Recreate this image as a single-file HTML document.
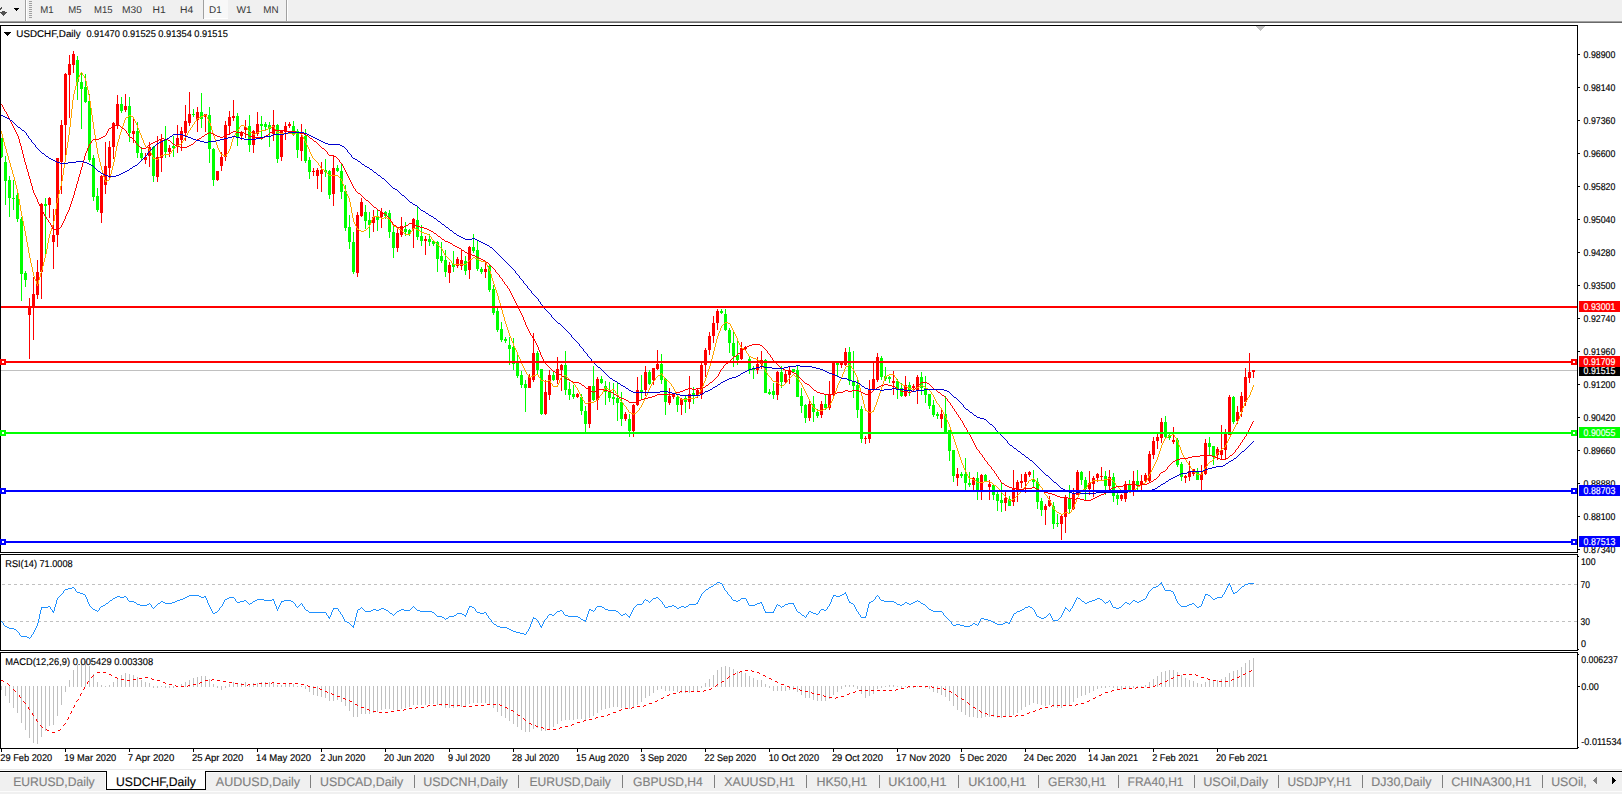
<!DOCTYPE html>
<html><head><meta charset="utf-8"><title>USDCHF,Daily</title>
<style>
html,body{margin:0;padding:0;background:#fff}
body{width:1622px;height:794px;position:relative;overflow:hidden;font-family:"Liberation Sans",sans-serif}
text{white-space:pre;text-rendering:geometricPrecision}
</style></head><body>
<svg width="1622" height="794" viewBox="0 0 1622 794" style="position:absolute;left:0;top:0" font-family="Liberation Sans, sans-serif" shape-rendering="crispEdges">
<rect x="0" y="0" width="1622" height="21" fill="#f0f0f0"/>
<rect x="0" y="21" width="1622" height="1" fill="#a0a0a0"/>
<rect x="0" y="22" width="1622" height="1" fill="#696969"/>
<rect x="25" y="0" width="1" height="21" fill="#a0a0a0"/>
<rect x="26" y="0" width="1" height="21" fill="#fff"/>
<rect x="286" y="0" width="1" height="21" fill="#a0a0a0"/>
<rect x="287" y="0" width="1" height="21" fill="#fff"/>
<rect x="203" y="0" width="1" height="19" fill="#a0a0a0"/>
<rect x="204" y="0" width="24" height="18" fill="#f8f8f8"/>
<rect x="204" y="18" width="24" height="1" fill="#fff"/>
<rect x="29" y="1" width="3" height="1" fill="#a0a0a0"/>
<rect x="29" y="3" width="3" height="1" fill="#a0a0a0"/>
<rect x="29" y="5" width="3" height="1" fill="#a0a0a0"/>
<rect x="29" y="7" width="3" height="1" fill="#a0a0a0"/>
<rect x="29" y="9" width="3" height="1" fill="#a0a0a0"/>
<rect x="29" y="11" width="3" height="1" fill="#a0a0a0"/>
<rect x="29" y="13" width="3" height="1" fill="#a0a0a0"/>
<rect x="29" y="15" width="3" height="1" fill="#a0a0a0"/>
<rect x="29" y="17" width="3" height="1" fill="#a0a0a0"/>
<path d="M14 8h5v1h-1v1h-1v1h-1v-1h-1v-1h-1z" fill="#000"/>
<path fill="#505050" d="M1 7h1v2h-1zM0 8h1v2h-1zM2 11h3v1h-3zM0 12h7v1h-7zM1 13h5v1h-5zM2 14h3v1h-3zM3 15h1v1h-1z"/>
<text x="40.2" y="13" font-size="9.8" fill="#383838" stroke="#383838" stroke-width="0" textLength="13.4" lengthAdjust="spacingAndGlyphs">M1</text>
<text x="68.2" y="13" font-size="9.8" fill="#383838" stroke="#383838" stroke-width="0" textLength="13.3" lengthAdjust="spacingAndGlyphs">M5</text>
<text x="94" y="13" font-size="9.8" fill="#383838" stroke="#383838" stroke-width="0" textLength="18.5" lengthAdjust="spacingAndGlyphs">M15</text>
<text x="122.1" y="13" font-size="9.8" fill="#383838" stroke="#383838" stroke-width="0" textLength="19.9" lengthAdjust="spacingAndGlyphs">M30</text>
<text x="152.6" y="13" font-size="9.8" fill="#383838" stroke="#383838" stroke-width="0" textLength="13.2" lengthAdjust="spacingAndGlyphs">H1</text>
<text x="180.1" y="13" font-size="9.8" fill="#383838" stroke="#383838" stroke-width="0" textLength="13.2" lengthAdjust="spacingAndGlyphs">H4</text>
<text x="209.1" y="13" font-size="9.8" fill="#383838" stroke="#383838" stroke-width="0" textLength="12.7" lengthAdjust="spacingAndGlyphs">D1</text>
<text x="236.4" y="13" font-size="9.8" fill="#383838" stroke="#383838" stroke-width="0" textLength="15.2" lengthAdjust="spacingAndGlyphs">W1</text>
<text x="263.3" y="13" font-size="9.8" fill="#383838" stroke="#383838" stroke-width="0" textLength="15.3" lengthAdjust="spacingAndGlyphs">MN</text>
<rect x="0" y="25" width="1" height="724" fill="#000"/>
<rect x="0" y="25" width="1578" height="1" fill="#000"/>
<rect x="0" y="552" width="1578" height="1" fill="#000"/>
<rect x="1577" y="25" width="1" height="528" fill="#000"/>
<rect x="0" y="554" width="1578" height="1" fill="#000"/>
<rect x="0" y="650" width="1578" height="1" fill="#000"/>
<rect x="1577" y="554" width="1" height="97" fill="#000"/>
<rect x="0" y="652" width="1578" height="1" fill="#000"/>
<rect x="0" y="748" width="1578" height="1" fill="#000"/>
<rect x="1577" y="652" width="1" height="97" fill="#000"/>
<rect x="0" y="553" width="1578" height="1" fill="#fff"/>
<rect x="0" y="651" width="1578" height="1" fill="#fff"/>
<clipPath id="cm"><rect x="1" y="26" width="1576" height="526"/></clipPath>
<clipPath id="cr"><rect x="1" y="555" width="1576" height="95"/></clipPath>
<clipPath id="cd"><rect x="1" y="653" width="1576" height="95"/></clipPath>
<g clip-path="url(#cm)">
<rect x="1" y="370" width="1576" height="1" fill="#c0c0c0"/>
<rect x="1" y="138" width="1" height="20" fill="#00ff00"/>
<rect x="0" y="138" width="3" height="19" fill="#00ff00"/>
<rect x="5" y="156" width="1" height="49" fill="#00ff00"/>
<rect x="4" y="162" width="3" height="19" fill="#00ff00"/>
<rect x="9" y="176" width="1" height="41" fill="#00ff00"/>
<rect x="8" y="180" width="3" height="18" fill="#00ff00"/>
<rect x="13" y="180" width="1" height="30" fill="#00ff00"/>
<rect x="12" y="198" width="3" height="1" fill="#00ff00"/>
<rect x="17" y="192" width="1" height="30" fill="#00ff00"/>
<rect x="16" y="195" width="3" height="24" fill="#00ff00"/>
<rect x="21" y="217" width="1" height="84" fill="#00ff00"/>
<rect x="20" y="219" width="3" height="55" fill="#00ff00"/>
<rect x="25" y="271" width="1" height="16" fill="#00ff00"/>
<rect x="24" y="273" width="3" height="7" fill="#00ff00"/>
<rect x="29" y="298" width="1" height="61" fill="#ff0000"/>
<rect x="28" y="307" width="3" height="8" fill="#ff0000"/>
<rect x="33" y="277" width="1" height="63" fill="#ff0000"/>
<rect x="32" y="294" width="3" height="14" fill="#ff0000"/>
<rect x="37" y="260" width="1" height="39" fill="#ff0000"/>
<rect x="36" y="272" width="3" height="23" fill="#ff0000"/>
<rect x="41" y="203" width="1" height="96" fill="#ff0000"/>
<rect x="40" y="204" width="3" height="68" fill="#ff0000"/>
<rect x="45" y="198" width="1" height="57" fill="#00ff00"/>
<rect x="44" y="204" width="3" height="2" fill="#00ff00"/>
<rect x="49" y="197" width="1" height="21" fill="#ff0000"/>
<rect x="48" y="198" width="3" height="7" fill="#ff0000"/>
<rect x="53" y="209" width="1" height="60" fill="#ff0000"/>
<rect x="52" y="235" width="3" height="7" fill="#ff0000"/>
<rect x="57" y="158" width="1" height="89" fill="#ff0000"/>
<rect x="56" y="158" width="3" height="77" fill="#ff0000"/>
<rect x="61" y="120" width="1" height="74" fill="#ff0000"/>
<rect x="60" y="125" width="3" height="37" fill="#ff0000"/>
<rect x="65" y="73" width="1" height="83" fill="#ff0000"/>
<rect x="64" y="74" width="3" height="51" fill="#ff0000"/>
<rect x="69" y="55" width="1" height="63" fill="#ff0000"/>
<rect x="68" y="64" width="3" height="11" fill="#ff0000"/>
<rect x="73" y="51" width="1" height="22" fill="#ff0000"/>
<rect x="72" y="54" width="3" height="11" fill="#ff0000"/>
<rect x="77" y="56" width="1" height="44" fill="#00ff00"/>
<rect x="76" y="60" width="3" height="22" fill="#00ff00"/>
<rect x="81" y="72" width="1" height="57" fill="#00ff00"/>
<rect x="80" y="82" width="3" height="7" fill="#00ff00"/>
<rect x="85" y="74" width="1" height="29" fill="#00ff00"/>
<rect x="84" y="87" width="3" height="15" fill="#00ff00"/>
<rect x="89" y="94" width="1" height="68" fill="#00ff00"/>
<rect x="88" y="101" width="3" height="59" fill="#00ff00"/>
<rect x="93" y="155" width="1" height="46" fill="#00ff00"/>
<rect x="92" y="158" width="3" height="39" fill="#00ff00"/>
<rect x="97" y="188" width="1" height="24" fill="#00ff00"/>
<rect x="96" y="196" width="3" height="14" fill="#00ff00"/>
<rect x="101" y="175" width="1" height="48" fill="#ff0000"/>
<rect x="100" y="176" width="3" height="37" fill="#ff0000"/>
<rect x="105" y="142" width="1" height="52" fill="#ff0000"/>
<rect x="104" y="166" width="3" height="19" fill="#ff0000"/>
<rect x="109" y="141" width="1" height="37" fill="#ff0000"/>
<rect x="108" y="147" width="3" height="21" fill="#ff0000"/>
<rect x="113" y="122" width="1" height="37" fill="#ff0000"/>
<rect x="112" y="123" width="3" height="24" fill="#ff0000"/>
<rect x="117" y="95" width="1" height="34" fill="#ff0000"/>
<rect x="116" y="104" width="3" height="21" fill="#ff0000"/>
<rect x="121" y="97" width="1" height="16" fill="#00ff00"/>
<rect x="120" y="104" width="3" height="7" fill="#00ff00"/>
<rect x="125" y="94" width="1" height="18" fill="#ff0000"/>
<rect x="124" y="106" width="3" height="4" fill="#ff0000"/>
<rect x="129" y="97" width="1" height="45" fill="#00ff00"/>
<rect x="128" y="106" width="3" height="27" fill="#00ff00"/>
<rect x="133" y="117" width="1" height="26" fill="#ff0000"/>
<rect x="132" y="131" width="3" height="3" fill="#ff0000"/>
<rect x="137" y="122" width="1" height="36" fill="#00ff00"/>
<rect x="136" y="131" width="3" height="22" fill="#00ff00"/>
<rect x="141" y="147" width="1" height="14" fill="#00ff00"/>
<rect x="140" y="153" width="3" height="5" fill="#00ff00"/>
<rect x="145" y="153" width="1" height="11" fill="#ff0000"/>
<rect x="144" y="157" width="3" height="3" fill="#ff0000"/>
<rect x="149" y="142" width="1" height="25" fill="#ff0000"/>
<rect x="148" y="147" width="3" height="9" fill="#ff0000"/>
<rect x="153" y="146" width="1" height="36" fill="#00ff00"/>
<rect x="152" y="147" width="3" height="29" fill="#00ff00"/>
<rect x="157" y="136" width="1" height="46" fill="#ff0000"/>
<rect x="156" y="157" width="3" height="20" fill="#ff0000"/>
<rect x="161" y="134" width="1" height="38" fill="#ff0000"/>
<rect x="160" y="140" width="3" height="18" fill="#ff0000"/>
<rect x="165" y="126" width="1" height="32" fill="#00ff00"/>
<rect x="164" y="140" width="3" height="12" fill="#00ff00"/>
<rect x="169" y="145" width="1" height="12" fill="#ff0000"/>
<rect x="168" y="148" width="3" height="4" fill="#ff0000"/>
<rect x="173" y="136" width="1" height="21" fill="#00ff00"/>
<rect x="172" y="146" width="3" height="2" fill="#00ff00"/>
<rect x="177" y="125" width="1" height="28" fill="#ff0000"/>
<rect x="176" y="138" width="3" height="9" fill="#ff0000"/>
<rect x="181" y="127" width="1" height="24" fill="#ff0000"/>
<rect x="180" y="131" width="3" height="9" fill="#ff0000"/>
<rect x="185" y="105" width="1" height="36" fill="#ff0000"/>
<rect x="184" y="121" width="3" height="12" fill="#ff0000"/>
<rect x="189" y="92" width="1" height="34" fill="#ff0000"/>
<rect x="188" y="114" width="3" height="9" fill="#ff0000"/>
<rect x="193" y="109" width="1" height="8" fill="#00ff00"/>
<rect x="192" y="114" width="3" height="1" fill="#00ff00"/>
<rect x="197" y="107" width="1" height="25" fill="#ff0000"/>
<rect x="196" y="112" width="3" height="8" fill="#ff0000"/>
<rect x="201" y="93" width="1" height="35" fill="#00ff00"/>
<rect x="200" y="112" width="3" height="7" fill="#00ff00"/>
<rect x="205" y="114" width="1" height="18" fill="#ff0000"/>
<rect x="204" y="114" width="3" height="3" fill="#ff0000"/>
<rect x="209" y="107" width="1" height="56" fill="#00ff00"/>
<rect x="208" y="115" width="3" height="34" fill="#00ff00"/>
<rect x="213" y="148" width="1" height="38" fill="#00ff00"/>
<rect x="212" y="149" width="3" height="31" fill="#00ff00"/>
<rect x="217" y="171" width="1" height="10" fill="#ff0000"/>
<rect x="216" y="171" width="3" height="9" fill="#ff0000"/>
<rect x="221" y="152" width="1" height="19" fill="#ff0000"/>
<rect x="220" y="157" width="3" height="9" fill="#ff0000"/>
<rect x="225" y="121" width="1" height="40" fill="#ff0000"/>
<rect x="224" y="125" width="3" height="32" fill="#ff0000"/>
<rect x="229" y="111" width="1" height="24" fill="#ff0000"/>
<rect x="228" y="117" width="3" height="9" fill="#ff0000"/>
<rect x="233" y="100" width="1" height="21" fill="#ff0000"/>
<rect x="232" y="116" width="3" height="2" fill="#ff0000"/>
<rect x="237" y="113" width="1" height="33" fill="#00ff00"/>
<rect x="236" y="116" width="3" height="21" fill="#00ff00"/>
<rect x="241" y="131" width="1" height="9" fill="#ff0000"/>
<rect x="240" y="133" width="3" height="3" fill="#ff0000"/>
<rect x="245" y="120" width="1" height="18" fill="#ff0000"/>
<rect x="244" y="127" width="3" height="3" fill="#ff0000"/>
<rect x="249" y="115" width="1" height="37" fill="#00ff00"/>
<rect x="248" y="126" width="3" height="19" fill="#00ff00"/>
<rect x="253" y="130" width="1" height="23" fill="#ff0000"/>
<rect x="252" y="131" width="3" height="14" fill="#ff0000"/>
<rect x="257" y="112" width="1" height="24" fill="#ff0000"/>
<rect x="256" y="124" width="3" height="10" fill="#ff0000"/>
<rect x="261" y="116" width="1" height="24" fill="#00ff00"/>
<rect x="260" y="124" width="3" height="2" fill="#00ff00"/>
<rect x="265" y="122" width="1" height="8" fill="#00ff00"/>
<rect x="264" y="124" width="3" height="3" fill="#00ff00"/>
<rect x="269" y="122" width="1" height="25" fill="#00ff00"/>
<rect x="268" y="125" width="3" height="4" fill="#00ff00"/>
<rect x="273" y="110" width="1" height="31" fill="#ff0000"/>
<rect x="272" y="125" width="3" height="9" fill="#ff0000"/>
<rect x="277" y="124" width="1" height="39" fill="#00ff00"/>
<rect x="276" y="125" width="3" height="34" fill="#00ff00"/>
<rect x="281" y="130" width="1" height="31" fill="#ff0000"/>
<rect x="280" y="130" width="3" height="27" fill="#ff0000"/>
<rect x="285" y="122" width="1" height="18" fill="#ff0000"/>
<rect x="284" y="126" width="3" height="6" fill="#ff0000"/>
<rect x="289" y="122" width="1" height="6" fill="#ff0000"/>
<rect x="288" y="124" width="3" height="2" fill="#ff0000"/>
<rect x="293" y="121" width="1" height="15" fill="#00ff00"/>
<rect x="292" y="126" width="3" height="8" fill="#00ff00"/>
<rect x="297" y="129" width="1" height="29" fill="#00ff00"/>
<rect x="296" y="131" width="3" height="19" fill="#00ff00"/>
<rect x="301" y="124" width="1" height="37" fill="#ff0000"/>
<rect x="300" y="137" width="3" height="14" fill="#ff0000"/>
<rect x="305" y="129" width="1" height="34" fill="#00ff00"/>
<rect x="304" y="136" width="3" height="25" fill="#00ff00"/>
<rect x="309" y="157" width="1" height="22" fill="#00ff00"/>
<rect x="308" y="160" width="3" height="12" fill="#00ff00"/>
<rect x="313" y="168" width="1" height="8" fill="#ff0000"/>
<rect x="312" y="171" width="3" height="1" fill="#ff0000"/>
<rect x="317" y="168" width="1" height="21" fill="#ff0000"/>
<rect x="316" y="170" width="3" height="6" fill="#ff0000"/>
<rect x="321" y="162" width="1" height="30" fill="#ff0000"/>
<rect x="320" y="170" width="3" height="4" fill="#ff0000"/>
<rect x="325" y="159" width="1" height="18" fill="#00ff00"/>
<rect x="324" y="170" width="3" height="2" fill="#00ff00"/>
<rect x="329" y="170" width="1" height="29" fill="#00ff00"/>
<rect x="328" y="171" width="3" height="24" fill="#00ff00"/>
<rect x="333" y="156" width="1" height="50" fill="#ff0000"/>
<rect x="332" y="168" width="3" height="26" fill="#ff0000"/>
<rect x="337" y="165" width="1" height="7" fill="#00ff00"/>
<rect x="336" y="168" width="3" height="3" fill="#00ff00"/>
<rect x="341" y="164" width="1" height="35" fill="#00ff00"/>
<rect x="340" y="171" width="3" height="21" fill="#00ff00"/>
<rect x="345" y="185" width="1" height="46" fill="#00ff00"/>
<rect x="344" y="191" width="3" height="37" fill="#00ff00"/>
<rect x="349" y="215" width="1" height="34" fill="#00ff00"/>
<rect x="348" y="227" width="3" height="15" fill="#00ff00"/>
<rect x="353" y="232" width="1" height="42" fill="#00ff00"/>
<rect x="352" y="242" width="3" height="30" fill="#00ff00"/>
<rect x="357" y="212" width="1" height="65" fill="#ff0000"/>
<rect x="356" y="215" width="3" height="58" fill="#ff0000"/>
<rect x="361" y="198" width="1" height="19" fill="#ff0000"/>
<rect x="360" y="202" width="3" height="14" fill="#ff0000"/>
<rect x="365" y="205" width="1" height="24" fill="#00ff00"/>
<rect x="364" y="212" width="3" height="9" fill="#00ff00"/>
<rect x="369" y="212" width="1" height="26" fill="#00ff00"/>
<rect x="368" y="220" width="3" height="5" fill="#00ff00"/>
<rect x="373" y="210" width="1" height="22" fill="#ff0000"/>
<rect x="372" y="217" width="3" height="6" fill="#ff0000"/>
<rect x="377" y="210" width="1" height="21" fill="#00ff00"/>
<rect x="376" y="217" width="3" height="3" fill="#00ff00"/>
<rect x="381" y="208" width="1" height="20" fill="#ff0000"/>
<rect x="380" y="212" width="3" height="5" fill="#ff0000"/>
<rect x="385" y="211" width="1" height="8" fill="#00ff00"/>
<rect x="384" y="212" width="3" height="4" fill="#00ff00"/>
<rect x="389" y="210" width="1" height="28" fill="#00ff00"/>
<rect x="388" y="213" width="3" height="19" fill="#00ff00"/>
<rect x="393" y="226" width="1" height="32" fill="#00ff00"/>
<rect x="392" y="232" width="3" height="16" fill="#00ff00"/>
<rect x="397" y="227" width="1" height="25" fill="#ff0000"/>
<rect x="396" y="233" width="3" height="15" fill="#ff0000"/>
<rect x="401" y="217" width="1" height="20" fill="#ff0000"/>
<rect x="400" y="226" width="3" height="9" fill="#ff0000"/>
<rect x="405" y="222" width="1" height="14" fill="#00ff00"/>
<rect x="404" y="229" width="3" height="3" fill="#00ff00"/>
<rect x="409" y="229" width="1" height="7" fill="#00ff00"/>
<rect x="408" y="230" width="3" height="4" fill="#00ff00"/>
<rect x="413" y="218" width="1" height="30" fill="#ff0000"/>
<rect x="412" y="219" width="3" height="10" fill="#ff0000"/>
<rect x="417" y="207" width="1" height="33" fill="#00ff00"/>
<rect x="416" y="220" width="3" height="17" fill="#00ff00"/>
<rect x="421" y="225" width="1" height="21" fill="#00ff00"/>
<rect x="420" y="236" width="3" height="5" fill="#00ff00"/>
<rect x="425" y="236" width="1" height="19" fill="#ff0000"/>
<rect x="424" y="239" width="3" height="2" fill="#ff0000"/>
<rect x="429" y="234" width="1" height="12" fill="#00ff00"/>
<rect x="428" y="239" width="3" height="3" fill="#00ff00"/>
<rect x="433" y="240" width="1" height="6" fill="#00ff00"/>
<rect x="432" y="241" width="3" height="3" fill="#00ff00"/>
<rect x="437" y="241" width="1" height="31" fill="#00ff00"/>
<rect x="436" y="242" width="3" height="17" fill="#00ff00"/>
<rect x="441" y="242" width="1" height="21" fill="#00ff00"/>
<rect x="440" y="256" width="3" height="5" fill="#00ff00"/>
<rect x="445" y="250" width="1" height="27" fill="#00ff00"/>
<rect x="444" y="260" width="3" height="12" fill="#00ff00"/>
<rect x="449" y="262" width="1" height="21" fill="#ff0000"/>
<rect x="448" y="265" width="3" height="8" fill="#ff0000"/>
<rect x="453" y="251" width="1" height="21" fill="#00ff00"/>
<rect x="452" y="264" width="3" height="3" fill="#00ff00"/>
<rect x="457" y="257" width="1" height="11" fill="#ff0000"/>
<rect x="456" y="259" width="3" height="7" fill="#ff0000"/>
<rect x="461" y="249" width="1" height="21" fill="#ff0000"/>
<rect x="460" y="260" width="3" height="6" fill="#ff0000"/>
<rect x="465" y="256" width="1" height="19" fill="#00ff00"/>
<rect x="464" y="261" width="3" height="10" fill="#00ff00"/>
<rect x="469" y="246" width="1" height="33" fill="#ff0000"/>
<rect x="468" y="247" width="3" height="23" fill="#ff0000"/>
<rect x="473" y="234" width="1" height="19" fill="#00ff00"/>
<rect x="472" y="247" width="3" height="4" fill="#00ff00"/>
<rect x="477" y="240" width="1" height="31" fill="#00ff00"/>
<rect x="476" y="250" width="3" height="19" fill="#00ff00"/>
<rect x="481" y="267" width="1" height="7" fill="#00ff00"/>
<rect x="480" y="269" width="3" height="3" fill="#00ff00"/>
<rect x="485" y="261" width="1" height="17" fill="#ff0000"/>
<rect x="484" y="269" width="3" height="3" fill="#ff0000"/>
<rect x="489" y="265" width="1" height="27" fill="#00ff00"/>
<rect x="488" y="266" width="3" height="24" fill="#00ff00"/>
<rect x="493" y="285" width="1" height="30" fill="#00ff00"/>
<rect x="492" y="289" width="3" height="24" fill="#00ff00"/>
<rect x="497" y="308" width="1" height="24" fill="#00ff00"/>
<rect x="496" y="311" width="3" height="19" fill="#00ff00"/>
<rect x="501" y="322" width="1" height="20" fill="#00ff00"/>
<rect x="500" y="329" width="3" height="11" fill="#00ff00"/>
<rect x="505" y="337" width="1" height="6" fill="#00ff00"/>
<rect x="504" y="339" width="3" height="2" fill="#00ff00"/>
<rect x="509" y="337" width="1" height="28" fill="#00ff00"/>
<rect x="508" y="345" width="3" height="4" fill="#00ff00"/>
<rect x="513" y="338" width="1" height="32" fill="#00ff00"/>
<rect x="512" y="347" width="3" height="17" fill="#00ff00"/>
<rect x="517" y="355" width="1" height="23" fill="#00ff00"/>
<rect x="516" y="363" width="3" height="13" fill="#00ff00"/>
<rect x="521" y="371" width="1" height="17" fill="#00ff00"/>
<rect x="520" y="375" width="3" height="10" fill="#00ff00"/>
<rect x="525" y="380" width="1" height="32" fill="#00ff00"/>
<rect x="524" y="384" width="3" height="4" fill="#00ff00"/>
<rect x="529" y="374" width="1" height="14" fill="#ff0000"/>
<rect x="528" y="377" width="3" height="11" fill="#ff0000"/>
<rect x="533" y="333" width="1" height="49" fill="#ff0000"/>
<rect x="532" y="353" width="3" height="27" fill="#ff0000"/>
<rect x="537" y="351" width="1" height="23" fill="#00ff00"/>
<rect x="536" y="353" width="3" height="17" fill="#00ff00"/>
<rect x="541" y="369" width="1" height="46" fill="#00ff00"/>
<rect x="540" y="369" width="3" height="45" fill="#00ff00"/>
<rect x="545" y="380" width="1" height="35" fill="#ff0000"/>
<rect x="544" y="392" width="3" height="22" fill="#ff0000"/>
<rect x="549" y="370" width="1" height="30" fill="#ff0000"/>
<rect x="548" y="375" width="3" height="20" fill="#ff0000"/>
<rect x="553" y="371" width="1" height="10" fill="#00ff00"/>
<rect x="552" y="375" width="3" height="5" fill="#00ff00"/>
<rect x="557" y="357" width="1" height="27" fill="#ff0000"/>
<rect x="556" y="369" width="3" height="11" fill="#ff0000"/>
<rect x="561" y="364" width="1" height="27" fill="#ff0000"/>
<rect x="560" y="365" width="3" height="5" fill="#ff0000"/>
<rect x="565" y="351" width="1" height="44" fill="#00ff00"/>
<rect x="564" y="365" width="3" height="25" fill="#00ff00"/>
<rect x="569" y="382" width="1" height="18" fill="#00ff00"/>
<rect x="568" y="389" width="3" height="6" fill="#00ff00"/>
<rect x="573" y="385" width="1" height="14" fill="#00ff00"/>
<rect x="572" y="394" width="3" height="3" fill="#00ff00"/>
<rect x="577" y="393" width="1" height="5" fill="#ff0000"/>
<rect x="576" y="394" width="3" height="3" fill="#ff0000"/>
<rect x="581" y="394" width="1" height="21" fill="#00ff00"/>
<rect x="580" y="397" width="3" height="14" fill="#00ff00"/>
<rect x="585" y="406" width="1" height="27" fill="#00ff00"/>
<rect x="584" y="411" width="3" height="13" fill="#00ff00"/>
<rect x="589" y="386" width="1" height="42" fill="#ff0000"/>
<rect x="588" y="386" width="3" height="38" fill="#ff0000"/>
<rect x="593" y="366" width="1" height="35" fill="#00ff00"/>
<rect x="592" y="386" width="3" height="14" fill="#00ff00"/>
<rect x="597" y="377" width="1" height="33" fill="#ff0000"/>
<rect x="596" y="379" width="3" height="21" fill="#ff0000"/>
<rect x="601" y="376" width="1" height="8" fill="#00ff00"/>
<rect x="600" y="379" width="3" height="4" fill="#00ff00"/>
<rect x="605" y="381" width="1" height="24" fill="#00ff00"/>
<rect x="604" y="386" width="3" height="6" fill="#00ff00"/>
<rect x="609" y="382" width="1" height="20" fill="#00ff00"/>
<rect x="608" y="391" width="3" height="7" fill="#00ff00"/>
<rect x="613" y="383" width="1" height="22" fill="#00ff00"/>
<rect x="612" y="397" width="3" height="2" fill="#00ff00"/>
<rect x="617" y="383" width="1" height="38" fill="#00ff00"/>
<rect x="616" y="398" width="3" height="5" fill="#00ff00"/>
<rect x="621" y="392" width="1" height="34" fill="#00ff00"/>
<rect x="620" y="402" width="3" height="17" fill="#00ff00"/>
<rect x="625" y="412" width="1" height="9" fill="#ff0000"/>
<rect x="624" y="414" width="3" height="5" fill="#ff0000"/>
<rect x="629" y="414" width="1" height="23" fill="#00ff00"/>
<rect x="628" y="419" width="3" height="12" fill="#00ff00"/>
<rect x="633" y="404" width="1" height="33" fill="#ff0000"/>
<rect x="632" y="405" width="3" height="26" fill="#ff0000"/>
<rect x="637" y="377" width="1" height="29" fill="#ff0000"/>
<rect x="636" y="390" width="3" height="15" fill="#ff0000"/>
<rect x="641" y="375" width="1" height="24" fill="#00ff00"/>
<rect x="640" y="390" width="3" height="2" fill="#00ff00"/>
<rect x="645" y="366" width="1" height="30" fill="#ff0000"/>
<rect x="644" y="372" width="3" height="18" fill="#ff0000"/>
<rect x="649" y="370" width="1" height="15" fill="#00ff00"/>
<rect x="648" y="372" width="3" height="12" fill="#00ff00"/>
<rect x="653" y="368" width="1" height="17" fill="#ff0000"/>
<rect x="652" y="368" width="3" height="12" fill="#ff0000"/>
<rect x="657" y="350" width="1" height="20" fill="#ff0000"/>
<rect x="656" y="364" width="3" height="5" fill="#ff0000"/>
<rect x="661" y="354" width="1" height="30" fill="#00ff00"/>
<rect x="660" y="364" width="3" height="16" fill="#00ff00"/>
<rect x="665" y="378" width="1" height="37" fill="#00ff00"/>
<rect x="664" y="379" width="3" height="23" fill="#00ff00"/>
<rect x="669" y="388" width="1" height="17" fill="#ff0000"/>
<rect x="668" y="396" width="3" height="7" fill="#ff0000"/>
<rect x="673" y="393" width="1" height="6" fill="#ff0000"/>
<rect x="672" y="394" width="3" height="3" fill="#ff0000"/>
<rect x="677" y="395" width="1" height="17" fill="#00ff00"/>
<rect x="676" y="397" width="3" height="8" fill="#00ff00"/>
<rect x="681" y="398" width="1" height="17" fill="#ff0000"/>
<rect x="680" y="399" width="3" height="6" fill="#ff0000"/>
<rect x="685" y="395" width="1" height="18" fill="#00ff00"/>
<rect x="684" y="398" width="3" height="4" fill="#00ff00"/>
<rect x="689" y="376" width="1" height="33" fill="#ff0000"/>
<rect x="688" y="394" width="3" height="8" fill="#ff0000"/>
<rect x="693" y="387" width="1" height="17" fill="#00ff00"/>
<rect x="692" y="393" width="3" height="2" fill="#00ff00"/>
<rect x="697" y="388" width="1" height="10" fill="#ff0000"/>
<rect x="696" y="390" width="3" height="5" fill="#ff0000"/>
<rect x="701" y="361" width="1" height="38" fill="#ff0000"/>
<rect x="700" y="365" width="3" height="30" fill="#ff0000"/>
<rect x="705" y="348" width="1" height="29" fill="#ff0000"/>
<rect x="704" y="350" width="3" height="15" fill="#ff0000"/>
<rect x="709" y="332" width="1" height="23" fill="#ff0000"/>
<rect x="708" y="336" width="3" height="14" fill="#ff0000"/>
<rect x="713" y="316" width="1" height="27" fill="#ff0000"/>
<rect x="712" y="323" width="3" height="13" fill="#ff0000"/>
<rect x="717" y="309" width="1" height="21" fill="#ff0000"/>
<rect x="716" y="311" width="3" height="12" fill="#ff0000"/>
<rect x="721" y="309" width="1" height="5" fill="#00ff00"/>
<rect x="720" y="311" width="3" height="2" fill="#00ff00"/>
<rect x="725" y="309" width="1" height="22" fill="#00ff00"/>
<rect x="724" y="314" width="3" height="16" fill="#00ff00"/>
<rect x="729" y="328" width="1" height="25" fill="#00ff00"/>
<rect x="728" y="330" width="3" height="13" fill="#00ff00"/>
<rect x="733" y="331" width="1" height="36" fill="#00ff00"/>
<rect x="732" y="343" width="3" height="13" fill="#00ff00"/>
<rect x="737" y="341" width="1" height="24" fill="#00ff00"/>
<rect x="736" y="355" width="3" height="5" fill="#00ff00"/>
<rect x="741" y="342" width="1" height="18" fill="#ff0000"/>
<rect x="740" y="348" width="3" height="11" fill="#ff0000"/>
<rect x="745" y="346" width="1" height="4" fill="#ff0000"/>
<rect x="744" y="347" width="3" height="2" fill="#ff0000"/>
<rect x="749" y="357" width="1" height="17" fill="#00ff00"/>
<rect x="748" y="359" width="3" height="11" fill="#00ff00"/>
<rect x="753" y="366" width="1" height="13" fill="#00ff00"/>
<rect x="752" y="368" width="3" height="2" fill="#00ff00"/>
<rect x="757" y="357" width="1" height="17" fill="#ff0000"/>
<rect x="756" y="364" width="3" height="6" fill="#ff0000"/>
<rect x="761" y="351" width="1" height="18" fill="#ff0000"/>
<rect x="760" y="360" width="3" height="4" fill="#ff0000"/>
<rect x="765" y="359" width="1" height="34" fill="#00ff00"/>
<rect x="764" y="360" width="3" height="33" fill="#00ff00"/>
<rect x="769" y="389" width="1" height="6" fill="#00ff00"/>
<rect x="768" y="392" width="3" height="2" fill="#00ff00"/>
<rect x="773" y="383" width="1" height="16" fill="#00ff00"/>
<rect x="772" y="391" width="3" height="4" fill="#00ff00"/>
<rect x="777" y="371" width="1" height="29" fill="#ff0000"/>
<rect x="776" y="372" width="3" height="23" fill="#ff0000"/>
<rect x="781" y="366" width="1" height="22" fill="#00ff00"/>
<rect x="780" y="372" width="3" height="10" fill="#00ff00"/>
<rect x="785" y="370" width="1" height="14" fill="#ff0000"/>
<rect x="784" y="374" width="3" height="8" fill="#ff0000"/>
<rect x="789" y="366" width="1" height="18" fill="#ff0000"/>
<rect x="788" y="370" width="3" height="5" fill="#ff0000"/>
<rect x="793" y="369" width="1" height="4" fill="#00ff00"/>
<rect x="792" y="369" width="3" height="3" fill="#00ff00"/>
<rect x="797" y="365" width="1" height="32" fill="#00ff00"/>
<rect x="796" y="370" width="3" height="27" fill="#00ff00"/>
<rect x="801" y="388" width="1" height="25" fill="#00ff00"/>
<rect x="800" y="396" width="3" height="10" fill="#00ff00"/>
<rect x="805" y="404" width="1" height="19" fill="#00ff00"/>
<rect x="804" y="405" width="3" height="13" fill="#00ff00"/>
<rect x="809" y="400" width="1" height="21" fill="#ff0000"/>
<rect x="808" y="404" width="3" height="14" fill="#ff0000"/>
<rect x="813" y="396" width="1" height="26" fill="#00ff00"/>
<rect x="812" y="404" width="3" height="8" fill="#00ff00"/>
<rect x="817" y="409" width="1" height="9" fill="#00ff00"/>
<rect x="816" y="412" width="3" height="4" fill="#00ff00"/>
<rect x="821" y="401" width="1" height="17" fill="#ff0000"/>
<rect x="820" y="404" width="3" height="11" fill="#ff0000"/>
<rect x="825" y="395" width="1" height="15" fill="#00ff00"/>
<rect x="824" y="404" width="3" height="4" fill="#00ff00"/>
<rect x="829" y="381" width="1" height="29" fill="#ff0000"/>
<rect x="828" y="395" width="3" height="13" fill="#ff0000"/>
<rect x="833" y="362" width="1" height="34" fill="#ff0000"/>
<rect x="832" y="362" width="3" height="33" fill="#ff0000"/>
<rect x="837" y="362" width="1" height="14" fill="#00ff00"/>
<rect x="836" y="363" width="3" height="2" fill="#00ff00"/>
<rect x="841" y="362" width="1" height="6" fill="#ff0000"/>
<rect x="840" y="362" width="3" height="3" fill="#ff0000"/>
<rect x="845" y="348" width="1" height="18" fill="#ff0000"/>
<rect x="844" y="352" width="3" height="13" fill="#ff0000"/>
<rect x="849" y="347" width="1" height="38" fill="#00ff00"/>
<rect x="848" y="352" width="3" height="29" fill="#00ff00"/>
<rect x="853" y="351" width="1" height="47" fill="#00ff00"/>
<rect x="852" y="381" width="3" height="5" fill="#00ff00"/>
<rect x="857" y="379" width="1" height="39" fill="#00ff00"/>
<rect x="856" y="385" width="3" height="25" fill="#00ff00"/>
<rect x="861" y="406" width="1" height="37" fill="#00ff00"/>
<rect x="860" y="409" width="3" height="30" fill="#00ff00"/>
<rect x="865" y="436" width="1" height="8" fill="#ff0000"/>
<rect x="864" y="438" width="3" height="1" fill="#ff0000"/>
<rect x="869" y="380" width="1" height="63" fill="#ff0000"/>
<rect x="868" y="389" width="3" height="50" fill="#ff0000"/>
<rect x="873" y="362" width="1" height="27" fill="#ff0000"/>
<rect x="872" y="379" width="3" height="10" fill="#ff0000"/>
<rect x="877" y="353" width="1" height="29" fill="#ff0000"/>
<rect x="876" y="357" width="3" height="23" fill="#ff0000"/>
<rect x="881" y="356" width="1" height="24" fill="#00ff00"/>
<rect x="880" y="358" width="3" height="19" fill="#00ff00"/>
<rect x="885" y="367" width="1" height="14" fill="#00ff00"/>
<rect x="884" y="376" width="3" height="3" fill="#00ff00"/>
<rect x="889" y="376" width="1" height="7" fill="#00ff00"/>
<rect x="888" y="377" width="3" height="2" fill="#00ff00"/>
<rect x="893" y="371" width="1" height="24" fill="#ff0000"/>
<rect x="892" y="381" width="3" height="2" fill="#ff0000"/>
<rect x="897" y="379" width="1" height="20" fill="#00ff00"/>
<rect x="896" y="381" width="3" height="9" fill="#00ff00"/>
<rect x="901" y="383" width="1" height="14" fill="#00ff00"/>
<rect x="900" y="388" width="3" height="8" fill="#00ff00"/>
<rect x="905" y="376" width="1" height="21" fill="#ff0000"/>
<rect x="904" y="385" width="3" height="11" fill="#ff0000"/>
<rect x="909" y="382" width="1" height="14" fill="#00ff00"/>
<rect x="908" y="385" width="3" height="6" fill="#00ff00"/>
<rect x="913" y="384" width="1" height="6" fill="#ff0000"/>
<rect x="912" y="386" width="3" height="2" fill="#ff0000"/>
<rect x="917" y="375" width="1" height="29" fill="#ff0000"/>
<rect x="916" y="377" width="3" height="14" fill="#ff0000"/>
<rect x="921" y="372" width="1" height="23" fill="#00ff00"/>
<rect x="920" y="377" width="3" height="11" fill="#00ff00"/>
<rect x="925" y="376" width="1" height="27" fill="#00ff00"/>
<rect x="924" y="388" width="3" height="7" fill="#00ff00"/>
<rect x="929" y="394" width="1" height="15" fill="#00ff00"/>
<rect x="928" y="394" width="3" height="12" fill="#00ff00"/>
<rect x="933" y="400" width="1" height="17" fill="#00ff00"/>
<rect x="932" y="405" width="3" height="10" fill="#00ff00"/>
<rect x="937" y="412" width="1" height="7" fill="#00ff00"/>
<rect x="936" y="414" width="3" height="2" fill="#00ff00"/>
<rect x="941" y="408" width="1" height="20" fill="#ff0000"/>
<rect x="940" y="414" width="3" height="5" fill="#ff0000"/>
<rect x="945" y="396" width="1" height="36" fill="#00ff00"/>
<rect x="944" y="414" width="3" height="18" fill="#00ff00"/>
<rect x="949" y="430" width="1" height="31" fill="#00ff00"/>
<rect x="948" y="430" width="3" height="21" fill="#00ff00"/>
<rect x="953" y="450" width="1" height="32" fill="#00ff00"/>
<rect x="952" y="450" width="3" height="26" fill="#00ff00"/>
<rect x="957" y="468" width="1" height="18" fill="#ff0000"/>
<rect x="956" y="474" width="3" height="4" fill="#ff0000"/>
<rect x="961" y="472" width="1" height="6" fill="#00ff00"/>
<rect x="960" y="474" width="3" height="2" fill="#00ff00"/>
<rect x="965" y="458" width="1" height="32" fill="#00ff00"/>
<rect x="964" y="474" width="3" height="9" fill="#00ff00"/>
<rect x="969" y="472" width="1" height="15" fill="#00ff00"/>
<rect x="968" y="483" width="3" height="2" fill="#00ff00"/>
<rect x="973" y="477" width="1" height="13" fill="#ff0000"/>
<rect x="972" y="478" width="3" height="7" fill="#ff0000"/>
<rect x="977" y="472" width="1" height="28" fill="#00ff00"/>
<rect x="976" y="478" width="3" height="12" fill="#00ff00"/>
<rect x="981" y="474" width="1" height="26" fill="#ff0000"/>
<rect x="980" y="475" width="3" height="15" fill="#ff0000"/>
<rect x="985" y="474" width="1" height="8" fill="#00ff00"/>
<rect x="984" y="475" width="3" height="6" fill="#00ff00"/>
<rect x="989" y="480" width="1" height="20" fill="#ff0000"/>
<rect x="988" y="484" width="3" height="3" fill="#ff0000"/>
<rect x="993" y="484" width="1" height="16" fill="#00ff00"/>
<rect x="992" y="485" width="3" height="10" fill="#00ff00"/>
<rect x="997" y="492" width="1" height="19" fill="#00ff00"/>
<rect x="996" y="494" width="3" height="7" fill="#00ff00"/>
<rect x="1001" y="483" width="1" height="29" fill="#00ff00"/>
<rect x="1000" y="500" width="3" height="3" fill="#00ff00"/>
<rect x="1005" y="492" width="1" height="19" fill="#ff0000"/>
<rect x="1004" y="498" width="3" height="5" fill="#ff0000"/>
<rect x="1009" y="496" width="1" height="10" fill="#00ff00"/>
<rect x="1008" y="499" width="3" height="7" fill="#00ff00"/>
<rect x="1013" y="470" width="1" height="36" fill="#ff0000"/>
<rect x="1012" y="489" width="3" height="13" fill="#ff0000"/>
<rect x="1017" y="480" width="1" height="22" fill="#ff0000"/>
<rect x="1016" y="482" width="3" height="9" fill="#ff0000"/>
<rect x="1021" y="474" width="1" height="14" fill="#ff0000"/>
<rect x="1020" y="481" width="3" height="2" fill="#ff0000"/>
<rect x="1025" y="472" width="1" height="21" fill="#ff0000"/>
<rect x="1024" y="474" width="3" height="8" fill="#ff0000"/>
<rect x="1029" y="471" width="1" height="6" fill="#ff0000"/>
<rect x="1028" y="472" width="3" height="3" fill="#ff0000"/>
<rect x="1033" y="470" width="1" height="17" fill="#00ff00"/>
<rect x="1032" y="480" width="3" height="2" fill="#00ff00"/>
<rect x="1037" y="478" width="1" height="31" fill="#00ff00"/>
<rect x="1036" y="482" width="3" height="20" fill="#00ff00"/>
<rect x="1041" y="498" width="1" height="18" fill="#00ff00"/>
<rect x="1040" y="501" width="3" height="9" fill="#00ff00"/>
<rect x="1045" y="504" width="1" height="21" fill="#ff0000"/>
<rect x="1044" y="506" width="3" height="4" fill="#ff0000"/>
<rect x="1049" y="496" width="1" height="11" fill="#ff0000"/>
<rect x="1048" y="500" width="3" height="6" fill="#ff0000"/>
<rect x="1053" y="502" width="1" height="27" fill="#00ff00"/>
<rect x="1052" y="506" width="3" height="18" fill="#00ff00"/>
<rect x="1057" y="514" width="1" height="13" fill="#00ff00"/>
<rect x="1056" y="523" width="3" height="1" fill="#00ff00"/>
<rect x="1061" y="515" width="1" height="25" fill="#ff0000"/>
<rect x="1060" y="516" width="3" height="8" fill="#ff0000"/>
<rect x="1065" y="495" width="1" height="38" fill="#ff0000"/>
<rect x="1064" y="497" width="3" height="20" fill="#ff0000"/>
<rect x="1069" y="485" width="1" height="28" fill="#00ff00"/>
<rect x="1068" y="499" width="3" height="10" fill="#00ff00"/>
<rect x="1073" y="488" width="1" height="22" fill="#ff0000"/>
<rect x="1072" y="494" width="3" height="15" fill="#ff0000"/>
<rect x="1077" y="470" width="1" height="25" fill="#ff0000"/>
<rect x="1076" y="472" width="3" height="23" fill="#ff0000"/>
<rect x="1081" y="471" width="1" height="14" fill="#00ff00"/>
<rect x="1080" y="472" width="3" height="8" fill="#00ff00"/>
<rect x="1085" y="477" width="1" height="23" fill="#00ff00"/>
<rect x="1084" y="480" width="3" height="9" fill="#00ff00"/>
<rect x="1089" y="471" width="1" height="24" fill="#ff0000"/>
<rect x="1088" y="483" width="3" height="6" fill="#ff0000"/>
<rect x="1093" y="476" width="1" height="21" fill="#ff0000"/>
<rect x="1092" y="478" width="3" height="6" fill="#ff0000"/>
<rect x="1097" y="473" width="1" height="9" fill="#ff0000"/>
<rect x="1096" y="474" width="3" height="4" fill="#ff0000"/>
<rect x="1101" y="467" width="1" height="14" fill="#ff0000"/>
<rect x="1100" y="476" width="3" height="1" fill="#ff0000"/>
<rect x="1105" y="471" width="1" height="24" fill="#00ff00"/>
<rect x="1104" y="476" width="3" height="10" fill="#00ff00"/>
<rect x="1109" y="470" width="1" height="21" fill="#ff0000"/>
<rect x="1108" y="477" width="3" height="9" fill="#ff0000"/>
<rect x="1113" y="473" width="1" height="29" fill="#00ff00"/>
<rect x="1112" y="477" width="3" height="19" fill="#00ff00"/>
<rect x="1117" y="493" width="1" height="12" fill="#00ff00"/>
<rect x="1116" y="495" width="3" height="4" fill="#00ff00"/>
<rect x="1121" y="494" width="1" height="7" fill="#ff0000"/>
<rect x="1120" y="495" width="3" height="4" fill="#ff0000"/>
<rect x="1125" y="481" width="1" height="21" fill="#ff0000"/>
<rect x="1124" y="484" width="3" height="15" fill="#ff0000"/>
<rect x="1129" y="480" width="1" height="13" fill="#00ff00"/>
<rect x="1128" y="484" width="3" height="7" fill="#00ff00"/>
<rect x="1133" y="471" width="1" height="25" fill="#ff0000"/>
<rect x="1132" y="481" width="3" height="10" fill="#ff0000"/>
<rect x="1137" y="470" width="1" height="21" fill="#00ff00"/>
<rect x="1136" y="481" width="3" height="5" fill="#00ff00"/>
<rect x="1141" y="475" width="1" height="16" fill="#ff0000"/>
<rect x="1140" y="481" width="3" height="3" fill="#ff0000"/>
<rect x="1145" y="473" width="1" height="10" fill="#ff0000"/>
<rect x="1144" y="475" width="3" height="6" fill="#ff0000"/>
<rect x="1149" y="451" width="1" height="31" fill="#ff0000"/>
<rect x="1148" y="454" width="3" height="27" fill="#ff0000"/>
<rect x="1153" y="437" width="1" height="22" fill="#ff0000"/>
<rect x="1152" y="441" width="3" height="14" fill="#ff0000"/>
<rect x="1157" y="434" width="1" height="15" fill="#ff0000"/>
<rect x="1156" y="437" width="3" height="4" fill="#ff0000"/>
<rect x="1161" y="418" width="1" height="25" fill="#ff0000"/>
<rect x="1160" y="422" width="3" height="16" fill="#ff0000"/>
<rect x="1165" y="416" width="1" height="22" fill="#00ff00"/>
<rect x="1164" y="422" width="3" height="15" fill="#00ff00"/>
<rect x="1169" y="434" width="1" height="6" fill="#00ff00"/>
<rect x="1168" y="435" width="3" height="3" fill="#00ff00"/>
<rect x="1173" y="427" width="1" height="17" fill="#ff0000"/>
<rect x="1172" y="440" width="3" height="2" fill="#ff0000"/>
<rect x="1177" y="438" width="1" height="29" fill="#00ff00"/>
<rect x="1176" y="440" width="3" height="25" fill="#00ff00"/>
<rect x="1181" y="462" width="1" height="19" fill="#00ff00"/>
<rect x="1180" y="464" width="3" height="13" fill="#00ff00"/>
<rect x="1185" y="475" width="1" height="8" fill="#ff0000"/>
<rect x="1184" y="476" width="3" height="2" fill="#ff0000"/>
<rect x="1189" y="461" width="1" height="20" fill="#ff0000"/>
<rect x="1188" y="471" width="3" height="6" fill="#ff0000"/>
<rect x="1193" y="469" width="1" height="7" fill="#ff0000"/>
<rect x="1192" y="469" width="3" height="5" fill="#ff0000"/>
<rect x="1197" y="468" width="1" height="12" fill="#00ff00"/>
<rect x="1196" y="471" width="3" height="9" fill="#00ff00"/>
<rect x="1201" y="465" width="1" height="25" fill="#ff0000"/>
<rect x="1200" y="474" width="3" height="6" fill="#ff0000"/>
<rect x="1205" y="439" width="1" height="36" fill="#ff0000"/>
<rect x="1204" y="443" width="3" height="31" fill="#ff0000"/>
<rect x="1209" y="437" width="1" height="18" fill="#00ff00"/>
<rect x="1208" y="443" width="3" height="4" fill="#00ff00"/>
<rect x="1213" y="446" width="1" height="19" fill="#00ff00"/>
<rect x="1212" y="446" width="3" height="10" fill="#00ff00"/>
<rect x="1217" y="447" width="1" height="13" fill="#ff0000"/>
<rect x="1216" y="449" width="3" height="6" fill="#ff0000"/>
<rect x="1221" y="425" width="1" height="34" fill="#ff0000"/>
<rect x="1220" y="450" width="3" height="5" fill="#ff0000"/>
<rect x="1225" y="429" width="1" height="30" fill="#ff0000"/>
<rect x="1224" y="432" width="3" height="18" fill="#ff0000"/>
<rect x="1229" y="395" width="1" height="40" fill="#ff0000"/>
<rect x="1228" y="397" width="3" height="38" fill="#ff0000"/>
<rect x="1233" y="396" width="1" height="28" fill="#00ff00"/>
<rect x="1232" y="397" width="3" height="25" fill="#00ff00"/>
<rect x="1237" y="406" width="1" height="18" fill="#ff0000"/>
<rect x="1236" y="412" width="3" height="9" fill="#ff0000"/>
<rect x="1241" y="392" width="1" height="25" fill="#ff0000"/>
<rect x="1240" y="396" width="3" height="16" fill="#ff0000"/>
<rect x="1245" y="368" width="1" height="38" fill="#ff0000"/>
<rect x="1244" y="377" width="3" height="25" fill="#ff0000"/>
<rect x="1249" y="353" width="1" height="30" fill="#ff0000"/>
<rect x="1248" y="372" width="3" height="6" fill="#ff0000"/>
<rect x="1253" y="370" width="1" height="8" fill="#ff0000"/>
<rect x="1252" y="370" width="3" height="2" fill="#ff0000"/>
<path fill="#ffa500" d="M1 131h1v3h-1zM2 134h1v4h-1zM3 138h1v4h-1zM4 142h1v4h-1zM5 146h1v3h-1zM6 149h1v4h-1zM7 153h1v3h-1zM8 156h1v4h-1zM9 160h1v3h-1zM10 163h1v4h-1zM11 167h1v3h-1zM12 170h1v4h-1zM13 174h1v3h-1zM14 177h1v4h-1zM15 181h1v4h-1zM16 185h1v4h-1zM17 189h1v4h-1zM18 193h1v6h-1zM19 199h1v6h-1zM20 205h1v6h-1zM21 211h1v5h-1zM22 216h1v5h-1zM23 221h1v5h-1zM24 226h1v5h-1zM25 231h1v5h-1zM26 236h1v6h-1zM27 242h1v5h-1zM28 247h1v6h-1zM29 253h1v5h-1zM30 258h1v5h-1zM31 263h1v4h-1zM32 267h1v5h-1zM33 272h1v4h-1zM34 276h1v3h-1zM35 279h1v2h-1zM36 281h1v3h-1zM37 284h1v2h-1zM38 280h1v4h-1zM39 277h1v3h-1zM40 273h1v4h-1zM41 270h1v3h-1zM42 266h1v4h-1zM43 262h1v4h-1zM44 258h1v4h-1zM45 254h1v4h-1zM46 249h1v5h-1zM47 243h1v6h-1zM48 238h1v5h-1zM49 234h1v4h-1zM50 231h1v3h-1zM51 228h1v3h-1zM52 225h1v3h-1zM53 221h1v4h-1zM54 215h1v6h-1zM55 209h1v6h-1zM56 203h1v6h-1zM57 198h1v5h-1zM58 194h1v4h-1zM59 190h1v4h-1zM60 186h1v4h-1zM61 181h1v5h-1zM62 175h1v6h-1zM63 168h1v7h-1zM64 162h1v6h-1zM65 155h1v7h-1zM66 148h1v7h-1zM67 142h1v6h-1zM68 135h1v7h-1zM69 127h1v8h-1zM70 118h1v9h-1zM71 109h1v9h-1zM72 100h1v9h-1zM73 94h1v6h-1zM74 90h1v4h-1zM75 86h1v4h-1zM76 82h1v4h-1zM77 79h1v3h-1zM78 77h1v2h-1zM79 75h1v2h-1zM80 73h1v2h-1zM81 72h1v1h-1zM82 73h1v2h-1zM83 75h1v1h-1zM84 76h1v2h-1zM85 78h1v3h-1zM86 81h1v5h-1zM87 86h1v4h-1zM88 90h1v5h-1zM89 95h1v6h-1zM90 101h1v7h-1zM91 108h1v7h-1zM92 115h1v7h-1zM93 122h1v7h-1zM94 129h1v6h-1zM95 135h1v7h-1zM96 142h1v6h-1zM97 148h1v6h-1zM98 154h1v4h-1zM99 158h1v4h-1zM100 162h1v4h-1zM101 166h1v4h-1zM102 170h1v3h-1zM103 173h1v4h-1zM104 177h1v3h-1zM105 180h1v2h-1zM106 181h1v1h-1zM107 180h2v1h-2zM109 178h1v2h-1zM110 174h1v4h-1zM111 170h1v4h-1zM112 166h1v4h-1zM113 162h1v4h-1zM114 157h1v5h-1zM115 151h1v6h-1zM116 146h1v5h-1zM117 142h1v4h-1zM118 139h1v3h-1zM119 135h1v4h-1zM120 132h1v3h-1zM121 129h1v3h-1zM122 126h1v3h-1zM123 123h1v3h-1zM124 120h1v3h-1zM125 118h1v2h-1zM126 117h2v1h-2zM128 116h1v1h-1zM129 115h2v1h-2zM131 116h2v1h-2zM133 117h1v2h-1zM134 119h1v2h-1zM135 121h1v2h-1zM136 123h1v2h-1zM137 125h1v3h-1zM138 128h1v2h-1zM139 130h1v3h-1zM140 133h1v2h-1zM141 135h1v3h-1zM142 138h1v2h-1zM143 140h1v3h-1zM144 143h1v2h-1zM145 145h1v2h-1zM146 147h2v1h-2zM148 148h1v1h-1zM149 149h1v2h-1zM150 151h1v2h-1zM151 153h1v2h-1zM152 155h1v2h-1zM153 157h1v2h-1zM154 158h2v1h-2zM156 159h2v1h-2zM158 158h1v1h-1zM159 157h1v1h-1zM160 156h1v1h-1zM161 155h3v1h-3zM164 154h6v1h-6zM170 153h1v1h-1zM171 151h1v2h-1zM172 150h1v1h-1zM173 149h1v1h-1zM174 148h1v1h-1zM175 147h1v1h-1zM176 146h1v1h-1zM177 145h2v1h-2zM179 144h2v1h-2zM181 143h1v1h-1zM182 141h1v2h-1zM183 140h1v1h-1zM184 138h1v2h-1zM185 137h1v1h-1zM186 135h1v2h-1zM187 133h1v2h-1zM188 131h1v2h-1zM189 130h1v1h-1zM190 128h1v2h-1zM191 127h1v1h-1zM192 125h1v2h-1zM193 124h1v1h-1zM194 122h1v2h-1zM195 121h1v1h-1zM196 119h1v2h-1zM197 118h2v1h-2zM199 117h2v1h-2zM201 116h2v1h-2zM203 115h2v1h-2zM205 114h1v1h-1zM206 115h1v2h-1zM207 117h1v2h-1zM208 119h1v2h-1zM209 121h1v2h-1zM210 123h1v3h-1zM211 126h1v4h-1zM212 130h1v3h-1zM213 133h1v3h-1zM214 136h1v3h-1zM215 139h1v3h-1zM216 142h1v3h-1zM217 145h1v3h-1zM218 148h1v2h-1zM219 150h1v2h-1zM220 152h1v2h-1zM221 154h2v1h-2zM223 155h2v1h-2zM225 156h1v1h-1zM226 154h1v2h-1zM227 153h1v1h-1zM228 151h1v2h-1zM229 149h1v2h-1zM230 146h1v3h-1zM231 142h1v4h-1zM232 139h1v3h-1zM233 137h1v2h-1zM234 135h1v2h-1zM235 133h1v2h-1zM236 131h1v2h-1zM237 130h1v1h-1zM238 129h1v1h-1zM239 127h1v2h-1zM240 126h1v1h-1zM241 125h3v1h-3zM244 126h2v1h-2zM246 127h1v1h-1zM247 128h1v2h-1zM248 130h1v1h-1zM249 131h1v1h-1zM250 132h2v1h-2zM252 133h1v1h-1zM253 134h2v1h-2zM255 133h2v1h-2zM257 132h2v1h-2zM259 131h2v1h-2zM261 130h5v1h-5zM266 129h2v1h-2zM268 128h1v1h-1zM269 127h3v1h-3zM272 126h2v1h-2zM274 127h1v2h-1zM275 129h1v1h-1zM276 130h1v2h-1zM277 132h3v1h-3zM280 133h12v1h-12zM292 134h3v1h-3zM295 133h2v1h-2zM297 132h2v1h-2zM299 133h2v1h-2zM301 134h1v1h-1zM302 135h1v2h-1zM303 137h1v2h-1zM304 139h1v2h-1zM305 141h1v2h-1zM306 143h1v2h-1zM307 145h1v2h-1zM308 147h1v2h-1zM309 149h1v3h-1zM310 152h1v2h-1zM311 154h1v2h-1zM312 156h1v2h-1zM313 158h1v1h-1zM314 159h1v1h-1zM315 160h1v1h-1zM316 161h1v1h-1zM317 162h1v1h-1zM318 163h1v2h-1zM319 165h1v1h-1zM320 166h1v2h-1zM321 168h1v1h-1zM322 169h2v1h-2zM324 170h1v1h-1zM325 171h1v1h-1zM326 172h1v1h-1zM327 173h1v1h-1zM328 174h1v1h-1zM329 175h9v1h-9zM338 176h1v1h-1zM339 177h1v1h-1zM340 178h1v1h-1zM341 179h1v2h-1zM342 181h1v3h-1zM343 184h1v2h-1zM344 186h1v3h-1zM345 189h1v3h-1zM346 192h1v2h-1zM347 194h1v2h-1zM348 196h1v2h-1zM349 198h1v4h-1zM350 202h1v5h-1zM351 207h1v6h-1zM352 213h1v5h-1zM353 218h1v4h-1zM354 222h1v2h-1zM355 224h1v2h-1zM356 226h1v2h-1zM357 228h1v2h-1zM358 229h1v1h-1zM359 230h2v1h-2zM361 231h3v1h-3zM364 230h2v1h-2zM366 229h1v1h-1zM367 228h1v1h-1zM368 227h1v1h-1zM369 225h1v2h-1zM370 223h1v2h-1zM371 220h1v3h-1zM372 218h1v2h-1zM373 216h1v2h-1zM374 216h5v1h-5zM379 217h2v1h-2zM381 218h3v1h-3zM384 217h3v1h-3zM387 218h2v1h-2zM389 219h1v1h-1zM390 220h1v2h-1zM391 222h1v1h-1zM392 223h1v2h-1zM393 225h1v1h-1zM394 226h2v1h-2zM396 227h1v1h-1zM397 228h2v1h-2zM399 229h2v1h-2zM401 230h1v1h-1zM402 231h1v1h-1zM403 232h1v1h-1zM404 233h1v1h-1zM405 234h5v1h-5zM410 232h1v2h-1zM411 231h1v1h-1zM412 229h1v2h-1zM413 228h3v1h-3zM416 229h2v1h-2zM418 230h2v1h-2zM420 231h1v1h-1zM421 232h3v1h-3zM424 233h3v1h-3zM427 234h2v1h-2zM429 235h1v1h-1zM430 236h1v1h-1zM431 237h1v2h-1zM432 239h1v1h-1zM433 240h1v1h-1zM434 241h1v1h-1zM435 242h1v1h-1zM436 243h1v1h-1zM437 244h1v1h-1zM438 245h1v1h-1zM439 246h1v1h-1zM440 247h1v1h-1zM441 248h1v1h-1zM442 249h1v2h-1zM443 251h1v2h-1zM444 253h1v2h-1zM445 255h1v1h-1zM446 256h1v1h-1zM447 257h1v1h-1zM448 258h1v1h-1zM449 259h1v1h-1zM450 260h1v1h-1zM451 261h1v2h-1zM452 263h1v1h-1zM453 264h13v1h-13zM466 263h1v1h-1zM467 262h1v1h-1zM468 261h1v1h-1zM469 260h1v1h-1zM470 259h2v1h-2zM472 258h1v1h-1zM473 257h2v1h-2zM475 258h2v1h-2zM477 259h2v1h-2zM479 260h2v1h-2zM481 261h5v1h-5zM485 262h1v1h-1zM486 263h1v2h-1zM487 265h1v2h-1zM488 267h1v2h-1zM489 269h1v2h-1zM490 271h1v3h-1zM491 274h1v4h-1zM492 278h1v3h-1zM493 281h1v3h-1zM494 284h1v3h-1zM495 287h1v3h-1zM496 290h1v3h-1zM497 293h1v3h-1zM498 296h1v4h-1zM499 300h1v3h-1zM500 303h1v4h-1zM501 307h1v3h-1zM502 310h1v4h-1zM503 314h1v3h-1zM504 317h1v4h-1zM505 321h1v3h-1zM506 324h1v3h-1zM507 327h1v3h-1zM508 330h1v3h-1zM509 333h1v3h-1zM510 336h1v2h-1zM511 338h1v3h-1zM512 341h1v2h-1zM513 343h1v3h-1zM514 346h1v2h-1zM515 348h1v2h-1zM516 350h1v2h-1zM517 352h1v3h-1zM518 355h1v2h-1zM519 357h1v2h-1zM520 359h1v2h-1zM521 361h1v3h-1zM522 364h1v2h-1zM523 366h1v2h-1zM524 368h1v2h-1zM525 370h1v2h-1zM526 372h1v2h-1zM527 374h1v1h-1zM528 375h1v2h-1zM529 377h2v1h-2zM531 376h2v1h-2zM533 375h3v1h-3zM536 374h2v1h-2zM538 375h1v2h-1zM539 377h1v1h-1zM540 378h1v2h-1zM541 380h3v1h-3zM544 381h4v1h-4zM548 380h2v1h-2zM550 381h1v2h-1zM551 383h1v1h-1zM552 384h1v2h-1zM553 386h5v1h-5zM557 385h1v1h-1zM558 383h1v2h-1zM559 380h1v3h-1zM560 378h1v2h-1zM561 376h1v2h-1zM562 376h2v1h-2zM564 375h2v1h-2zM566 376h1v1h-1zM567 377h1v1h-1zM568 378h1v1h-1zM569 379h1v1h-1zM570 380h1v1h-1zM571 381h1v1h-1zM572 382h1v1h-1zM573 383h1v1h-1zM574 384h1v1h-1zM575 385h1v2h-1zM576 387h1v1h-1zM577 388h1v2h-1zM578 390h1v2h-1zM579 392h1v2h-1zM580 394h1v2h-1zM581 396h1v2h-1zM582 398h1v2h-1zM583 400h1v1h-1zM584 401h1v2h-1zM585 403h3v1h-3zM588 402h6v1h-6zM594 401h2v1h-2zM596 400h1v1h-1zM597 399h1v1h-1zM598 398h1v1h-1zM599 396h1v2h-1zM600 395h1v1h-1zM601 394h1v1h-1zM602 392h1v2h-1zM603 390h1v2h-1zM604 388h1v2h-1zM605 387h1v1h-1zM606 388h2v1h-2zM608 389h1v1h-1zM609 390h3v1h-3zM612 389h2v1h-2zM614 390h1v1h-1zM615 391h1v2h-1zM616 393h1v1h-1zM617 394h1v1h-1zM618 395h1v2h-1zM619 397h1v2h-1zM620 399h1v2h-1zM621 401h1v1h-1zM622 402h1v1h-1zM623 403h1v2h-1zM624 405h1v1h-1zM625 406h1v1h-1zM626 407h1v2h-1zM627 409h1v1h-1zM628 410h1v2h-1zM629 412h2v1h-2zM631 413h2v1h-2zM633 414h1v1h-1zM634 413h2v1h-2zM636 412h1v1h-1zM637 411h1v1h-1zM638 410h1v1h-1zM639 408h1v2h-1zM640 407h1v1h-1zM641 405h1v2h-1zM642 403h1v2h-1zM643 401h1v2h-1zM644 399h1v2h-1zM645 397h1v2h-1zM646 395h1v2h-1zM647 392h1v3h-1zM648 390h1v2h-1zM649 388h1v2h-1zM650 386h1v2h-1zM651 384h1v2h-1zM652 382h1v2h-1zM653 381h1v1h-1zM654 380h1v1h-1zM655 378h1v2h-1zM656 377h1v1h-1zM657 376h1v1h-1zM658 375h2v1h-2zM660 374h1v1h-1zM661 373h1v1h-1zM662 374h1v2h-1zM663 376h1v1h-1zM664 377h1v2h-1zM665 379h1v1h-1zM666 380h2v1h-2zM668 381h1v1h-1zM669 382h1v1h-1zM670 383h1v1h-1zM671 384h1v2h-1zM672 386h1v1h-1zM673 387h1v2h-1zM674 389h1v2h-1zM675 391h1v2h-1zM676 393h1v2h-1zM677 395h1v1h-1zM678 396h1v1h-1zM679 397h1v1h-1zM680 398h1v1h-1zM681 399h7v1h-7zM688 398h7v1h-7zM695 397h2v1h-2zM697 396h1v1h-1zM698 394h1v2h-1zM699 392h1v2h-1zM700 390h1v2h-1zM701 388h1v2h-1zM702 386h1v2h-1zM703 383h1v3h-1zM704 381h1v2h-1zM705 378h1v3h-1zM706 375h1v3h-1zM707 372h1v3h-1zM708 369h1v3h-1zM709 366h1v3h-1zM710 362h1v4h-1zM711 359h1v3h-1zM712 355h1v4h-1zM713 351h1v4h-1zM714 347h1v4h-1zM715 343h1v4h-1zM716 339h1v4h-1zM717 336h1v3h-1zM718 333h1v3h-1zM719 331h1v2h-1zM720 328h1v3h-1zM721 326h1v2h-1zM722 325h1v1h-1zM723 324h1v1h-1zM724 323h1v1h-1zM725 322h3v1h-3zM728 323h2v1h-2zM730 324h1v2h-1zM731 326h1v2h-1zM732 328h1v2h-1zM733 330h1v2h-1zM734 332h1v2h-1zM735 334h1v2h-1zM736 336h1v2h-1zM737 338h1v3h-1zM738 341h1v2h-1zM739 343h1v2h-1zM740 345h1v2h-1zM741 347h1v1h-1zM742 348h2v1h-2zM744 349h1v1h-1zM745 350h1v1h-1zM746 351h1v2h-1zM747 353h1v1h-1zM748 354h1v2h-1zM749 356h2v1h-2zM751 357h2v1h-2zM753 358h3v1h-3zM756 359h2v1h-2zM758 360h2v1h-2zM760 361h1v1h-1zM761 362h1v2h-1zM762 364h1v2h-1zM763 366h1v2h-1zM764 368h1v2h-1zM765 370h1v2h-1zM766 372h1v1h-1zM767 373h1v2h-1zM768 375h1v1h-1zM769 376h1v1h-1zM770 377h1v1h-1zM771 378h1v2h-1zM772 380h1v1h-1zM773 381h3v1h-3zM776 382h2v1h-2zM778 383h1v1h-1zM779 384h1v1h-1zM780 385h1v1h-1zM781 386h1v1h-1zM782 385h2v1h-2zM784 384h1v1h-1zM785 383h1v1h-1zM786 382h1v1h-1zM787 380h1v2h-1zM788 379h1v1h-1zM789 378h1v1h-1zM790 377h1v1h-1zM791 376h1v1h-1zM792 375h1v1h-1zM793 374h1v1h-1zM794 375h1v1h-1zM795 376h1v1h-1zM796 377h1v1h-1zM797 378h1v1h-1zM798 379h1v1h-1zM799 380h1v2h-1zM800 382h1v1h-1zM801 383h1v2h-1zM802 385h1v2h-1zM803 387h1v2h-1zM804 389h1v2h-1zM805 391h1v2h-1zM806 393h1v2h-1zM807 395h1v2h-1zM808 397h1v2h-1zM809 399h1v2h-1zM810 401h1v2h-1zM811 403h1v2h-1zM812 405h1v2h-1zM813 407h1v1h-1zM814 408h2v1h-2zM816 409h1v1h-1zM817 410h6v1h-6zM823 409h2v1h-2zM825 408h2v1h-2zM827 407h2v1h-2zM829 405h1v2h-1zM830 403h1v2h-1zM831 401h1v2h-1zM832 399h1v2h-1zM833 396h1v3h-1zM834 393h1v3h-1zM835 391h1v2h-1zM836 388h1v3h-1zM837 385h1v3h-1zM838 383h1v2h-1zM839 381h1v2h-1zM840 379h1v2h-1zM841 377h1v2h-1zM842 374h1v3h-1zM843 372h1v2h-1zM844 369h1v3h-1zM845 367h1v2h-1zM846 366h2v1h-2zM848 365h1v1h-1zM849 364h1v1h-1zM850 365h1v1h-1zM851 366h1v2h-1zM852 368h1v1h-1zM853 369h1v2h-1zM854 371h1v2h-1zM855 373h1v2h-1zM856 375h1v2h-1zM857 377h1v3h-1zM858 380h1v4h-1zM859 384h1v4h-1zM860 388h1v4h-1zM861 392h1v4h-1zM862 396h1v4h-1zM863 400h1v4h-1zM864 404h1v4h-1zM865 408h1v3h-1zM866 410h1v1h-1zM867 411h2v1h-2zM869 412h3v1h-3zM872 411h2v1h-2zM873 410h1v1h-1zM874 407h1v3h-1zM875 405h1v2h-1zM876 402h1v3h-1zM877 399h1v3h-1zM878 396h1v3h-1zM879 393h1v3h-1zM880 390h1v3h-1zM881 387h1v3h-1zM882 384h1v3h-1zM883 381h1v3h-1zM884 378h1v3h-1zM885 376h1v2h-1zM886 376h1v1h-1zM887 375h2v1h-2zM889 374h5v1h-5zM894 375h1v2h-1zM895 377h1v1h-1zM896 378h1v2h-1zM897 380h1v1h-1zM898 381h1v1h-1zM899 382h1v1h-1zM900 383h1v1h-1zM901 384h2v1h-2zM903 385h2v1h-2zM905 386h2v1h-2zM907 387h2v1h-2zM909 388h3v1h-3zM912 389h3v1h-3zM915 388h2v1h-2zM917 387h2v1h-2zM919 386h2v1h-2zM921 385h2v1h-2zM923 386h2v1h-2zM925 387h1v1h-1zM926 388h2v1h-2zM928 389h1v1h-1zM929 390h1v1h-1zM930 391h1v1h-1zM931 392h1v2h-1zM932 394h1v1h-1zM933 395h1v2h-1zM934 397h1v2h-1zM935 399h1v2h-1zM936 401h1v2h-1zM937 403h1v1h-1zM938 404h1v1h-1zM939 405h1v2h-1zM940 407h1v1h-1zM941 408h1v2h-1zM942 410h1v2h-1zM943 412h1v2h-1zM944 414h1v2h-1zM945 416h1v2h-1zM946 418h1v2h-1zM947 420h1v2h-1zM948 422h1v2h-1zM949 424h1v3h-1zM950 427h1v3h-1zM951 430h1v3h-1zM952 433h1v3h-1zM953 436h1v3h-1zM954 439h1v3h-1zM955 442h1v3h-1zM956 445h1v3h-1zM957 448h1v3h-1zM958 451h1v3h-1zM959 454h1v3h-1zM960 457h1v3h-1zM961 460h1v3h-1zM962 463h1v2h-1zM963 465h1v3h-1zM964 468h1v2h-1zM965 470h1v2h-1zM966 472h1v2h-1zM967 474h1v2h-1zM968 476h1v2h-1zM969 478h3v1h-3zM972 479h2v1h-2zM974 480h2v1h-2zM976 481h1v1h-1zM977 482h7v1h-7zM984 481h6v1h-6zM990 482h2v1h-2zM992 483h1v1h-1zM993 484h1v1h-1zM994 485h2v1h-2zM996 486h1v1h-1zM997 487h1v1h-1zM998 488h1v1h-1zM999 489h1v2h-1zM1000 491h1v1h-1zM1001 492h1v1h-1zM1002 493h1v1h-1zM1003 494h1v1h-1zM1004 495h1v1h-1zM1005 496h1v1h-1zM1006 497h1v1h-1zM1007 498h1v1h-1zM1008 499h1v1h-1zM1009 500h3v1h-3zM1012 499h2v1h-2zM1014 498h1v1h-1zM1015 497h1v1h-1zM1016 496h1v1h-1zM1017 495h1v1h-1zM1018 494h1v1h-1zM1019 493h1v1h-1zM1020 492h1v1h-1zM1021 491h1v1h-1zM1022 490h1v1h-1zM1023 488h1v2h-1zM1024 487h1v1h-1zM1025 486h1v1h-1zM1026 484h1v2h-1zM1027 483h1v1h-1zM1028 481h1v2h-1zM1029 480h2v1h-2zM1031 479h2v1h-2zM1033 478h1v1h-1zM1034 479h1v1h-1zM1035 480h1v1h-1zM1036 481h1v1h-1zM1037 482h1v1h-1zM1038 483h1v1h-1zM1039 484h1v2h-1zM1040 486h1v1h-1zM1041 487h1v1h-1zM1042 488h1v2h-1zM1043 490h1v2h-1zM1044 492h1v2h-1zM1045 494h1v1h-1zM1046 495h1v1h-1zM1047 496h1v2h-1zM1048 498h1v1h-1zM1049 499h1v2h-1zM1050 501h1v2h-1zM1051 503h1v2h-1zM1052 505h1v2h-1zM1053 507h1v2h-1zM1054 509h1v1h-1zM1055 510h1v1h-1zM1056 511h1v1h-1zM1057 512h2v1h-2zM1059 513h2v1h-2zM1061 514h2v1h-2zM1063 513h2v1h-2zM1065 512h3v1h-3zM1068 513h2v1h-2zM1070 512h1v1h-1zM1071 510h1v2h-1zM1072 509h1v1h-1zM1073 507h1v2h-1zM1074 504h1v3h-1zM1075 502h1v2h-1zM1076 499h1v3h-1zM1077 497h1v2h-1zM1078 495h1v2h-1zM1079 493h1v2h-1zM1080 491h1v2h-1zM1081 490h2v1h-2zM1083 489h2v1h-2zM1085 488h1v1h-1zM1086 487h1v1h-1zM1087 485h1v2h-1zM1088 484h1v1h-1zM1089 483h1v1h-1zM1090 482h2v1h-2zM1092 481h1v1h-1zM1093 480h11v1h-11zM1104 479h4v1h-4zM1108 478h2v1h-2zM1110 479h2v1h-2zM1112 480h1v1h-1zM1113 481h1v1h-1zM1114 482h1v1h-1zM1115 483h1v2h-1zM1116 485h1v1h-1zM1117 486h1v1h-1zM1118 487h1v1h-1zM1119 488h1v1h-1zM1120 489h1v1h-1zM1121 490h6v1h-6zM1127 491h2v1h-2zM1129 492h2v1h-2zM1131 491h2v1h-2zM1133 490h1v1h-1zM1134 489h2v1h-2zM1136 488h1v1h-1zM1137 487h1v1h-1zM1138 486h2v1h-2zM1140 485h1v1h-1zM1141 484h2v1h-2zM1143 483h2v1h-2zM1145 482h1v1h-1zM1146 480h1v2h-1zM1147 478h1v2h-1zM1148 476h1v2h-1zM1149 474h1v2h-1zM1150 472h1v2h-1zM1151 470h1v2h-1zM1152 468h1v2h-1zM1153 466h1v2h-1zM1154 464h1v2h-1zM1155 462h1v2h-1zM1156 460h1v2h-1zM1157 457h1v3h-1zM1158 454h1v3h-1zM1159 451h1v3h-1zM1160 448h1v3h-1zM1161 445h1v3h-1zM1162 443h1v2h-1zM1163 441h1v2h-1zM1164 439h1v2h-1zM1165 438h1v1h-1zM1166 437h2v1h-2zM1168 436h1v1h-1zM1169 435h3v1h-3zM1172 434h2v1h-2zM1174 435h1v2h-1zM1175 437h1v1h-1zM1176 438h1v2h-1zM1177 440h1v2h-1zM1178 442h1v3h-1zM1179 445h1v2h-1zM1180 447h1v3h-1zM1181 450h1v3h-1zM1182 453h1v2h-1zM1183 455h1v2h-1zM1184 457h1v2h-1zM1185 459h1v1h-1zM1186 460h1v2h-1zM1187 462h1v1h-1zM1188 463h1v2h-1zM1189 465h1v1h-1zM1190 466h1v2h-1zM1191 468h1v1h-1zM1192 469h1v2h-1zM1193 471h1v1h-1zM1194 472h2v1h-2zM1196 473h1v1h-1zM1197 474h5v1h-5zM1202 472h1v2h-1zM1203 470h1v2h-1zM1204 468h1v2h-1zM1205 467h1v1h-1zM1206 466h1v1h-1zM1207 464h1v2h-1zM1208 463h1v1h-1zM1209 462h1v1h-1zM1210 461h2v1h-2zM1212 460h1v1h-1zM1213 459h1v1h-1zM1214 457h1v2h-1zM1215 456h1v1h-1zM1216 454h1v2h-1zM1217 453h1v1h-1zM1218 452h1v1h-1zM1219 451h1v1h-1zM1220 450h1v1h-1zM1221 449h1v1h-1zM1222 448h2v1h-2zM1224 447h1v1h-1zM1225 445h1v2h-1zM1226 443h1v2h-1zM1227 441h1v2h-1zM1228 439h1v2h-1zM1229 437h1v2h-1zM1230 435h1v2h-1zM1231 433h1v2h-1zM1232 431h1v2h-1zM1233 429h1v2h-1zM1234 427h1v2h-1zM1235 425h1v2h-1zM1236 423h1v2h-1zM1237 421h1v2h-1zM1238 419h1v2h-1zM1239 416h1v3h-1zM1240 414h1v2h-1zM1241 411h1v3h-1zM1242 408h1v3h-1zM1243 406h1v2h-1zM1244 403h1v3h-1zM1245 401h1v2h-1zM1246 400h1v1h-1zM1247 398h1v2h-1zM1248 397h1v1h-1zM1249 395h1v2h-1zM1250 392h1v3h-1zM1251 390h1v2h-1zM1252 387h1v3h-1zM1253 385h1v2h-1z"/>
<path fill="#ff0000" d="M1 104h1v1h-1zM2 105h1v2h-1zM3 107h1v2h-1zM4 109h1v2h-1zM5 111h1v1h-1zM6 112h1v2h-1zM7 114h1v2h-1zM8 116h1v2h-1zM9 118h1v2h-1zM10 120h1v2h-1zM11 122h1v2h-1zM12 124h1v2h-1zM13 126h1v2h-1zM14 128h1v2h-1zM15 130h1v2h-1zM16 132h1v2h-1zM17 134h1v2h-1zM18 136h1v3h-1zM19 139h1v4h-1zM20 143h1v3h-1zM21 146h1v4h-1zM22 150h1v4h-1zM23 154h1v4h-1zM24 158h1v4h-1zM25 162h1v3h-1zM26 165h1v4h-1zM27 169h1v3h-1zM28 172h1v4h-1zM29 176h1v3h-1zM30 179h1v4h-1zM31 183h1v3h-1zM32 186h1v4h-1zM33 190h1v3h-1zM34 193h1v2h-1zM35 195h1v2h-1zM36 197h1v2h-1zM37 199h1v3h-1zM38 202h1v2h-1zM39 204h1v2h-1zM40 206h1v2h-1zM41 208h1v2h-1zM42 210h1v2h-1zM43 212h1v2h-1zM44 214h1v2h-1zM45 216h1v1h-1zM46 217h1v2h-1zM47 219h1v1h-1zM48 220h1v2h-1zM49 222h1v1h-1zM50 223h1v2h-1zM51 225h1v2h-1zM52 227h1v2h-1zM53 229h3v1h-3zM56 230h2v1h-2zM58 229h1v1h-1zM59 228h1v1h-1zM60 227h1v1h-1zM61 225h1v2h-1zM62 223h1v2h-1zM63 221h1v2h-1zM64 219h1v2h-1zM65 216h1v3h-1zM66 214h1v2h-1zM67 212h1v2h-1zM68 210h1v2h-1zM69 207h1v3h-1zM70 204h1v3h-1zM71 201h1v3h-1zM72 198h1v3h-1zM73 195h1v3h-1zM74 191h1v4h-1zM75 188h1v3h-1zM76 184h1v4h-1zM77 181h1v3h-1zM78 177h1v4h-1zM79 174h1v3h-1zM80 170h1v4h-1zM81 167h1v3h-1zM82 163h1v4h-1zM83 160h1v3h-1zM84 156h1v4h-1zM85 153h1v3h-1zM86 151h1v2h-1zM87 148h1v3h-1zM88 146h1v2h-1zM89 144h1v2h-1zM90 143h1v1h-1zM91 141h1v2h-1zM92 140h1v1h-1zM93 139h6v1h-6zM99 138h2v1h-2zM101 137h2v1h-2zM103 136h2v1h-2zM105 135h1v1h-1zM106 133h1v2h-1zM107 131h1v2h-1zM108 129h1v2h-1zM109 128h2v1h-2zM111 127h2v1h-2zM113 126h2v1h-2zM115 125h2v1h-2zM117 124h1v1h-1zM118 125h2v1h-2zM120 126h1v1h-1zM121 127h1v1h-1zM122 128h2v1h-2zM124 129h1v1h-1zM125 130h1v1h-1zM126 131h1v2h-1zM127 133h1v1h-1zM128 134h1v2h-1zM129 136h1v1h-1zM130 137h2v1h-2zM132 138h1v1h-1zM133 139h1v1h-1zM134 140h1v1h-1zM135 141h1v2h-1zM136 143h1v1h-1zM137 144h1v1h-1zM138 145h1v1h-1zM139 146h1v1h-1zM140 147h1v1h-1zM141 148h5v1h-5zM146 147h1v1h-1zM147 146h1v1h-1zM148 145h1v1h-1zM149 144h2v1h-2zM151 143h2v1h-2zM153 142h2v1h-2zM155 141h2v1h-2zM157 140h2v1h-2zM159 139h2v1h-2zM161 138h3v1h-3zM164 139h4v1h-4zM168 140h2v1h-2zM170 141h1v1h-1zM171 142h1v1h-1zM172 143h1v1h-1zM173 144h2v1h-2zM175 145h2v1h-2zM177 146h3v1h-3zM180 147h7v1h-7zM187 146h2v1h-2zM189 145h2v1h-2zM191 144h2v1h-2zM193 143h1v1h-1zM194 142h1v1h-1zM195 141h1v1h-1zM196 140h1v1h-1zM197 139h2v1h-2zM199 138h2v1h-2zM201 137h1v1h-1zM202 136h2v1h-2zM204 135h1v1h-1zM205 134h2v1h-2zM207 133h2v1h-2zM209 132h2v1h-2zM211 133h2v1h-2zM213 134h2v1h-2zM215 135h2v1h-2zM217 136h3v1h-3zM220 137h3v1h-3zM223 136h2v1h-2zM225 135h2v1h-2zM227 134h2v1h-2zM229 133h2v1h-2zM231 132h2v1h-2zM233 131h3v1h-3zM236 132h8v1h-8zM244 133h2v1h-2zM246 134h2v1h-2zM248 135h1v1h-1zM249 136h3v1h-3zM252 137h8v1h-8zM260 138h3v1h-3zM263 137h2v1h-2zM265 136h1v1h-1zM266 135h2v1h-2zM268 134h1v1h-1zM269 133h1v1h-1zM270 132h2v1h-2zM272 131h1v1h-1zM273 130h11v1h-11zM284 131h12v1h-12zM296 132h4v1h-4zM300 133h4v1h-4zM304 134h2v1h-2zM306 135h2v1h-2zM308 136h1v1h-1zM309 137h1v1h-1zM310 138h2v1h-2zM312 139h1v1h-1zM313 140h1v1h-1zM314 141h2v1h-2zM316 142h1v1h-1zM317 143h1v1h-1zM318 144h1v1h-1zM319 145h1v1h-1zM320 146h1v1h-1zM321 147h1v1h-1zM322 148h2v1h-2zM324 149h1v1h-1zM325 150h1v1h-1zM326 151h1v1h-1zM327 152h1v2h-1zM328 154h1v1h-1zM329 155h5v1h-5zM334 156h2v1h-2zM336 157h1v1h-1zM337 158h1v1h-1zM338 159h1v1h-1zM339 160h1v2h-1zM340 162h1v1h-1zM341 163h1v1h-1zM342 164h1v2h-1zM343 166h1v2h-1zM344 168h1v2h-1zM345 170h1v2h-1zM346 172h1v2h-1zM347 174h1v2h-1zM348 176h1v2h-1zM349 178h1v2h-1zM350 180h1v2h-1zM351 182h1v2h-1zM352 184h1v2h-1zM353 186h1v2h-1zM354 188h1v1h-1zM355 189h1v2h-1zM356 191h1v1h-1zM357 192h1v1h-1zM358 193h2v1h-2zM360 194h1v1h-1zM361 195h1v1h-1zM362 196h1v1h-1zM363 197h1v1h-1zM364 198h1v1h-1zM365 199h1v1h-1zM366 200h2v1h-2zM368 201h1v1h-1zM369 202h1v1h-1zM370 203h1v1h-1zM371 204h1v1h-1zM372 205h1v1h-1zM373 206h1v1h-1zM374 207h2v1h-2zM376 208h1v1h-1zM377 209h1v1h-1zM378 210h2v1h-2zM380 211h1v1h-1zM381 212h2v1h-2zM383 213h2v1h-2zM385 214h1v1h-1zM386 215h1v1h-1zM387 216h1v1h-1zM388 217h1v1h-1zM389 218h1v1h-1zM390 219h1v2h-1zM391 221h1v1h-1zM392 222h1v2h-1zM393 224h1v1h-1zM394 225h2v1h-2zM396 226h1v1h-1zM397 227h7v1h-7zM404 226h2v1h-2zM406 225h2v1h-2zM408 224h1v1h-1zM409 223h3v1h-3zM412 224h3v1h-3zM415 225h2v1h-2zM417 226h3v1h-3zM420 227h4v1h-4zM424 228h3v1h-3zM427 229h2v1h-2zM429 230h2v1h-2zM431 231h2v1h-2zM433 232h1v1h-1zM434 233h2v1h-2zM436 234h1v1h-1zM437 235h1v1h-1zM438 236h2v1h-2zM440 237h1v1h-1zM441 238h1v1h-1zM442 239h2v1h-2zM444 240h1v1h-1zM445 241h3v1h-3zM448 242h2v1h-2zM450 243h2v1h-2zM452 244h1v1h-1zM453 245h2v1h-2zM455 246h2v1h-2zM457 247h2v1h-2zM459 248h2v1h-2zM461 249h1v1h-1zM462 250h2v1h-2zM464 251h1v1h-1zM465 252h2v1h-2zM467 253h2v1h-2zM469 254h3v1h-3zM472 255h3v1h-3zM475 256h2v1h-2zM477 257h2v1h-2zM479 258h2v1h-2zM481 259h2v1h-2zM483 260h2v1h-2zM485 261h1v1h-1zM486 262h2v1h-2zM488 263h1v1h-1zM489 264h1v1h-1zM490 265h1v1h-1zM491 266h1v1h-1zM492 267h1v1h-1zM493 268h1v1h-1zM494 269h1v1h-1zM495 270h1v2h-1zM496 272h1v1h-1zM497 273h1v1h-1zM498 274h1v1h-1zM499 275h1v2h-1zM500 277h1v1h-1zM501 278h1v1h-1zM502 279h1v2h-1zM503 281h1v1h-1zM504 282h1v2h-1zM505 284h1v1h-1zM506 285h1v1h-1zM507 286h1v2h-1zM508 288h1v1h-1zM509 289h1v2h-1zM510 291h1v2h-1zM511 293h1v2h-1zM512 295h1v2h-1zM513 297h1v2h-1zM514 299h1v2h-1zM515 301h1v2h-1zM516 303h1v2h-1zM517 305h1v2h-1zM518 307h1v2h-1zM519 309h1v2h-1zM520 311h1v2h-1zM521 313h1v2h-1zM522 315h1v2h-1zM523 317h1v3h-1zM524 320h1v2h-1zM525 322h1v3h-1zM526 325h1v2h-1zM527 327h1v2h-1zM528 329h1v2h-1zM529 331h1v2h-1zM530 333h1v2h-1zM531 335h1v1h-1zM532 336h1v2h-1zM533 338h1v1h-1zM534 339h1v2h-1zM535 341h1v2h-1zM536 343h1v2h-1zM537 345h1v2h-1zM538 347h1v3h-1zM539 350h1v2h-1zM540 352h1v3h-1zM541 355h1v2h-1zM542 357h1v2h-1zM543 359h1v2h-1zM544 361h1v2h-1zM545 363h1v1h-1zM546 364h1v1h-1zM547 365h1v1h-1zM548 366h1v1h-1zM549 367h1v1h-1zM550 368h1v1h-1zM551 369h1v1h-1zM552 370h1v1h-1zM553 371h2v1h-2zM555 372h2v1h-2zM557 373h2v1h-2zM559 374h2v1h-2zM561 375h1v1h-1zM562 376h2v1h-2zM564 377h1v1h-1zM565 378h2v1h-2zM567 379h2v1h-2zM569 380h2v1h-2zM571 381h2v1h-2zM573 382h6v1h-6zM579 383h2v1h-2zM581 384h1v1h-1zM582 385h2v1h-2zM584 386h1v1h-1zM585 387h1v1h-1zM586 388h2v1h-2zM588 389h1v1h-1zM589 390h2v1h-2zM591 391h2v1h-2zM593 392h1v1h-1zM594 391h2v1h-2zM596 390h1v1h-1zM597 389h7v1h-7zM604 390h4v1h-4zM608 391h3v1h-3zM611 392h2v1h-2zM613 393h1v1h-1zM614 394h2v1h-2zM616 395h1v1h-1zM617 396h2v1h-2zM619 397h2v1h-2zM621 398h3v1h-3zM624 399h2v1h-2zM626 400h2v1h-2zM628 401h1v1h-1zM629 402h7v1h-7zM636 401h3v1h-3zM639 400h2v1h-2zM641 399h3v1h-3zM644 398h4v1h-4zM648 397h4v1h-4zM652 396h3v1h-3zM655 395h2v1h-2zM657 394h15v1h-15zM672 393h4v1h-4zM676 392h4v1h-4zM680 391h3v1h-3zM683 390h2v1h-2zM685 389h3v1h-3zM688 388h4v1h-4zM692 389h4v1h-4zM696 388h7v1h-7zM703 387h2v1h-2zM705 386h1v1h-1zM706 385h2v1h-2zM708 384h1v1h-1zM709 383h1v1h-1zM710 382h2v1h-2zM712 381h1v1h-1zM713 380h1v1h-1zM714 379h1v1h-1zM715 378h1v1h-1zM716 377h1v1h-1zM717 376h1v1h-1zM718 374h1v2h-1zM719 372h1v2h-1zM720 370h1v2h-1zM721 369h1v1h-1zM722 368h1v1h-1zM723 366h1v2h-1zM724 365h1v1h-1zM725 364h1v1h-1zM726 363h2v1h-2zM728 362h1v1h-1zM729 361h1v1h-1zM730 360h1v1h-1zM731 359h1v1h-1zM732 358h1v1h-1zM733 357h1v1h-1zM734 356h2v1h-2zM736 355h1v1h-1zM737 354h1v1h-1zM738 353h2v1h-2zM740 352h1v1h-1zM741 351h1v1h-1zM742 350h1v1h-1zM743 349h1v1h-1zM744 348h1v1h-1zM745 347h2v1h-2zM747 346h2v1h-2zM749 345h3v1h-3zM752 344h8v1h-8zM760 345h2v1h-2zM762 346h1v1h-1zM763 347h1v1h-1zM764 348h1v1h-1zM765 349h1v1h-1zM766 350h1v1h-1zM767 351h1v2h-1zM768 353h1v1h-1zM769 354h1v1h-1zM770 355h1v2h-1zM771 357h1v1h-1zM772 358h1v2h-1zM773 360h1v1h-1zM774 361h1v1h-1zM775 362h1v1h-1zM776 363h1v1h-1zM777 364h1v1h-1zM778 365h1v1h-1zM779 366h1v1h-1zM780 367h1v1h-1zM781 368h2v1h-2zM783 369h2v1h-2zM785 370h3v1h-3zM788 371h4v1h-4zM792 372h2v1h-2zM794 373h2v1h-2zM796 374h1v1h-1zM797 375h1v1h-1zM798 376h1v1h-1zM799 377h1v1h-1zM800 378h1v1h-1zM801 379h1v1h-1zM802 380h1v1h-1zM803 381h1v1h-1zM804 382h1v1h-1zM805 383h2v1h-2zM807 384h2v1h-2zM809 385h1v1h-1zM810 386h1v1h-1zM811 387h1v1h-1zM812 388h1v1h-1zM813 389h1v1h-1zM814 390h2v1h-2zM816 391h1v1h-1zM817 392h3v1h-3zM820 393h4v1h-4zM824 394h11v1h-11zM835 393h2v1h-2zM837 392h6v1h-6zM843 391h2v1h-2zM845 390h3v1h-3zM848 391h4v1h-4zM852 390h7v1h-7zM859 391h2v1h-2zM861 392h2v1h-2zM863 393h2v1h-2zM865 394h3v1h-3zM868 393h2v1h-2zM870 392h2v1h-2zM872 391h1v1h-1zM873 390h1v1h-1zM874 389h2v1h-2zM876 388h1v1h-1zM877 387h2v1h-2zM879 386h2v1h-2zM881 385h3v1h-3zM884 384h4v1h-4zM888 385h4v1h-4zM892 386h3v1h-3zM895 387h2v1h-2zM897 388h1v1h-1zM898 389h2v1h-2zM900 390h1v1h-1zM901 391h7v1h-7zM908 392h3v1h-3zM911 391h2v1h-2zM913 390h1v1h-1zM914 389h1v1h-1zM915 388h1v1h-1zM916 387h1v1h-1zM917 386h1v1h-1zM918 385h1v1h-1zM919 384h1v1h-1zM920 383h1v1h-1zM921 382h6v1h-6zM927 383h2v1h-2zM929 384h1v1h-1zM930 385h1v1h-1zM931 386h1v1h-1zM932 387h1v1h-1zM933 388h1v1h-1zM934 389h2v1h-2zM936 390h1v1h-1zM937 391h1v1h-1zM938 392h2v1h-2zM940 393h1v1h-1zM941 394h1v1h-1zM942 395h2v1h-2zM944 396h1v1h-1zM945 397h1v1h-1zM946 398h1v1h-1zM947 399h1v2h-1zM948 401h1v1h-1zM949 402h1v1h-1zM950 403h1v2h-1zM951 405h1v1h-1zM952 406h1v2h-1zM953 408h1v1h-1zM954 409h1v2h-1zM955 411h1v1h-1zM956 412h1v2h-1zM957 414h1v1h-1zM958 415h1v2h-1zM959 417h1v1h-1zM960 418h1v2h-1zM961 420h1v1h-1zM962 421h1v2h-1zM963 423h1v2h-1zM964 425h1v2h-1zM965 427h1v1h-1zM966 428h1v2h-1zM967 430h1v2h-1zM968 432h1v2h-1zM969 434h1v1h-1zM970 435h1v2h-1zM971 437h1v2h-1zM972 439h1v2h-1zM973 441h1v2h-1zM974 443h1v2h-1zM975 445h1v2h-1zM976 447h1v2h-1zM977 449h1v1h-1zM978 450h1v1h-1zM979 451h1v2h-1zM980 453h1v1h-1zM981 454h1v1h-1zM982 455h1v2h-1zM983 457h1v1h-1zM984 458h1v2h-1zM985 460h1v1h-1zM986 461h1v1h-1zM987 462h1v2h-1zM988 464h1v1h-1zM989 465h1v1h-1zM990 466h1v1h-1zM991 467h1v2h-1zM992 469h1v1h-1zM993 470h1v1h-1zM994 471h1v2h-1zM995 473h1v1h-1zM996 474h1v2h-1zM997 476h1v1h-1zM998 477h1v2h-1zM999 479h1v1h-1zM1000 480h1v2h-1zM1001 482h1v1h-1zM1002 483h2v1h-2zM1004 484h1v1h-1zM1005 485h2v1h-2zM1007 486h2v1h-2zM1009 487h3v1h-3zM1012 488h4v1h-4zM1016 489h8v1h-8zM1024 488h8v1h-8zM1032 487h3v1h-3zM1035 488h2v1h-2zM1037 489h2v1h-2zM1039 490h2v1h-2zM1041 491h3v1h-3zM1044 492h4v1h-4zM1048 493h4v1h-4zM1052 494h3v1h-3zM1055 495h2v1h-2zM1057 496h3v1h-3zM1060 497h8v1h-8zM1068 498h4v1h-4zM1072 499h4v1h-4zM1076 498h4v1h-4zM1080 499h4v1h-4zM1084 500h7v1h-7zM1091 499h2v1h-2zM1093 498h2v1h-2zM1095 497h2v1h-2zM1097 496h2v1h-2zM1099 495h2v1h-2zM1101 494h3v1h-3zM1104 493h2v1h-2zM1106 492h1v1h-1zM1107 491h1v1h-1zM1108 490h1v1h-1zM1109 489h2v1h-2zM1111 488h2v1h-2zM1113 487h3v1h-3zM1116 486h7v1h-7zM1123 485h2v1h-2zM1125 484h11v1h-11zM1136 485h4v1h-4zM1140 484h7v1h-7zM1147 483h2v1h-2zM1149 482h2v1h-2zM1151 481h2v1h-2zM1153 480h1v1h-1zM1154 479h2v1h-2zM1156 478h1v1h-1zM1157 477h1v1h-1zM1158 476h1v1h-1zM1159 474h1v2h-1zM1160 473h1v1h-1zM1161 472h2v1h-2zM1163 471h2v1h-2zM1165 470h1v1h-1zM1166 469h1v1h-1zM1167 467h1v2h-1zM1168 466h1v1h-1zM1169 465h1v1h-1zM1170 464h1v1h-1zM1171 463h1v1h-1zM1172 462h1v1h-1zM1173 461h2v1h-2zM1175 460h2v1h-2zM1177 459h3v1h-3zM1180 458h8v1h-8zM1188 457h4v1h-4zM1192 456h8v1h-8zM1200 455h12v1h-12zM1212 456h3v1h-3zM1215 457h2v1h-2zM1217 458h3v1h-3zM1220 459h6v1h-6zM1226 458h2v1h-2zM1228 457h1v1h-1zM1229 456h1v1h-1zM1230 455h2v1h-2zM1232 454h1v1h-1zM1233 453h1v1h-1zM1234 452h1v1h-1zM1235 450h1v2h-1zM1236 449h1v1h-1zM1237 448h1v1h-1zM1238 446h1v2h-1zM1239 445h1v1h-1zM1240 443h1v2h-1zM1241 442h1v1h-1zM1242 440h1v2h-1zM1243 439h1v1h-1zM1244 437h1v2h-1zM1245 436h1v1h-1zM1246 434h1v2h-1zM1247 432h1v2h-1zM1248 430h1v2h-1zM1249 428h1v2h-1zM1250 426h1v2h-1zM1251 424h1v2h-1zM1252 422h1v2h-1zM1253 421h1v1h-1z"/>
<path fill="#0000cd" d="M1 115h2v1h-2zM3 116h2v1h-2zM5 117h2v1h-2zM7 118h2v1h-2zM9 119h1v1h-1zM10 120h2v1h-2zM12 121h1v1h-1zM13 122h1v1h-1zM14 123h1v1h-1zM15 124h1v1h-1zM16 125h1v1h-1zM17 126h1v1h-1zM18 127h2v1h-2zM20 128h1v1h-1zM21 129h1v1h-1zM22 130h2v1h-2zM24 131h1v1h-1zM25 132h1v1h-1zM26 133h1v2h-1zM27 135h1v1h-1zM28 136h1v2h-1zM29 138h1v1h-1zM30 139h1v1h-1zM31 140h1v2h-1zM32 142h1v1h-1zM33 143h1v1h-1zM34 144h1v1h-1zM35 145h1v2h-1zM36 147h1v1h-1zM37 148h1v1h-1zM38 149h1v1h-1zM39 150h1v1h-1zM40 151h1v1h-1zM41 152h1v1h-1zM42 153h2v1h-2zM44 154h1v1h-1zM45 155h1v1h-1zM46 156h2v1h-2zM48 157h1v1h-1zM49 158h2v1h-2zM51 159h2v1h-2zM53 160h2v1h-2zM55 161h2v1h-2zM57 162h3v1h-3zM60 163h8v1h-8zM68 162h8v1h-8zM76 161h8v1h-8zM84 162h3v1h-3zM87 163h2v1h-2zM89 164h2v1h-2zM91 165h2v1h-2zM93 166h1v1h-1zM94 167h1v1h-1zM95 168h1v1h-1zM96 169h1v1h-1zM97 170h1v1h-1zM98 171h2v1h-2zM100 172h1v1h-1zM101 173h2v1h-2zM103 174h2v1h-2zM105 175h3v1h-3zM108 176h8v1h-8zM116 175h3v1h-3zM119 174h2v1h-2zM121 173h2v1h-2zM123 172h2v1h-2zM125 171h2v1h-2zM127 170h2v1h-2zM129 169h1v1h-1zM130 168h2v1h-2zM132 167h1v1h-1zM133 166h2v1h-2zM135 165h2v1h-2zM137 164h1v1h-1zM138 163h1v1h-1zM139 162h1v1h-1zM140 161h1v1h-1zM141 160h1v1h-1zM142 159h1v1h-1zM143 158h1v1h-1zM144 157h1v1h-1zM145 156h1v1h-1zM146 155h1v1h-1zM147 153h1v2h-1zM148 152h1v1h-1zM149 151h1v1h-1zM150 150h1v1h-1zM151 149h1v1h-1zM152 148h1v1h-1zM153 147h1v1h-1zM154 146h1v1h-1zM155 145h1v1h-1zM156 144h1v1h-1zM157 143h2v1h-2zM159 142h2v1h-2zM161 141h2v1h-2zM163 140h2v1h-2zM165 139h2v1h-2zM167 138h2v1h-2zM169 137h1v1h-1zM170 136h2v1h-2zM172 135h1v1h-1zM173 134h10v1h-10zM183 135h2v1h-2zM185 136h3v1h-3zM188 137h3v1h-3zM191 138h2v1h-2zM193 139h3v1h-3zM196 140h4v1h-4zM200 141h4v1h-4zM204 142h4v1h-4zM208 141h8v1h-8zM216 140h4v1h-4zM220 139h4v1h-4zM224 138h4v1h-4zM228 137h4v1h-4zM232 136h4v1h-4zM236 137h4v1h-4zM240 138h4v1h-4zM244 139h12v1h-12zM256 138h4v1h-4zM260 137h4v1h-4zM264 136h7v1h-7zM271 135h2v1h-2zM273 134h11v1h-11zM284 133h4v1h-4zM288 132h16v1h-16zM304 133h3v1h-3zM307 134h2v1h-2zM309 135h2v1h-2zM311 136h2v1h-2zM313 137h2v1h-2zM315 138h2v1h-2zM317 139h2v1h-2zM319 140h2v1h-2zM321 141h2v1h-2zM323 142h2v1h-2zM325 143h3v1h-3zM328 144h12v1h-12zM340 145h2v1h-2zM342 146h2v1h-2zM344 147h1v1h-1zM345 148h1v1h-1zM346 149h1v1h-1zM347 150h1v2h-1zM348 152h1v1h-1zM349 153h1v1h-1zM350 154h1v1h-1zM351 155h1v2h-1zM352 157h1v1h-1zM353 158h2v1h-2zM355 159h2v1h-2zM357 160h1v1h-1zM358 161h2v1h-2zM360 162h1v1h-1zM361 163h1v1h-1zM362 164h2v1h-2zM364 165h1v1h-1zM365 166h2v1h-2zM367 167h2v1h-2zM369 168h1v1h-1zM370 169h2v1h-2zM372 170h1v1h-1zM373 171h1v1h-1zM374 172h2v1h-2zM376 173h1v1h-1zM377 174h1v1h-1zM378 175h2v1h-2zM380 176h1v1h-1zM381 177h1v1h-1zM382 178h2v1h-2zM384 179h1v1h-1zM385 180h1v1h-1zM386 181h1v1h-1zM387 182h1v1h-1zM388 183h1v1h-1zM389 184h1v1h-1zM390 185h1v1h-1zM391 186h1v1h-1zM392 187h1v1h-1zM393 188h2v1h-2zM395 189h2v1h-2zM397 190h1v1h-1zM398 191h1v1h-1zM399 192h1v1h-1zM400 193h1v1h-1zM401 194h1v1h-1zM402 195h2v1h-2zM404 196h1v1h-1zM405 197h1v1h-1zM406 198h1v1h-1zM407 199h1v1h-1zM408 200h1v1h-1zM409 201h1v1h-1zM410 202h2v1h-2zM412 203h1v1h-1zM413 204h2v1h-2zM415 205h2v1h-2zM417 206h1v1h-1zM418 207h1v1h-1zM419 208h1v1h-1zM420 209h1v1h-1zM421 210h2v1h-2zM423 211h2v1h-2zM425 212h1v1h-1zM426 213h2v1h-2zM428 214h1v1h-1zM429 215h2v1h-2zM431 216h2v1h-2zM433 217h1v1h-1zM434 218h2v1h-2zM436 219h1v1h-1zM437 220h1v1h-1zM438 221h2v1h-2zM440 222h1v1h-1zM441 223h1v1h-1zM442 224h2v1h-2zM444 225h1v1h-1zM445 226h1v1h-1zM446 227h2v1h-2zM448 228h1v1h-1zM449 229h1v1h-1zM450 230h2v1h-2zM452 231h1v1h-1zM453 232h1v1h-1zM454 233h2v1h-2zM456 234h1v1h-1zM457 235h2v1h-2zM459 236h2v1h-2zM461 237h2v1h-2zM463 238h2v1h-2zM465 239h7v1h-7zM472 238h3v1h-3zM475 239h2v1h-2zM477 240h2v1h-2zM479 241h2v1h-2zM481 242h2v1h-2zM483 243h2v1h-2zM485 244h2v1h-2zM487 245h2v1h-2zM489 246h1v1h-1zM490 247h2v1h-2zM492 248h1v1h-1zM493 249h1v1h-1zM494 250h1v1h-1zM495 251h1v1h-1zM496 252h1v1h-1zM497 253h1v1h-1zM498 254h1v1h-1zM499 255h1v1h-1zM500 256h1v1h-1zM501 257h1v1h-1zM502 258h1v1h-1zM503 259h1v1h-1zM504 260h1v1h-1zM505 261h1v1h-1zM506 262h1v1h-1zM507 263h1v1h-1zM508 264h1v1h-1zM509 265h1v1h-1zM510 266h1v1h-1zM511 267h1v1h-1zM512 268h1v1h-1zM513 269h1v1h-1zM514 270h1v1h-1zM515 271h1v2h-1zM516 273h1v1h-1zM517 274h1v1h-1zM518 275h1v1h-1zM519 276h1v2h-1zM520 278h1v1h-1zM521 279h1v1h-1zM522 280h1v1h-1zM523 281h1v2h-1zM524 283h1v1h-1zM525 284h1v1h-1zM526 285h1v1h-1zM527 286h1v2h-1zM528 288h1v1h-1zM529 289h1v1h-1zM530 290h1v1h-1zM531 291h1v2h-1zM532 293h1v1h-1zM533 294h1v1h-1zM534 295h1v1h-1zM535 296h1v1h-1zM536 297h1v1h-1zM537 298h1v1h-1zM538 299h1v2h-1zM539 301h1v1h-1zM540 302h1v2h-1zM541 304h1v1h-1zM542 305h1v1h-1zM543 306h1v2h-1zM544 308h1v1h-1zM545 309h1v1h-1zM546 310h1v1h-1zM547 311h1v1h-1zM548 312h1v1h-1zM549 313h1v1h-1zM550 314h1v1h-1zM551 315h1v2h-1zM552 317h1v1h-1zM553 318h1v1h-1zM554 319h1v1h-1zM555 320h1v1h-1zM556 321h1v1h-1zM557 322h1v1h-1zM558 323h2v1h-2zM560 324h1v1h-1zM561 325h1v1h-1zM562 326h1v1h-1zM563 327h1v1h-1zM564 328h1v1h-1zM565 329h1v1h-1zM566 330h1v1h-1zM567 331h1v1h-1zM568 332h1v1h-1zM569 333h1v1h-1zM570 334h1v1h-1zM571 335h1v2h-1zM572 337h1v1h-1zM573 338h1v1h-1zM574 339h1v1h-1zM575 340h1v1h-1zM576 341h1v1h-1zM577 342h1v1h-1zM578 343h1v1h-1zM579 344h1v2h-1zM580 346h1v1h-1zM581 347h1v1h-1zM582 348h1v1h-1zM583 349h1v2h-1zM584 351h1v1h-1zM585 352h1v1h-1zM586 353h1v1h-1zM587 354h1v2h-1zM588 356h1v1h-1zM589 357h1v1h-1zM590 358h1v1h-1zM591 359h1v2h-1zM592 361h1v1h-1zM593 362h1v1h-1zM594 363h1v1h-1zM595 364h1v1h-1zM596 365h1v1h-1zM597 366h1v1h-1zM598 367h2v1h-2zM600 368h1v1h-1zM601 369h1v1h-1zM602 370h1v1h-1zM603 371h1v1h-1zM604 372h1v1h-1zM605 373h1v1h-1zM606 374h1v1h-1zM607 375h1v1h-1zM608 376h1v1h-1zM609 377h1v1h-1zM610 378h2v1h-2zM612 379h1v1h-1zM613 380h2v1h-2zM615 381h2v1h-2zM617 382h1v1h-1zM618 383h2v1h-2zM620 384h1v1h-1zM621 385h2v1h-2zM623 386h2v1h-2zM625 387h1v1h-1zM626 388h2v1h-2zM628 389h1v1h-1zM629 390h2v1h-2zM631 391h2v1h-2zM633 392h27v1h-27zM660 391h8v1h-8zM668 392h4v1h-4zM672 393h4v1h-4zM676 394h4v1h-4zM680 395h20v1h-20zM700 394h2v1h-2zM702 393h2v1h-2zM704 392h1v1h-1zM705 391h3v1h-3zM708 390h2v1h-2zM710 389h2v1h-2zM712 388h1v1h-1zM713 387h2v1h-2zM715 386h2v1h-2zM717 385h1v1h-1zM718 384h2v1h-2zM720 383h1v1h-1zM721 382h2v1h-2zM723 381h2v1h-2zM725 380h2v1h-2zM727 379h2v1h-2zM729 378h3v1h-3zM732 377h4v1h-4zM736 376h2v1h-2zM738 375h2v1h-2zM740 374h1v1h-1zM741 373h2v1h-2zM743 372h2v1h-2zM745 371h2v1h-2zM747 370h2v1h-2zM749 369h3v1h-3zM752 368h4v1h-4zM756 367h4v1h-4zM760 366h4v1h-4zM764 367h8v1h-8zM772 368h12v1h-12zM784 367h4v1h-4zM788 366h8v1h-8zM796 365h4v1h-4zM800 366h12v1h-12zM812 367h4v1h-4zM816 368h4v1h-4zM820 369h3v1h-3zM823 370h2v1h-2zM825 371h2v1h-2zM827 372h2v1h-2zM829 373h3v1h-3zM832 374h3v1h-3zM835 375h2v1h-2zM837 376h2v1h-2zM839 377h2v1h-2zM841 378h6v1h-6zM847 379h2v1h-2zM849 380h3v1h-3zM852 381h4v1h-4zM856 382h2v1h-2zM858 383h2v1h-2zM860 384h1v1h-1zM861 385h1v1h-1zM862 386h2v1h-2zM864 387h1v1h-1zM865 388h3v1h-3zM868 389h12v1h-12zM880 390h4v1h-4zM884 389h8v1h-8zM892 388h4v1h-4zM896 389h8v1h-8zM904 390h8v1h-8zM912 391h4v1h-4zM916 390h8v1h-8zM924 389h20v1h-20zM944 390h3v1h-3zM947 391h2v1h-2zM949 392h1v1h-1zM950 393h1v1h-1zM951 394h1v1h-1zM952 395h1v1h-1zM953 396h1v1h-1zM954 397h2v1h-2zM956 398h1v1h-1zM957 399h1v1h-1zM958 400h1v1h-1zM959 401h1v1h-1zM960 402h1v1h-1zM961 403h1v1h-1zM962 404h1v1h-1zM963 405h1v2h-1zM964 407h1v1h-1zM965 408h1v1h-1zM966 409h2v1h-2zM968 410h1v1h-1zM969 411h1v1h-1zM970 412h2v1h-2zM972 413h1v1h-1zM973 414h1v1h-1zM974 415h2v1h-2zM976 416h1v1h-1zM977 417h3v1h-3zM980 418h4v1h-4zM984 419h2v1h-2zM986 420h1v1h-1zM987 421h1v1h-1zM988 422h1v1h-1zM989 423h1v1h-1zM990 424h2v1h-2zM992 425h1v1h-1zM993 426h1v1h-1zM994 427h1v1h-1zM995 428h1v2h-1zM996 430h1v1h-1zM997 431h1v1h-1zM998 432h1v1h-1zM999 433h1v1h-1zM1000 434h1v1h-1zM1001 435h1v1h-1zM1002 436h1v1h-1zM1003 437h1v1h-1zM1004 438h1v1h-1zM1005 439h1v1h-1zM1006 440h1v1h-1zM1007 441h1v2h-1zM1008 443h1v1h-1zM1009 444h1v1h-1zM1010 445h2v1h-2zM1012 446h1v1h-1zM1013 447h1v1h-1zM1014 448h2v1h-2zM1016 449h1v1h-1zM1017 450h1v1h-1zM1018 451h2v1h-2zM1020 452h1v1h-1zM1021 453h1v1h-1zM1022 454h2v1h-2zM1024 455h1v1h-1zM1025 456h1v1h-1zM1026 457h2v1h-2zM1028 458h1v1h-1zM1029 459h1v1h-1zM1030 460h2v1h-2zM1032 461h1v1h-1zM1033 462h1v1h-1zM1034 463h1v1h-1zM1035 464h1v1h-1zM1036 465h1v1h-1zM1037 466h1v1h-1zM1038 467h1v1h-1zM1039 468h1v1h-1zM1040 469h1v1h-1zM1041 470h1v1h-1zM1042 471h1v1h-1zM1043 472h1v1h-1zM1044 473h1v1h-1zM1045 474h1v1h-1zM1046 475h2v1h-2zM1048 476h1v1h-1zM1049 477h1v1h-1zM1050 478h1v1h-1zM1051 479h1v1h-1zM1052 480h1v1h-1zM1053 481h1v1h-1zM1054 482h2v1h-2zM1056 483h1v1h-1zM1057 484h1v1h-1zM1058 485h1v1h-1zM1059 486h1v1h-1zM1060 487h1v1h-1zM1061 488h2v1h-2zM1063 489h2v1h-2zM1065 490h2v1h-2zM1067 491h2v1h-2zM1069 492h3v1h-3zM1072 493h4v1h-4zM1076 492h4v1h-4zM1080 493h16v1h-16zM1096 492h32v1h-32zM1128 491h20v1h-20zM1148 490h4v1h-4zM1152 489h3v1h-3zM1155 488h2v1h-2zM1157 487h1v1h-1zM1158 486h2v1h-2zM1160 485h1v1h-1zM1161 484h2v1h-2zM1163 483h2v1h-2zM1165 482h1v1h-1zM1166 481h2v1h-2zM1168 480h1v1h-1zM1169 479h2v1h-2zM1171 478h2v1h-2zM1173 477h2v1h-2zM1175 476h2v1h-2zM1177 475h2v1h-2zM1179 474h2v1h-2zM1181 473h6v1h-6zM1187 472h2v1h-2zM1189 471h14v1h-14zM1203 470h2v1h-2zM1205 469h3v1h-3zM1208 468h4v1h-4zM1212 467h4v1h-4zM1216 466h7v1h-7zM1223 465h2v1h-2zM1225 464h1v1h-1zM1226 463h2v1h-2zM1228 462h1v1h-1zM1229 461h2v1h-2zM1231 460h2v1h-2zM1233 459h1v1h-1zM1234 458h2v1h-2zM1236 457h1v1h-1zM1237 456h1v1h-1zM1238 455h1v1h-1zM1239 454h1v1h-1zM1240 453h1v1h-1zM1241 452h1v1h-1zM1242 451h2v1h-2zM1244 450h1v1h-1zM1245 449h1v1h-1zM1246 448h1v1h-1zM1247 447h1v1h-1zM1248 446h1v1h-1zM1249 445h1v1h-1zM1250 444h1v1h-1zM1251 443h1v1h-1zM1252 442h1v1h-1zM1253 441h1v1h-1z"/>
</g>
<rect x="1" y="306" width="1576" height="2" fill="#ff0000"/>
<rect x="1" y="361" width="1576" height="2" fill="#ff0000"/>
<rect x="0" y="359" width="6" height="6" fill="#ff0000"/>
<rect x="2" y="361" width="2" height="2" fill="#fff"/>
<rect x="1571" y="359" width="6" height="6" fill="#ff0000"/>
<rect x="1573" y="361" width="2" height="2" fill="#fff"/>
<rect x="1" y="432" width="1576" height="2" fill="#00ff00"/>
<rect x="0" y="430" width="6" height="6" fill="#00ff00"/>
<rect x="2" y="432" width="2" height="2" fill="#fff"/>
<rect x="1571" y="430" width="6" height="6" fill="#00ff00"/>
<rect x="1573" y="432" width="2" height="2" fill="#fff"/>
<rect x="1" y="490" width="1576" height="2" fill="#0000ff"/>
<rect x="0" y="488" width="6" height="6" fill="#0000ff"/>
<rect x="2" y="490" width="2" height="2" fill="#fff"/>
<rect x="1571" y="488" width="6" height="6" fill="#0000ff"/>
<rect x="1573" y="490" width="2" height="2" fill="#fff"/>
<rect x="1" y="541" width="1576" height="2" fill="#0000ff"/>
<rect x="0" y="539" width="6" height="6" fill="#0000ff"/>
<rect x="2" y="541" width="2" height="2" fill="#fff"/>
<rect x="1571" y="539" width="6" height="6" fill="#0000ff"/>
<rect x="1573" y="541" width="2" height="2" fill="#fff"/>
<path fill="#c0c0c0" d="M1256 26h9v1h-9zM1257 27h7v1h-7zM1258 28h5v1h-5zM1259 29h3v1h-3zM1260 30h1v1h-1z"/>
<rect x="1578" y="54" width="2" height="1" fill="#000"/>
<text x="1583.6" y="58" font-size="9.8" fill="#000" stroke="#000" stroke-width="0.15" textLength="31.8" lengthAdjust="spacingAndGlyphs">0.98900</text>
<rect x="1578" y="87" width="2" height="1" fill="#000"/>
<text x="1583.6" y="91" font-size="9.8" fill="#000" stroke="#000" stroke-width="0.15" textLength="31.8" lengthAdjust="spacingAndGlyphs">0.98140</text>
<rect x="1578" y="120" width="2" height="1" fill="#000"/>
<text x="1583.6" y="124" font-size="9.8" fill="#000" stroke="#000" stroke-width="0.15" textLength="31.8" lengthAdjust="spacingAndGlyphs">0.97360</text>
<rect x="1578" y="153" width="2" height="1" fill="#000"/>
<text x="1583.6" y="157" font-size="9.8" fill="#000" stroke="#000" stroke-width="0.15" textLength="31.8" lengthAdjust="spacingAndGlyphs">0.96600</text>
<rect x="1578" y="186" width="2" height="1" fill="#000"/>
<text x="1583.6" y="190" font-size="9.8" fill="#000" stroke="#000" stroke-width="0.15" textLength="31.8" lengthAdjust="spacingAndGlyphs">0.95820</text>
<rect x="1578" y="219" width="2" height="1" fill="#000"/>
<text x="1583.6" y="223" font-size="9.8" fill="#000" stroke="#000" stroke-width="0.15" textLength="31.8" lengthAdjust="spacingAndGlyphs">0.95040</text>
<rect x="1578" y="252" width="2" height="1" fill="#000"/>
<text x="1583.6" y="256" font-size="9.8" fill="#000" stroke="#000" stroke-width="0.15" textLength="31.8" lengthAdjust="spacingAndGlyphs">0.94280</text>
<rect x="1578" y="285" width="2" height="1" fill="#000"/>
<text x="1583.6" y="289" font-size="9.8" fill="#000" stroke="#000" stroke-width="0.15" textLength="31.8" lengthAdjust="spacingAndGlyphs">0.93500</text>
<rect x="1578" y="318" width="2" height="1" fill="#000"/>
<text x="1583.6" y="322" font-size="9.8" fill="#000" stroke="#000" stroke-width="0.15" textLength="31.8" lengthAdjust="spacingAndGlyphs">0.92740</text>
<rect x="1578" y="351" width="2" height="1" fill="#000"/>
<text x="1583.6" y="355" font-size="9.8" fill="#000" stroke="#000" stroke-width="0.15" textLength="31.8" lengthAdjust="spacingAndGlyphs">0.91960</text>
<rect x="1578" y="384" width="2" height="1" fill="#000"/>
<text x="1583.6" y="388" font-size="9.8" fill="#000" stroke="#000" stroke-width="0.15" textLength="31.8" lengthAdjust="spacingAndGlyphs">0.91200</text>
<rect x="1578" y="417" width="2" height="1" fill="#000"/>
<text x="1583.6" y="421" font-size="9.8" fill="#000" stroke="#000" stroke-width="0.15" textLength="31.8" lengthAdjust="spacingAndGlyphs">0.90420</text>
<rect x="1578" y="450" width="2" height="1" fill="#000"/>
<text x="1583.6" y="454" font-size="9.8" fill="#000" stroke="#000" stroke-width="0.15" textLength="31.8" lengthAdjust="spacingAndGlyphs">0.89660</text>
<rect x="1578" y="483" width="2" height="1" fill="#000"/>
<text x="1583.6" y="487" font-size="9.8" fill="#000" stroke="#000" stroke-width="0.15" textLength="31.8" lengthAdjust="spacingAndGlyphs">0.88880</text>
<rect x="1578" y="516" width="2" height="1" fill="#000"/>
<text x="1583.6" y="520" font-size="9.8" fill="#000" stroke="#000" stroke-width="0.15" textLength="31.8" lengthAdjust="spacingAndGlyphs">0.88100</text>
<rect x="1578" y="549" width="2" height="1" fill="#000"/>
<text x="1583.6" y="553" font-size="9.8" fill="#000" stroke="#000" stroke-width="0.15" textLength="31.8" lengthAdjust="spacingAndGlyphs">0.87340</text>
<rect x="1579" y="365" width="41" height="11" fill="#000"/>
<text x="1583.6" y="374" font-size="9.8" fill="#fff" stroke="#fff" stroke-width="0.15" textLength="31.8" lengthAdjust="spacingAndGlyphs">0.91515</text>
<rect x="1579" y="301" width="41" height="11" fill="#ff0000"/>
<text x="1583.6" y="310" font-size="9.8" fill="#fff" stroke="#fff" stroke-width="0.15" textLength="31.8" lengthAdjust="spacingAndGlyphs">0.93001</text>
<rect x="1579" y="356" width="41" height="11" fill="#ff0000"/>
<text x="1583.6" y="365" font-size="9.8" fill="#fff" stroke="#fff" stroke-width="0.15" textLength="31.8" lengthAdjust="spacingAndGlyphs">0.91709</text>
<rect x="1579" y="427" width="41" height="11" fill="#00ff00"/>
<text x="1583.6" y="436" font-size="9.8" fill="#fff" stroke="#fff" stroke-width="0.15" textLength="31.8" lengthAdjust="spacingAndGlyphs">0.90055</text>
<rect x="1579" y="485" width="41" height="11" fill="#0000ff"/>
<text x="1583.6" y="494" font-size="9.8" fill="#fff" stroke="#fff" stroke-width="0.15" textLength="31.8" lengthAdjust="spacingAndGlyphs">0.88703</text>
<rect x="1579" y="536" width="41" height="11" fill="#0000ff"/>
<text x="1583.6" y="545" font-size="9.8" fill="#fff" stroke="#fff" stroke-width="0.15" textLength="31.8" lengthAdjust="spacingAndGlyphs">0.87513</text>
<path d="M4 32h7v1h-1v1h-1v1h-1v1h-1v-1h-1v-1h-1v-1h-1z" fill="#000"/>
<text x="16.3" y="37" font-size="9.8" fill="#000" stroke="#000" stroke-width="0.15" textLength="64.3" lengthAdjust="spacingAndGlyphs">USDCHF,Daily</text>
<text x="86.4" y="37" font-size="9.8" fill="#000" stroke="#000" stroke-width="0.15" textLength="141.4" lengthAdjust="spacingAndGlyphs">0.91470 0.91525 0.91354 0.91515</text>
<path fill="#c0c0c0" d="M2 584h3v1h-3zM8 584h3v1h-3zM14 584h3v1h-3zM20 584h3v1h-3zM26 584h3v1h-3zM32 584h3v1h-3zM38 584h3v1h-3zM44 584h3v1h-3zM50 584h3v1h-3zM56 584h3v1h-3zM62 584h3v1h-3zM68 584h3v1h-3zM74 584h3v1h-3zM80 584h3v1h-3zM86 584h3v1h-3zM92 584h3v1h-3zM98 584h3v1h-3zM104 584h3v1h-3zM110 584h3v1h-3zM116 584h3v1h-3zM122 584h3v1h-3zM128 584h3v1h-3zM134 584h3v1h-3zM140 584h3v1h-3zM146 584h3v1h-3zM152 584h3v1h-3zM158 584h3v1h-3zM164 584h3v1h-3zM170 584h3v1h-3zM176 584h3v1h-3zM182 584h3v1h-3zM188 584h3v1h-3zM194 584h3v1h-3zM200 584h3v1h-3zM206 584h3v1h-3zM212 584h3v1h-3zM218 584h3v1h-3zM224 584h3v1h-3zM230 584h3v1h-3zM236 584h3v1h-3zM242 584h3v1h-3zM248 584h3v1h-3zM254 584h3v1h-3zM260 584h3v1h-3zM266 584h3v1h-3zM272 584h3v1h-3zM278 584h3v1h-3zM284 584h3v1h-3zM290 584h3v1h-3zM296 584h3v1h-3zM302 584h3v1h-3zM308 584h3v1h-3zM314 584h3v1h-3zM320 584h3v1h-3zM326 584h3v1h-3zM332 584h3v1h-3zM338 584h3v1h-3zM344 584h3v1h-3zM350 584h3v1h-3zM356 584h3v1h-3zM362 584h3v1h-3zM368 584h3v1h-3zM374 584h3v1h-3zM380 584h3v1h-3zM386 584h3v1h-3zM392 584h3v1h-3zM398 584h3v1h-3zM404 584h3v1h-3zM410 584h3v1h-3zM416 584h3v1h-3zM422 584h3v1h-3zM428 584h3v1h-3zM434 584h3v1h-3zM440 584h3v1h-3zM446 584h3v1h-3zM452 584h3v1h-3zM458 584h3v1h-3zM464 584h3v1h-3zM470 584h3v1h-3zM476 584h3v1h-3zM482 584h3v1h-3zM488 584h3v1h-3zM494 584h3v1h-3zM500 584h3v1h-3zM506 584h3v1h-3zM512 584h3v1h-3zM518 584h3v1h-3zM524 584h3v1h-3zM530 584h3v1h-3zM536 584h3v1h-3zM542 584h3v1h-3zM548 584h3v1h-3zM554 584h3v1h-3zM560 584h3v1h-3zM566 584h3v1h-3zM572 584h3v1h-3zM578 584h3v1h-3zM584 584h3v1h-3zM590 584h3v1h-3zM596 584h3v1h-3zM602 584h3v1h-3zM608 584h3v1h-3zM614 584h3v1h-3zM620 584h3v1h-3zM626 584h3v1h-3zM632 584h3v1h-3zM638 584h3v1h-3zM644 584h3v1h-3zM650 584h3v1h-3zM656 584h3v1h-3zM662 584h3v1h-3zM668 584h3v1h-3zM674 584h3v1h-3zM680 584h3v1h-3zM686 584h3v1h-3zM692 584h3v1h-3zM698 584h3v1h-3zM704 584h3v1h-3zM710 584h3v1h-3zM716 584h3v1h-3zM722 584h3v1h-3zM728 584h3v1h-3zM734 584h3v1h-3zM740 584h3v1h-3zM746 584h3v1h-3zM752 584h3v1h-3zM758 584h3v1h-3zM764 584h3v1h-3zM770 584h3v1h-3zM776 584h3v1h-3zM782 584h3v1h-3zM788 584h3v1h-3zM794 584h3v1h-3zM800 584h3v1h-3zM806 584h3v1h-3zM812 584h3v1h-3zM818 584h3v1h-3zM824 584h3v1h-3zM830 584h3v1h-3zM836 584h3v1h-3zM842 584h3v1h-3zM848 584h3v1h-3zM854 584h3v1h-3zM860 584h3v1h-3zM866 584h3v1h-3zM872 584h3v1h-3zM878 584h3v1h-3zM884 584h3v1h-3zM890 584h3v1h-3zM896 584h3v1h-3zM902 584h3v1h-3zM908 584h3v1h-3zM914 584h3v1h-3zM920 584h3v1h-3zM926 584h3v1h-3zM932 584h3v1h-3zM938 584h3v1h-3zM944 584h3v1h-3zM950 584h3v1h-3zM956 584h3v1h-3zM962 584h3v1h-3zM968 584h3v1h-3zM974 584h3v1h-3zM980 584h3v1h-3zM986 584h3v1h-3zM992 584h3v1h-3zM998 584h3v1h-3zM1004 584h3v1h-3zM1010 584h3v1h-3zM1016 584h3v1h-3zM1022 584h3v1h-3zM1028 584h3v1h-3zM1034 584h3v1h-3zM1040 584h3v1h-3zM1046 584h3v1h-3zM1052 584h3v1h-3zM1058 584h3v1h-3zM1064 584h3v1h-3zM1070 584h3v1h-3zM1076 584h3v1h-3zM1082 584h3v1h-3zM1088 584h3v1h-3zM1094 584h3v1h-3zM1100 584h3v1h-3zM1106 584h3v1h-3zM1112 584h3v1h-3zM1118 584h3v1h-3zM1124 584h3v1h-3zM1130 584h3v1h-3zM1136 584h3v1h-3zM1142 584h3v1h-3zM1148 584h3v1h-3zM1154 584h3v1h-3zM1160 584h3v1h-3zM1166 584h3v1h-3zM1172 584h3v1h-3zM1178 584h3v1h-3zM1184 584h3v1h-3zM1190 584h3v1h-3zM1196 584h3v1h-3zM1202 584h3v1h-3zM1208 584h3v1h-3zM1214 584h3v1h-3zM1220 584h3v1h-3zM1226 584h3v1h-3zM1232 584h3v1h-3zM1238 584h3v1h-3zM1244 584h3v1h-3zM1250 584h3v1h-3zM1256 584h3v1h-3zM1262 584h3v1h-3zM1268 584h3v1h-3zM1274 584h3v1h-3zM1280 584h3v1h-3zM1286 584h3v1h-3zM1292 584h3v1h-3zM1298 584h3v1h-3zM1304 584h3v1h-3zM1310 584h3v1h-3zM1316 584h3v1h-3zM1322 584h3v1h-3zM1328 584h3v1h-3zM1334 584h3v1h-3zM1340 584h3v1h-3zM1346 584h3v1h-3zM1352 584h3v1h-3zM1358 584h3v1h-3zM1364 584h3v1h-3zM1370 584h3v1h-3zM1376 584h3v1h-3zM1382 584h3v1h-3zM1388 584h3v1h-3zM1394 584h3v1h-3zM1400 584h3v1h-3zM1406 584h3v1h-3zM1412 584h3v1h-3zM1418 584h3v1h-3zM1424 584h3v1h-3zM1430 584h3v1h-3zM1436 584h3v1h-3zM1442 584h3v1h-3zM1448 584h3v1h-3zM1454 584h3v1h-3zM1460 584h3v1h-3zM1466 584h3v1h-3zM1472 584h3v1h-3zM1478 584h3v1h-3zM1484 584h3v1h-3zM1490 584h3v1h-3zM1496 584h3v1h-3zM1502 584h3v1h-3zM1508 584h3v1h-3zM1514 584h3v1h-3zM1520 584h3v1h-3zM1526 584h3v1h-3zM1532 584h3v1h-3zM1538 584h3v1h-3zM1544 584h3v1h-3zM1550 584h3v1h-3zM1556 584h3v1h-3zM1562 584h3v1h-3zM1568 584h3v1h-3zM1574 584h3v1h-3z"/>
<text x="1580.6" y="588" font-size="9.8" fill="#000" stroke="#000" stroke-width="0.15" textLength="9.4" lengthAdjust="spacingAndGlyphs">70</text>
<path fill="#c0c0c0" d="M2 621h3v1h-3zM8 621h3v1h-3zM14 621h3v1h-3zM20 621h3v1h-3zM26 621h3v1h-3zM32 621h3v1h-3zM38 621h3v1h-3zM44 621h3v1h-3zM50 621h3v1h-3zM56 621h3v1h-3zM62 621h3v1h-3zM68 621h3v1h-3zM74 621h3v1h-3zM80 621h3v1h-3zM86 621h3v1h-3zM92 621h3v1h-3zM98 621h3v1h-3zM104 621h3v1h-3zM110 621h3v1h-3zM116 621h3v1h-3zM122 621h3v1h-3zM128 621h3v1h-3zM134 621h3v1h-3zM140 621h3v1h-3zM146 621h3v1h-3zM152 621h3v1h-3zM158 621h3v1h-3zM164 621h3v1h-3zM170 621h3v1h-3zM176 621h3v1h-3zM182 621h3v1h-3zM188 621h3v1h-3zM194 621h3v1h-3zM200 621h3v1h-3zM206 621h3v1h-3zM212 621h3v1h-3zM218 621h3v1h-3zM224 621h3v1h-3zM230 621h3v1h-3zM236 621h3v1h-3zM242 621h3v1h-3zM248 621h3v1h-3zM254 621h3v1h-3zM260 621h3v1h-3zM266 621h3v1h-3zM272 621h3v1h-3zM278 621h3v1h-3zM284 621h3v1h-3zM290 621h3v1h-3zM296 621h3v1h-3zM302 621h3v1h-3zM308 621h3v1h-3zM314 621h3v1h-3zM320 621h3v1h-3zM326 621h3v1h-3zM332 621h3v1h-3zM338 621h3v1h-3zM344 621h3v1h-3zM350 621h3v1h-3zM356 621h3v1h-3zM362 621h3v1h-3zM368 621h3v1h-3zM374 621h3v1h-3zM380 621h3v1h-3zM386 621h3v1h-3zM392 621h3v1h-3zM398 621h3v1h-3zM404 621h3v1h-3zM410 621h3v1h-3zM416 621h3v1h-3zM422 621h3v1h-3zM428 621h3v1h-3zM434 621h3v1h-3zM440 621h3v1h-3zM446 621h3v1h-3zM452 621h3v1h-3zM458 621h3v1h-3zM464 621h3v1h-3zM470 621h3v1h-3zM476 621h3v1h-3zM482 621h3v1h-3zM488 621h3v1h-3zM494 621h3v1h-3zM500 621h3v1h-3zM506 621h3v1h-3zM512 621h3v1h-3zM518 621h3v1h-3zM524 621h3v1h-3zM530 621h3v1h-3zM536 621h3v1h-3zM542 621h3v1h-3zM548 621h3v1h-3zM554 621h3v1h-3zM560 621h3v1h-3zM566 621h3v1h-3zM572 621h3v1h-3zM578 621h3v1h-3zM584 621h3v1h-3zM590 621h3v1h-3zM596 621h3v1h-3zM602 621h3v1h-3zM608 621h3v1h-3zM614 621h3v1h-3zM620 621h3v1h-3zM626 621h3v1h-3zM632 621h3v1h-3zM638 621h3v1h-3zM644 621h3v1h-3zM650 621h3v1h-3zM656 621h3v1h-3zM662 621h3v1h-3zM668 621h3v1h-3zM674 621h3v1h-3zM680 621h3v1h-3zM686 621h3v1h-3zM692 621h3v1h-3zM698 621h3v1h-3zM704 621h3v1h-3zM710 621h3v1h-3zM716 621h3v1h-3zM722 621h3v1h-3zM728 621h3v1h-3zM734 621h3v1h-3zM740 621h3v1h-3zM746 621h3v1h-3zM752 621h3v1h-3zM758 621h3v1h-3zM764 621h3v1h-3zM770 621h3v1h-3zM776 621h3v1h-3zM782 621h3v1h-3zM788 621h3v1h-3zM794 621h3v1h-3zM800 621h3v1h-3zM806 621h3v1h-3zM812 621h3v1h-3zM818 621h3v1h-3zM824 621h3v1h-3zM830 621h3v1h-3zM836 621h3v1h-3zM842 621h3v1h-3zM848 621h3v1h-3zM854 621h3v1h-3zM860 621h3v1h-3zM866 621h3v1h-3zM872 621h3v1h-3zM878 621h3v1h-3zM884 621h3v1h-3zM890 621h3v1h-3zM896 621h3v1h-3zM902 621h3v1h-3zM908 621h3v1h-3zM914 621h3v1h-3zM920 621h3v1h-3zM926 621h3v1h-3zM932 621h3v1h-3zM938 621h3v1h-3zM944 621h3v1h-3zM950 621h3v1h-3zM956 621h3v1h-3zM962 621h3v1h-3zM968 621h3v1h-3zM974 621h3v1h-3zM980 621h3v1h-3zM986 621h3v1h-3zM992 621h3v1h-3zM998 621h3v1h-3zM1004 621h3v1h-3zM1010 621h3v1h-3zM1016 621h3v1h-3zM1022 621h3v1h-3zM1028 621h3v1h-3zM1034 621h3v1h-3zM1040 621h3v1h-3zM1046 621h3v1h-3zM1052 621h3v1h-3zM1058 621h3v1h-3zM1064 621h3v1h-3zM1070 621h3v1h-3zM1076 621h3v1h-3zM1082 621h3v1h-3zM1088 621h3v1h-3zM1094 621h3v1h-3zM1100 621h3v1h-3zM1106 621h3v1h-3zM1112 621h3v1h-3zM1118 621h3v1h-3zM1124 621h3v1h-3zM1130 621h3v1h-3zM1136 621h3v1h-3zM1142 621h3v1h-3zM1148 621h3v1h-3zM1154 621h3v1h-3zM1160 621h3v1h-3zM1166 621h3v1h-3zM1172 621h3v1h-3zM1178 621h3v1h-3zM1184 621h3v1h-3zM1190 621h3v1h-3zM1196 621h3v1h-3zM1202 621h3v1h-3zM1208 621h3v1h-3zM1214 621h3v1h-3zM1220 621h3v1h-3zM1226 621h3v1h-3zM1232 621h3v1h-3zM1238 621h3v1h-3zM1244 621h3v1h-3zM1250 621h3v1h-3zM1256 621h3v1h-3zM1262 621h3v1h-3zM1268 621h3v1h-3zM1274 621h3v1h-3zM1280 621h3v1h-3zM1286 621h3v1h-3zM1292 621h3v1h-3zM1298 621h3v1h-3zM1304 621h3v1h-3zM1310 621h3v1h-3zM1316 621h3v1h-3zM1322 621h3v1h-3zM1328 621h3v1h-3zM1334 621h3v1h-3zM1340 621h3v1h-3zM1346 621h3v1h-3zM1352 621h3v1h-3zM1358 621h3v1h-3zM1364 621h3v1h-3zM1370 621h3v1h-3zM1376 621h3v1h-3zM1382 621h3v1h-3zM1388 621h3v1h-3zM1394 621h3v1h-3zM1400 621h3v1h-3zM1406 621h3v1h-3zM1412 621h3v1h-3zM1418 621h3v1h-3zM1424 621h3v1h-3zM1430 621h3v1h-3zM1436 621h3v1h-3zM1442 621h3v1h-3zM1448 621h3v1h-3zM1454 621h3v1h-3zM1460 621h3v1h-3zM1466 621h3v1h-3zM1472 621h3v1h-3zM1478 621h3v1h-3zM1484 621h3v1h-3zM1490 621h3v1h-3zM1496 621h3v1h-3zM1502 621h3v1h-3zM1508 621h3v1h-3zM1514 621h3v1h-3zM1520 621h3v1h-3zM1526 621h3v1h-3zM1532 621h3v1h-3zM1538 621h3v1h-3zM1544 621h3v1h-3zM1550 621h3v1h-3zM1556 621h3v1h-3zM1562 621h3v1h-3zM1568 621h3v1h-3zM1574 621h3v1h-3z"/>
<text x="1580.6" y="625" font-size="9.8" fill="#000" stroke="#000" stroke-width="0.15" textLength="9.4" lengthAdjust="spacingAndGlyphs">30</text>
<rect x="1578" y="556" width="1" height="1" fill="#000"/>
<rect x="1578" y="649" width="1" height="1" fill="#000"/>
<text x="1581" y="565" font-size="9.8" fill="#000" stroke="#000" stroke-width="0.15" textLength="14.6" lengthAdjust="spacingAndGlyphs">100</text>
<text x="1581" y="647" font-size="9.8" fill="#000" stroke="#000" stroke-width="0.15" textLength="5" lengthAdjust="spacingAndGlyphs">0</text>
<text x="5.3" y="567" font-size="9.8" fill="#000" stroke="#000" stroke-width="0.15" textLength="67.4" lengthAdjust="spacingAndGlyphs">RSI(14) 71.0008</text>
<path fill="#1e90ff" d="M1 621h1v1h-1zM2 622h1v1h-1zM3 623h1v2h-1zM4 625h1v1h-1zM5 626h2v1h-2zM7 627h2v1h-2zM9 628h5v1h-5zM14 629h2v1h-2zM16 630h1v1h-1zM17 631h1v1h-1zM18 632h1v1h-1zM19 633h1v2h-1zM20 635h1v1h-1zM21 636h6v1h-6zM27 637h2v1h-2zM29 638h1v1h-1zM30 637h1v1h-1zM31 635h1v2h-1zM32 634h1v1h-1zM33 632h1v2h-1zM34 630h1v2h-1zM35 628h1v2h-1zM36 626h1v2h-1zM37 623h1v3h-1zM38 619h1v4h-1zM39 614h1v5h-1zM40 610h1v4h-1zM41 607h1v3h-1zM42 607h6v1h-6zM48 606h2v1h-2zM50 607h1v2h-1zM51 609h1v1h-1zM52 610h1v2h-1zM53 611h1v2h-1zM54 607h1v4h-1zM55 604h1v3h-1zM56 600h1v4h-1zM57 598h1v2h-1zM58 597h1v1h-1zM59 596h1v1h-1zM60 595h1v1h-1zM61 594h1v1h-1zM62 593h1v1h-1zM63 591h1v2h-1zM64 590h1v1h-1zM65 589h3v1h-3zM68 588h4v1h-4zM72 587h2v1h-2zM74 588h1v1h-1zM75 589h1v2h-1zM76 591h1v1h-1zM77 592h3v1h-3zM80 593h3v1h-3zM83 594h2v1h-2zM85 595h1v2h-1zM86 597h1v2h-1zM87 599h1v3h-1zM88 602h1v2h-1zM89 604h1v2h-1zM90 606h1v1h-1zM91 607h1v1h-1zM92 608h1v1h-1zM93 609h2v1h-2zM95 610h2v1h-2zM97 611h1v1h-1zM98 610h1v1h-1zM99 608h1v2h-1zM100 607h1v1h-1zM101 606h2v1h-2zM103 605h2v1h-2zM105 604h1v1h-1zM106 603h2v1h-2zM108 602h1v1h-1zM109 601h1v1h-1zM110 600h2v1h-2zM112 599h1v1h-1zM113 598h2v1h-2zM115 597h2v1h-2zM117 596h3v1h-3zM120 597h4v1h-4zM124 596h2v1h-2zM126 597h1v1h-1zM127 598h1v2h-1zM128 600h1v1h-1zM129 601h5v1h-5zM134 602h2v1h-2zM136 603h1v1h-1zM137 604h3v1h-3zM140 605h7v1h-7zM147 604h2v1h-2zM149 603h1v1h-1zM150 604h1v1h-1zM151 605h1v2h-1zM152 607h1v1h-1zM153 608h1v1h-1zM154 607h1v1h-1zM155 606h1v1h-1zM156 605h1v1h-1zM157 604h1v1h-1zM158 603h2v1h-2zM160 602h1v1h-1zM161 601h2v1h-2zM163 602h2v1h-2zM165 603h7v1h-7zM172 602h3v1h-3zM175 601h2v1h-2zM177 600h3v1h-3zM180 599h3v1h-3zM183 598h2v1h-2zM185 597h2v1h-2zM187 596h2v1h-2zM189 595h10v1h-10zM199 596h2v1h-2zM201 597h3v1h-3zM204 596h2v1h-2zM205 597h1v1h-1zM206 598h1v2h-1zM207 600h1v3h-1zM208 603h1v2h-1zM209 605h1v2h-1zM210 607h1v2h-1zM211 609h1v2h-1zM212 611h1v2h-1zM213 613h2v1h-2zM215 612h2v1h-2zM217 611h1v1h-1zM218 610h1v1h-1zM219 608h1v2h-1zM220 607h1v1h-1zM221 606h1v1h-1zM222 604h1v2h-1zM223 602h1v2h-1zM224 600h1v2h-1zM225 599h2v1h-2zM227 598h2v1h-2zM229 597h5v1h-5zM234 598h1v1h-1zM235 599h1v2h-1zM236 601h1v1h-1zM237 602h3v1h-3zM240 601h4v1h-4zM244 600h2v1h-2zM246 601h1v1h-1zM247 602h1v1h-1zM248 603h1v1h-1zM249 604h1v1h-1zM250 603h2v1h-2zM252 602h1v1h-1zM253 601h2v1h-2zM255 600h2v1h-2zM257 599h7v1h-7zM264 600h8v1h-8zM272 599h2v1h-2zM273 600h1v1h-1zM274 601h1v3h-1zM275 604h1v2h-1zM276 606h1v3h-1zM277 609h1v2h-1zM278 607h1v2h-1zM279 605h1v2h-1zM280 603h1v2h-1zM281 601h1v2h-1zM282 601h2v1h-2zM284 600h7v1h-7zM291 601h2v1h-2zM293 602h1v1h-1zM294 603h1v1h-1zM295 604h1v2h-1zM296 606h1v1h-1zM297 607h1v1h-1zM298 606h1v1h-1zM299 605h1v1h-1zM300 604h1v1h-1zM301 603h1v1h-1zM302 604h1v2h-1zM303 606h1v1h-1zM304 607h1v2h-1zM305 609h1v1h-1zM306 610h2v1h-2zM308 611h1v1h-1zM309 612h17v1h-17zM326 613h1v2h-1zM327 615h1v1h-1zM328 616h1v2h-1zM329 617h1v2h-1zM330 615h1v2h-1zM331 612h1v3h-1zM332 610h1v2h-1zM333 608h1v2h-1zM334 608h4v1h-4zM338 609h1v2h-1zM339 611h1v1h-1zM340 612h1v2h-1zM341 614h1v1h-1zM342 615h1v2h-1zM343 617h1v2h-1zM344 619h1v2h-1zM345 621h2v1h-2zM347 622h2v1h-2zM349 623h1v1h-1zM350 624h1v1h-1zM351 625h1v1h-1zM352 626h2v1h-2zM353 625h1v1h-1zM353 627h1v1h-1zM354 621h1v4h-1zM355 617h1v4h-1zM356 613h1v4h-1zM357 610h1v3h-1zM358 609h2v1h-2zM360 608h1v1h-1zM361 607h1v1h-1zM362 608h1v1h-1zM363 609h1v1h-1zM364 610h1v1h-1zM365 611h6v1h-6zM371 610h2v1h-2zM373 609h3v1h-3zM376 610h3v1h-3zM379 609h2v1h-2zM381 608h3v1h-3zM384 609h2v1h-2zM386 610h2v1h-2zM388 611h1v1h-1zM389 612h1v1h-1zM390 613h2v1h-2zM392 614h1v1h-1zM393 615h1v1h-1zM394 614h1v1h-1zM395 613h1v1h-1zM396 612h1v1h-1zM397 611h2v1h-2zM399 610h2v1h-2zM401 609h3v1h-3zM404 610h6v1h-6zM410 609h1v1h-1zM411 608h1v1h-1zM412 607h1v1h-1zM413 606h1v1h-1zM414 607h1v1h-1zM415 608h1v1h-1zM416 609h1v1h-1zM417 610h3v1h-3zM420 611h12v1h-12zM432 612h2v1h-2zM434 613h1v1h-1zM435 614h1v1h-1zM436 615h1v1h-1zM437 616h5v1h-5zM442 617h2v1h-2zM444 618h1v1h-1zM445 619h1v1h-1zM446 618h2v1h-2zM448 617h1v1h-1zM449 616h5v1h-5zM454 615h2v1h-2zM456 614h1v1h-1zM457 613h5v1h-5zM462 614h2v1h-2zM464 615h2v1h-2zM465 616h1v1h-1zM466 613h1v2h-1zM467 610h1v3h-1zM468 608h1v2h-1zM469 606h1v2h-1zM470 606h2v1h-2zM472 607h2v1h-2zM474 608h1v1h-1zM475 609h1v2h-1zM476 611h1v1h-1zM477 612h3v1h-3zM480 613h4v1h-4zM484 612h2v1h-2zM486 613h1v2h-1zM487 615h1v1h-1zM488 616h1v2h-1zM489 618h1v1h-1zM490 619h1v1h-1zM491 620h1v2h-1zM492 622h1v1h-1zM493 623h1v1h-1zM494 624h2v1h-2zM496 625h1v1h-1zM497 626h3v1h-3zM500 627h7v1h-7zM507 628h2v1h-2zM509 629h2v1h-2zM511 630h2v1h-2zM513 631h3v1h-3zM516 632h4v1h-4zM520 633h4v1h-4zM524 634h2v1h-2zM526 632h1v2h-1zM527 631h1v1h-1zM528 629h1v2h-1zM529 627h1v2h-1zM530 624h1v3h-1zM531 622h1v2h-1zM532 619h1v3h-1zM533 617h1v2h-1zM534 618h2v1h-2zM536 619h1v1h-1zM537 620h1v1h-1zM538 621h1v2h-1zM539 623h1v2h-1zM540 625h1v2h-1zM541 626h1v2h-1zM542 624h1v2h-1zM543 622h1v2h-1zM544 620h1v2h-1zM545 619h1v1h-1zM546 618h1v1h-1zM547 616h1v2h-1zM548 615h1v1h-1zM549 614h3v1h-3zM552 615h2v1h-2zM554 614h1v1h-1zM555 613h1v1h-1zM556 612h1v1h-1zM557 611h3v1h-3zM560 610h2v1h-2zM562 611h1v1h-1zM563 612h1v2h-1zM564 614h1v1h-1zM565 615h3v1h-3zM568 616h10v1h-10zM578 617h2v1h-2zM580 618h1v1h-1zM581 619h2v1h-2zM583 620h3v1h-3zM585 621h1v1h-1zM586 617h1v3h-1zM587 614h1v3h-1zM588 611h1v3h-1zM589 609h1v2h-1zM590 609h1v1h-1zM591 610h2v1h-2zM593 611h1v1h-1zM594 610h1v1h-1zM595 608h1v2h-1zM596 607h1v1h-1zM597 606h5v1h-5zM602 607h2v1h-2zM604 608h1v1h-1zM605 609h3v1h-3zM608 610h8v1h-8zM616 611h2v1h-2zM618 612h1v1h-1zM619 613h1v1h-1zM620 614h1v1h-1zM621 615h2v1h-2zM623 614h2v1h-2zM625 613h1v1h-1zM626 614h1v1h-1zM627 615h1v1h-1zM628 616h2v1h-2zM629 617h1v1h-1zM630 614h1v2h-1zM631 612h1v2h-1zM632 610h1v2h-1zM633 608h1v2h-1zM634 607h1v1h-1zM635 606h1v1h-1zM636 605h1v1h-1zM637 604h5v1h-5zM642 603h1v1h-1zM643 601h1v2h-1zM644 600h1v1h-1zM645 599h1v1h-1zM646 600h2v1h-2zM648 601h1v1h-1zM649 602h1v1h-1zM650 601h1v1h-1zM651 600h1v1h-1zM652 599h1v1h-1zM653 598h3v1h-3zM656 597h2v1h-2zM658 598h1v1h-1zM659 599h1v1h-1zM660 600h1v1h-1zM661 601h1v1h-1zM662 602h1v2h-1zM663 604h1v1h-1zM664 605h1v2h-1zM665 607h3v1h-3zM668 606h4v1h-4zM672 605h2v1h-2zM674 606h2v1h-2zM676 607h1v1h-1zM677 608h2v1h-2zM679 607h2v1h-2zM681 606h3v1h-3zM684 607h2v1h-2zM686 606h2v1h-2zM688 605h1v1h-1zM689 604h7v1h-7zM696 603h2v1h-2zM697 602h1v1h-1zM698 600h1v2h-1zM699 598h1v2h-1zM700 596h1v2h-1zM701 594h1v2h-1zM702 593h1v1h-1zM703 592h1v1h-1zM704 591h1v1h-1zM705 590h1v1h-1zM706 589h2v1h-2zM708 588h1v1h-1zM709 587h2v1h-2zM711 586h2v1h-2zM713 585h1v1h-1zM714 584h2v1h-2zM716 583h1v1h-1zM717 582h3v1h-3zM720 583h2v1h-2zM722 584h1v2h-1zM723 586h1v2h-1zM724 588h1v2h-1zM725 590h1v1h-1zM726 591h1v1h-1zM727 592h1v2h-1zM728 594h1v1h-1zM729 595h1v1h-1zM730 596h1v1h-1zM731 597h1v2h-1zM732 599h1v1h-1zM733 600h3v1h-3zM736 601h2v1h-2zM738 600h2v1h-2zM740 599h1v1h-1zM741 598h5v1h-5zM746 599h1v2h-1zM747 601h1v2h-1zM748 603h1v2h-1zM749 605h6v1h-6zM755 604h2v1h-2zM757 603h3v1h-3zM760 602h2v1h-2zM761 603h1v1h-1zM762 604h1v2h-1zM763 606h1v3h-1zM764 609h1v2h-1zM765 611h1v2h-1zM766 612h8v1h-8zM773 611h1v1h-1zM774 609h1v2h-1zM775 607h1v2h-1zM776 605h1v2h-1zM777 604h1v1h-1zM778 605h2v1h-2zM780 606h1v1h-1zM781 607h1v1h-1zM782 606h2v1h-2zM784 605h1v1h-1zM785 604h3v1h-3zM788 603h6v1h-6zM793 604h1v1h-1zM794 605h1v2h-1zM795 607h1v2h-1zM796 609h1v2h-1zM797 611h1v1h-1zM798 612h2v1h-2zM800 613h1v1h-1zM801 614h1v1h-1zM802 615h2v1h-2zM804 616h1v1h-1zM805 617h1v1h-1zM806 615h1v2h-1zM807 614h1v1h-1zM808 612h1v2h-1zM809 611h2v1h-2zM811 612h2v1h-2zM813 613h3v1h-3zM816 614h2v1h-2zM818 613h1v1h-1zM819 611h1v2h-1zM820 610h1v1h-1zM821 609h3v1h-3zM824 610h2v1h-2zM826 609h1v1h-1zM827 607h1v2h-1zM828 606h1v1h-1zM829 604h1v2h-1zM830 602h1v2h-1zM831 599h1v3h-1zM832 597h1v2h-1zM833 595h1v2h-1zM834 595h2v1h-2zM836 596h4v1h-4zM840 595h2v1h-2zM842 594h2v1h-2zM844 593h2v1h-2zM845 592h1v1h-1zM846 594h1v2h-1zM847 596h1v3h-1zM848 599h1v2h-1zM849 601h1v2h-1zM850 602h1v1h-1zM851 603h2v1h-2zM853 604h1v1h-1zM854 605h1v2h-1zM855 607h1v2h-1zM856 609h1v2h-1zM857 611h1v1h-1zM858 612h1v2h-1zM859 614h1v1h-1zM860 615h1v2h-1zM861 617h5v1h-5zM865 616h1v1h-1zM866 612h1v4h-1zM867 608h1v4h-1zM868 604h1v4h-1zM869 602h1v2h-1zM870 602h1v1h-1zM871 601h2v1h-2zM873 600h1v1h-1zM874 599h1v1h-1zM875 597h1v2h-1zM876 596h1v1h-1zM877 595h1v1h-1zM878 596h1v1h-1zM879 597h1v2h-1zM880 599h1v1h-1zM881 600h3v1h-3zM884 601h10v1h-10zM894 602h2v1h-2zM896 603h1v1h-1zM897 604h3v1h-3zM900 605h2v1h-2zM902 604h2v1h-2zM904 603h1v1h-1zM905 602h2v1h-2zM907 603h2v1h-2zM909 604h2v1h-2zM911 603h2v1h-2zM913 602h2v1h-2zM915 601h2v1h-2zM917 600h1v1h-1zM918 601h2v1h-2zM920 602h1v1h-1zM921 603h2v1h-2zM923 604h2v1h-2zM925 605h1v1h-1zM926 606h1v1h-1zM927 607h1v1h-1zM928 608h1v1h-1zM929 609h2v1h-2zM931 610h2v1h-2zM933 611h9v1h-9zM942 612h1v1h-1zM943 613h1v2h-1zM944 615h1v1h-1zM945 616h1v1h-1zM946 617h1v1h-1zM947 618h1v1h-1zM948 619h1v1h-1zM949 620h1v1h-1zM950 621h1v1h-1zM951 622h1v2h-1zM952 624h1v1h-1zM953 625h3v1h-3zM956 624h4v1h-4zM960 625h4v1h-4zM964 626h6v1h-6zM970 625h2v1h-2zM972 624h1v1h-1zM973 623h2v1h-2zM975 624h2v1h-2zM977 625h1v1h-1zM978 623h1v2h-1zM979 621h1v2h-1zM980 619h1v2h-1zM981 618h3v1h-3zM984 619h4v1h-4zM988 620h3v1h-3zM991 621h2v1h-2zM993 622h2v1h-2zM995 623h2v1h-2zM997 624h6v1h-6zM1003 623h2v1h-2zM1005 622h3v1h-3zM1008 623h2v1h-2zM1009 622h1v1h-1zM1010 620h1v2h-1zM1011 618h1v2h-1zM1012 616h1v2h-1zM1013 614h1v2h-1zM1014 613h2v1h-2zM1016 612h1v1h-1zM1017 611h3v1h-3zM1020 610h2v1h-2zM1022 609h2v1h-2zM1024 608h1v1h-1zM1025 607h3v1h-3zM1028 606h2v1h-2zM1030 607h2v1h-2zM1032 608h1v1h-1zM1033 609h1v1h-1zM1034 610h1v2h-1zM1035 612h1v2h-1zM1036 614h1v2h-1zM1037 616h2v1h-2zM1039 617h2v1h-2zM1041 618h3v1h-3zM1044 617h2v1h-2zM1046 616h1v1h-1zM1047 615h1v1h-1zM1048 614h1v1h-1zM1049 613h1v1h-1zM1050 614h1v2h-1zM1051 616h1v2h-1zM1052 618h1v2h-1zM1053 620h5v1h-5zM1058 619h1v1h-1zM1059 618h1v1h-1zM1060 617h1v1h-1zM1061 615h1v2h-1zM1062 613h1v2h-1zM1063 611h1v2h-1zM1064 609h1v2h-1zM1065 607h1v2h-1zM1066 608h1v1h-1zM1067 609h1v1h-1zM1068 610h1v1h-1zM1069 611h1v1h-1zM1070 609h1v2h-1zM1071 608h1v1h-1zM1072 606h1v2h-1zM1073 604h1v2h-1zM1074 602h1v2h-1zM1075 600h1v2h-1zM1076 598h1v2h-1zM1077 597h1v1h-1zM1078 598h2v1h-2zM1080 599h1v1h-1zM1081 600h1v1h-1zM1082 601h2v1h-2zM1084 602h1v1h-1zM1085 603h2v1h-2zM1087 602h2v1h-2zM1089 601h3v1h-3zM1092 600h3v1h-3zM1095 599h2v1h-2zM1097 598h3v1h-3zM1100 599h2v1h-2zM1102 600h1v1h-1zM1103 601h1v1h-1zM1104 602h1v1h-1zM1105 603h1v1h-1zM1106 602h2v1h-2zM1108 601h1v1h-1zM1109 600h1v1h-1zM1110 601h1v2h-1zM1111 603h1v2h-1zM1112 605h1v2h-1zM1113 607h3v1h-3zM1116 608h3v1h-3zM1119 607h2v1h-2zM1121 606h1v1h-1zM1122 605h1v1h-1zM1123 604h1v1h-1zM1124 603h1v1h-1zM1125 602h2v1h-2zM1127 603h2v1h-2zM1129 604h1v1h-1zM1130 603h1v1h-1zM1131 602h1v1h-1zM1132 601h1v1h-1zM1133 600h2v1h-2zM1135 601h2v1h-2zM1137 602h2v1h-2zM1139 601h2v1h-2zM1141 600h2v1h-2zM1143 599h2v1h-2zM1145 598h1v1h-1zM1146 596h1v2h-1zM1147 594h1v2h-1zM1148 592h1v2h-1zM1149 591h1v1h-1zM1150 590h1v1h-1zM1151 589h1v1h-1zM1152 588h1v1h-1zM1153 587h3v1h-3zM1156 586h2v1h-2zM1158 585h1v1h-1zM1159 584h1v1h-1zM1160 583h2v1h-2zM1161 582h1v1h-1zM1162 584h1v2h-1zM1163 586h1v2h-1zM1164 588h1v2h-1zM1165 590h6v1h-6zM1171 591h2v1h-2zM1173 592h1v2h-1zM1174 594h1v2h-1zM1175 596h1v3h-1zM1176 599h1v2h-1zM1177 601h1v2h-1zM1178 603h1v1h-1zM1179 604h1v1h-1zM1180 605h1v1h-1zM1181 606h6v1h-6zM1187 605h2v1h-2zM1189 604h3v1h-3zM1192 603h2v1h-2zM1194 604h1v1h-1zM1195 605h1v1h-1zM1196 606h1v1h-1zM1197 607h2v1h-2zM1199 606h2v1h-2zM1201 604h1v2h-1zM1202 601h1v3h-1zM1203 599h1v2h-1zM1204 596h1v3h-1zM1205 594h1v2h-1zM1206 594h2v1h-2zM1208 595h2v1h-2zM1210 596h1v1h-1zM1211 597h1v1h-1zM1212 598h1v1h-1zM1213 599h2v1h-2zM1215 598h2v1h-2zM1217 597h5v1h-5zM1222 595h1v2h-1zM1223 594h1v1h-1zM1224 592h1v2h-1zM1225 590h1v2h-1zM1226 588h1v2h-1zM1227 586h1v2h-1zM1228 584h1v2h-1zM1229 583h1v2h-1zM1230 585h1v2h-1zM1231 587h1v3h-1zM1232 590h1v2h-1zM1233 592h1v2h-1zM1234 593h1v1h-1zM1235 592h2v1h-2zM1237 591h1v1h-1zM1238 590h1v1h-1zM1239 589h1v1h-1zM1240 588h1v1h-1zM1241 587h1v1h-1zM1242 586h2v1h-2zM1244 585h1v1h-1zM1245 584h3v1h-3zM1248 583h6v1h-6z"/>
<g clip-path="url(#cd)">
<rect x="1" y="686" width="1" height="4" fill="#c0c0c0"/>
<rect x="5" y="686" width="1" height="10" fill="#c0c0c0"/>
<rect x="9" y="686" width="1" height="17" fill="#c0c0c0"/>
<rect x="13" y="686" width="1" height="22" fill="#c0c0c0"/>
<rect x="17" y="686" width="1" height="27" fill="#c0c0c0"/>
<rect x="21" y="686" width="1" height="37" fill="#c0c0c0"/>
<rect x="25" y="686" width="1" height="44" fill="#c0c0c0"/>
<rect x="29" y="686" width="1" height="52" fill="#c0c0c0"/>
<rect x="33" y="686" width="1" height="57" fill="#c0c0c0"/>
<rect x="37" y="686" width="1" height="58" fill="#c0c0c0"/>
<rect x="41" y="686" width="1" height="51" fill="#c0c0c0"/>
<rect x="45" y="686" width="1" height="45" fill="#c0c0c0"/>
<rect x="49" y="686" width="1" height="40" fill="#c0c0c0"/>
<rect x="53" y="686" width="1" height="39" fill="#c0c0c0"/>
<rect x="57" y="686" width="1" height="30" fill="#c0c0c0"/>
<rect x="61" y="686" width="1" height="19" fill="#c0c0c0"/>
<rect x="65" y="686" width="1" height="6" fill="#c0c0c0"/>
<rect x="69" y="680" width="1" height="7" fill="#c0c0c0"/>
<rect x="73" y="670" width="1" height="17" fill="#c0c0c0"/>
<rect x="77" y="665" width="1" height="22" fill="#c0c0c0"/>
<rect x="81" y="662" width="1" height="25" fill="#c0c0c0"/>
<rect x="85" y="661" width="1" height="26" fill="#c0c0c0"/>
<rect x="89" y="666" width="1" height="21" fill="#c0c0c0"/>
<rect x="93" y="674" width="1" height="13" fill="#c0c0c0"/>
<rect x="97" y="682" width="1" height="5" fill="#c0c0c0"/>
<rect x="101" y="685" width="1" height="2" fill="#c0c0c0"/>
<rect x="105" y="686" width="1" height="1" fill="#c0c0c0"/>
<rect x="109" y="685" width="1" height="2" fill="#c0c0c0"/>
<rect x="113" y="682" width="1" height="5" fill="#c0c0c0"/>
<rect x="117" y="678" width="1" height="9" fill="#c0c0c0"/>
<rect x="121" y="675" width="1" height="12" fill="#c0c0c0"/>
<rect x="125" y="673" width="1" height="14" fill="#c0c0c0"/>
<rect x="129" y="674" width="1" height="13" fill="#c0c0c0"/>
<rect x="133" y="675" width="1" height="12" fill="#c0c0c0"/>
<rect x="137" y="677" width="1" height="10" fill="#c0c0c0"/>
<rect x="141" y="680" width="1" height="7" fill="#c0c0c0"/>
<rect x="145" y="682" width="1" height="5" fill="#c0c0c0"/>
<rect x="149" y="683" width="1" height="4" fill="#c0c0c0"/>
<rect x="153" y="686" width="1" height="2" fill="#c0c0c0"/>
<rect x="157" y="686" width="1" height="2" fill="#c0c0c0"/>
<rect x="161" y="686" width="1" height="1" fill="#c0c0c0"/>
<rect x="165" y="686" width="1" height="2" fill="#c0c0c0"/>
<rect x="169" y="686" width="1" height="2" fill="#c0c0c0"/>
<rect x="173" y="686" width="1" height="2" fill="#c0c0c0"/>
<rect x="177" y="686" width="1" height="1" fill="#c0c0c0"/>
<rect x="181" y="684" width="1" height="3" fill="#c0c0c0"/>
<rect x="185" y="682" width="1" height="5" fill="#c0c0c0"/>
<rect x="189" y="680" width="1" height="7" fill="#c0c0c0"/>
<rect x="193" y="678" width="1" height="9" fill="#c0c0c0"/>
<rect x="197" y="677" width="1" height="10" fill="#c0c0c0"/>
<rect x="201" y="676" width="1" height="11" fill="#c0c0c0"/>
<rect x="205" y="676" width="1" height="11" fill="#c0c0c0"/>
<rect x="209" y="679" width="1" height="8" fill="#c0c0c0"/>
<rect x="213" y="684" width="1" height="3" fill="#c0c0c0"/>
<rect x="217" y="686" width="1" height="2" fill="#c0c0c0"/>
<rect x="221" y="686" width="1" height="4" fill="#c0c0c0"/>
<rect x="225" y="686" width="1" height="2" fill="#c0c0c0"/>
<rect x="229" y="684" width="1" height="3" fill="#c0c0c0"/>
<rect x="233" y="682" width="1" height="5" fill="#c0c0c0"/>
<rect x="237" y="683" width="1" height="4" fill="#c0c0c0"/>
<rect x="241" y="683" width="1" height="4" fill="#c0c0c0"/>
<rect x="245" y="682" width="1" height="5" fill="#c0c0c0"/>
<rect x="249" y="684" width="1" height="3" fill="#c0c0c0"/>
<rect x="253" y="683" width="1" height="4" fill="#c0c0c0"/>
<rect x="257" y="683" width="1" height="4" fill="#c0c0c0"/>
<rect x="261" y="682" width="1" height="5" fill="#c0c0c0"/>
<rect x="265" y="682" width="1" height="5" fill="#c0c0c0"/>
<rect x="269" y="682" width="1" height="5" fill="#c0c0c0"/>
<rect x="273" y="682" width="1" height="5" fill="#c0c0c0"/>
<rect x="277" y="685" width="1" height="2" fill="#c0c0c0"/>
<rect x="281" y="685" width="1" height="2" fill="#c0c0c0"/>
<rect x="285" y="684" width="1" height="3" fill="#c0c0c0"/>
<rect x="289" y="683" width="1" height="4" fill="#c0c0c0"/>
<rect x="293" y="684" width="1" height="3" fill="#c0c0c0"/>
<rect x="297" y="686" width="1" height="1" fill="#c0c0c0"/>
<rect x="301" y="686" width="1" height="1" fill="#c0c0c0"/>
<rect x="305" y="686" width="1" height="3" fill="#c0c0c0"/>
<rect x="309" y="686" width="1" height="6" fill="#c0c0c0"/>
<rect x="313" y="686" width="1" height="9" fill="#c0c0c0"/>
<rect x="317" y="686" width="1" height="10" fill="#c0c0c0"/>
<rect x="321" y="686" width="1" height="11" fill="#c0c0c0"/>
<rect x="325" y="686" width="1" height="12" fill="#c0c0c0"/>
<rect x="329" y="686" width="1" height="15" fill="#c0c0c0"/>
<rect x="333" y="686" width="1" height="15" fill="#c0c0c0"/>
<rect x="337" y="686" width="1" height="14" fill="#c0c0c0"/>
<rect x="341" y="686" width="1" height="16" fill="#c0c0c0"/>
<rect x="345" y="686" width="1" height="20" fill="#c0c0c0"/>
<rect x="349" y="686" width="1" height="25" fill="#c0c0c0"/>
<rect x="353" y="686" width="1" height="31" fill="#c0c0c0"/>
<rect x="357" y="686" width="1" height="31" fill="#c0c0c0"/>
<rect x="361" y="686" width="1" height="28" fill="#c0c0c0"/>
<rect x="365" y="686" width="1" height="28" fill="#c0c0c0"/>
<rect x="369" y="686" width="1" height="28" fill="#c0c0c0"/>
<rect x="373" y="686" width="1" height="27" fill="#c0c0c0"/>
<rect x="377" y="686" width="1" height="26" fill="#c0c0c0"/>
<rect x="381" y="686" width="1" height="24" fill="#c0c0c0"/>
<rect x="385" y="686" width="1" height="23" fill="#c0c0c0"/>
<rect x="389" y="686" width="1" height="23" fill="#c0c0c0"/>
<rect x="393" y="686" width="1" height="24" fill="#c0c0c0"/>
<rect x="397" y="686" width="1" height="24" fill="#c0c0c0"/>
<rect x="401" y="686" width="1" height="23" fill="#c0c0c0"/>
<rect x="405" y="686" width="1" height="22" fill="#c0c0c0"/>
<rect x="409" y="686" width="1" height="21" fill="#c0c0c0"/>
<rect x="413" y="686" width="1" height="19" fill="#c0c0c0"/>
<rect x="417" y="686" width="1" height="19" fill="#c0c0c0"/>
<rect x="421" y="686" width="1" height="19" fill="#c0c0c0"/>
<rect x="425" y="686" width="1" height="19" fill="#c0c0c0"/>
<rect x="429" y="686" width="1" height="18" fill="#c0c0c0"/>
<rect x="433" y="686" width="1" height="18" fill="#c0c0c0"/>
<rect x="437" y="686" width="1" height="19" fill="#c0c0c0"/>
<rect x="441" y="686" width="1" height="20" fill="#c0c0c0"/>
<rect x="445" y="686" width="1" height="22" fill="#c0c0c0"/>
<rect x="449" y="686" width="1" height="22" fill="#c0c0c0"/>
<rect x="453" y="686" width="1" height="22" fill="#c0c0c0"/>
<rect x="457" y="686" width="1" height="21" fill="#c0c0c0"/>
<rect x="461" y="686" width="1" height="21" fill="#c0c0c0"/>
<rect x="465" y="686" width="1" height="21" fill="#c0c0c0"/>
<rect x="469" y="686" width="1" height="18" fill="#c0c0c0"/>
<rect x="473" y="686" width="1" height="17" fill="#c0c0c0"/>
<rect x="477" y="686" width="1" height="17" fill="#c0c0c0"/>
<rect x="481" y="686" width="1" height="17" fill="#c0c0c0"/>
<rect x="485" y="686" width="1" height="17" fill="#c0c0c0"/>
<rect x="489" y="686" width="1" height="19" fill="#c0c0c0"/>
<rect x="493" y="686" width="1" height="22" fill="#c0c0c0"/>
<rect x="497" y="686" width="1" height="26" fill="#c0c0c0"/>
<rect x="501" y="686" width="1" height="30" fill="#c0c0c0"/>
<rect x="505" y="686" width="1" height="32" fill="#c0c0c0"/>
<rect x="509" y="686" width="1" height="35" fill="#c0c0c0"/>
<rect x="513" y="686" width="1" height="38" fill="#c0c0c0"/>
<rect x="517" y="686" width="1" height="41" fill="#c0c0c0"/>
<rect x="521" y="686" width="1" height="44" fill="#c0c0c0"/>
<rect x="525" y="686" width="1" height="46" fill="#c0c0c0"/>
<rect x="529" y="686" width="1" height="46" fill="#c0c0c0"/>
<rect x="533" y="686" width="1" height="43" fill="#c0c0c0"/>
<rect x="537" y="686" width="1" height="42" fill="#c0c0c0"/>
<rect x="541" y="686" width="1" height="45" fill="#c0c0c0"/>
<rect x="545" y="686" width="1" height="45" fill="#c0c0c0"/>
<rect x="549" y="686" width="1" height="43" fill="#c0c0c0"/>
<rect x="553" y="686" width="1" height="41" fill="#c0c0c0"/>
<rect x="557" y="686" width="1" height="38" fill="#c0c0c0"/>
<rect x="561" y="686" width="1" height="35" fill="#c0c0c0"/>
<rect x="565" y="686" width="1" height="34" fill="#c0c0c0"/>
<rect x="569" y="686" width="1" height="34" fill="#c0c0c0"/>
<rect x="573" y="686" width="1" height="34" fill="#c0c0c0"/>
<rect x="577" y="686" width="1" height="33" fill="#c0c0c0"/>
<rect x="581" y="686" width="1" height="33" fill="#c0c0c0"/>
<rect x="585" y="686" width="1" height="34" fill="#c0c0c0"/>
<rect x="589" y="686" width="1" height="32" fill="#c0c0c0"/>
<rect x="593" y="686" width="1" height="30" fill="#c0c0c0"/>
<rect x="597" y="686" width="1" height="27" fill="#c0c0c0"/>
<rect x="601" y="686" width="1" height="24" fill="#c0c0c0"/>
<rect x="605" y="686" width="1" height="23" fill="#c0c0c0"/>
<rect x="609" y="686" width="1" height="22" fill="#c0c0c0"/>
<rect x="613" y="686" width="1" height="21" fill="#c0c0c0"/>
<rect x="617" y="686" width="1" height="21" fill="#c0c0c0"/>
<rect x="621" y="686" width="1" height="22" fill="#c0c0c0"/>
<rect x="625" y="686" width="1" height="22" fill="#c0c0c0"/>
<rect x="629" y="686" width="1" height="23" fill="#c0c0c0"/>
<rect x="633" y="686" width="1" height="22" fill="#c0c0c0"/>
<rect x="637" y="686" width="1" height="19" fill="#c0c0c0"/>
<rect x="641" y="686" width="1" height="16" fill="#c0c0c0"/>
<rect x="645" y="686" width="1" height="12" fill="#c0c0c0"/>
<rect x="649" y="686" width="1" height="10" fill="#c0c0c0"/>
<rect x="653" y="686" width="1" height="7" fill="#c0c0c0"/>
<rect x="657" y="686" width="1" height="4" fill="#c0c0c0"/>
<rect x="661" y="686" width="1" height="3" fill="#c0c0c0"/>
<rect x="665" y="686" width="1" height="5" fill="#c0c0c0"/>
<rect x="669" y="686" width="1" height="5" fill="#c0c0c0"/>
<rect x="673" y="686" width="1" height="5" fill="#c0c0c0"/>
<rect x="677" y="686" width="1" height="6" fill="#c0c0c0"/>
<rect x="681" y="686" width="1" height="7" fill="#c0c0c0"/>
<rect x="685" y="686" width="1" height="7" fill="#c0c0c0"/>
<rect x="689" y="686" width="1" height="7" fill="#c0c0c0"/>
<rect x="693" y="686" width="1" height="6" fill="#c0c0c0"/>
<rect x="697" y="686" width="1" height="5" fill="#c0c0c0"/>
<rect x="701" y="686" width="1" height="2" fill="#c0c0c0"/>
<rect x="705" y="683" width="1" height="4" fill="#c0c0c0"/>
<rect x="709" y="679" width="1" height="8" fill="#c0c0c0"/>
<rect x="713" y="675" width="1" height="12" fill="#c0c0c0"/>
<rect x="717" y="670" width="1" height="17" fill="#c0c0c0"/>
<rect x="721" y="667" width="1" height="20" fill="#c0c0c0"/>
<rect x="725" y="666" width="1" height="21" fill="#c0c0c0"/>
<rect x="729" y="667" width="1" height="20" fill="#c0c0c0"/>
<rect x="733" y="669" width="1" height="18" fill="#c0c0c0"/>
<rect x="737" y="671" width="1" height="16" fill="#c0c0c0"/>
<rect x="741" y="672" width="1" height="15" fill="#c0c0c0"/>
<rect x="745" y="673" width="1" height="14" fill="#c0c0c0"/>
<rect x="749" y="676" width="1" height="11" fill="#c0c0c0"/>
<rect x="753" y="678" width="1" height="9" fill="#c0c0c0"/>
<rect x="757" y="680" width="1" height="7" fill="#c0c0c0"/>
<rect x="761" y="680" width="1" height="7" fill="#c0c0c0"/>
<rect x="765" y="684" width="1" height="3" fill="#c0c0c0"/>
<rect x="769" y="686" width="1" height="2" fill="#c0c0c0"/>
<rect x="773" y="686" width="1" height="5" fill="#c0c0c0"/>
<rect x="777" y="686" width="1" height="5" fill="#c0c0c0"/>
<rect x="781" y="686" width="1" height="5" fill="#c0c0c0"/>
<rect x="785" y="686" width="1" height="5" fill="#c0c0c0"/>
<rect x="789" y="686" width="1" height="4" fill="#c0c0c0"/>
<rect x="793" y="686" width="1" height="4" fill="#c0c0c0"/>
<rect x="797" y="686" width="1" height="6" fill="#c0c0c0"/>
<rect x="801" y="686" width="1" height="9" fill="#c0c0c0"/>
<rect x="805" y="686" width="1" height="12" fill="#c0c0c0"/>
<rect x="809" y="686" width="1" height="12" fill="#c0c0c0"/>
<rect x="813" y="686" width="1" height="14" fill="#c0c0c0"/>
<rect x="817" y="686" width="1" height="15" fill="#c0c0c0"/>
<rect x="821" y="686" width="1" height="15" fill="#c0c0c0"/>
<rect x="825" y="686" width="1" height="15" fill="#c0c0c0"/>
<rect x="829" y="686" width="1" height="13" fill="#c0c0c0"/>
<rect x="833" y="686" width="1" height="9" fill="#c0c0c0"/>
<rect x="837" y="686" width="1" height="6" fill="#c0c0c0"/>
<rect x="841" y="686" width="1" height="3" fill="#c0c0c0"/>
<rect x="845" y="685" width="1" height="2" fill="#c0c0c0"/>
<rect x="849" y="685" width="1" height="2" fill="#c0c0c0"/>
<rect x="853" y="685" width="1" height="2" fill="#c0c0c0"/>
<rect x="857" y="686" width="1" height="3" fill="#c0c0c0"/>
<rect x="861" y="686" width="1" height="8" fill="#c0c0c0"/>
<rect x="865" y="686" width="1" height="12" fill="#c0c0c0"/>
<rect x="869" y="686" width="1" height="10" fill="#c0c0c0"/>
<rect x="873" y="686" width="1" height="8" fill="#c0c0c0"/>
<rect x="877" y="686" width="1" height="3" fill="#c0c0c0"/>
<rect x="881" y="686" width="1" height="2" fill="#c0c0c0"/>
<rect x="885" y="686" width="1" height="1" fill="#c0c0c0"/>
<rect x="889" y="685" width="1" height="2" fill="#c0c0c0"/>
<rect x="893" y="685" width="1" height="2" fill="#c0c0c0"/>
<rect x="897" y="686" width="1" height="1" fill="#c0c0c0"/>
<rect x="901" y="686" width="1" height="2" fill="#c0c0c0"/>
<rect x="905" y="686" width="1" height="1" fill="#c0c0c0"/>
<rect x="909" y="686" width="1" height="2" fill="#c0c0c0"/>
<rect x="913" y="686" width="1" height="2" fill="#c0c0c0"/>
<rect x="917" y="686" width="1" height="1" fill="#c0c0c0"/>
<rect x="921" y="686" width="1" height="1" fill="#c0c0c0"/>
<rect x="925" y="686" width="1" height="2" fill="#c0c0c0"/>
<rect x="929" y="686" width="1" height="3" fill="#c0c0c0"/>
<rect x="933" y="686" width="1" height="6" fill="#c0c0c0"/>
<rect x="937" y="686" width="1" height="7" fill="#c0c0c0"/>
<rect x="941" y="686" width="1" height="9" fill="#c0c0c0"/>
<rect x="945" y="686" width="1" height="11" fill="#c0c0c0"/>
<rect x="949" y="686" width="1" height="15" fill="#c0c0c0"/>
<rect x="953" y="686" width="1" height="20" fill="#c0c0c0"/>
<rect x="957" y="686" width="1" height="24" fill="#c0c0c0"/>
<rect x="961" y="686" width="1" height="26" fill="#c0c0c0"/>
<rect x="965" y="686" width="1" height="29" fill="#c0c0c0"/>
<rect x="969" y="686" width="1" height="31" fill="#c0c0c0"/>
<rect x="973" y="686" width="1" height="31" fill="#c0c0c0"/>
<rect x="977" y="686" width="1" height="32" fill="#c0c0c0"/>
<rect x="981" y="686" width="1" height="32" fill="#c0c0c0"/>
<rect x="985" y="686" width="1" height="31" fill="#c0c0c0"/>
<rect x="989" y="686" width="1" height="31" fill="#c0c0c0"/>
<rect x="993" y="686" width="1" height="31" fill="#c0c0c0"/>
<rect x="997" y="686" width="1" height="32" fill="#c0c0c0"/>
<rect x="1001" y="686" width="1" height="32" fill="#c0c0c0"/>
<rect x="1005" y="686" width="1" height="31" fill="#c0c0c0"/>
<rect x="1009" y="686" width="1" height="31" fill="#c0c0c0"/>
<rect x="1013" y="686" width="1" height="29" fill="#c0c0c0"/>
<rect x="1017" y="686" width="1" height="27" fill="#c0c0c0"/>
<rect x="1021" y="686" width="1" height="24" fill="#c0c0c0"/>
<rect x="1025" y="686" width="1" height="21" fill="#c0c0c0"/>
<rect x="1029" y="686" width="1" height="19" fill="#c0c0c0"/>
<rect x="1033" y="686" width="1" height="17" fill="#c0c0c0"/>
<rect x="1037" y="686" width="1" height="18" fill="#c0c0c0"/>
<rect x="1041" y="686" width="1" height="19" fill="#c0c0c0"/>
<rect x="1045" y="686" width="1" height="20" fill="#c0c0c0"/>
<rect x="1049" y="686" width="1" height="19" fill="#c0c0c0"/>
<rect x="1053" y="686" width="1" height="21" fill="#c0c0c0"/>
<rect x="1057" y="686" width="1" height="22" fill="#c0c0c0"/>
<rect x="1061" y="686" width="1" height="22" fill="#c0c0c0"/>
<rect x="1065" y="686" width="1" height="19" fill="#c0c0c0"/>
<rect x="1069" y="686" width="1" height="19" fill="#c0c0c0"/>
<rect x="1073" y="686" width="1" height="16" fill="#c0c0c0"/>
<rect x="1077" y="686" width="1" height="12" fill="#c0c0c0"/>
<rect x="1081" y="686" width="1" height="10" fill="#c0c0c0"/>
<rect x="1085" y="686" width="1" height="9" fill="#c0c0c0"/>
<rect x="1089" y="686" width="1" height="7" fill="#c0c0c0"/>
<rect x="1093" y="686" width="1" height="5" fill="#c0c0c0"/>
<rect x="1097" y="686" width="1" height="3" fill="#c0c0c0"/>
<rect x="1101" y="686" width="1" height="2" fill="#c0c0c0"/>
<rect x="1105" y="686" width="1" height="2" fill="#c0c0c0"/>
<rect x="1109" y="686" width="1" height="1" fill="#c0c0c0"/>
<rect x="1113" y="686" width="1" height="2" fill="#c0c0c0"/>
<rect x="1117" y="686" width="1" height="3" fill="#c0c0c0"/>
<rect x="1121" y="686" width="1" height="4" fill="#c0c0c0"/>
<rect x="1125" y="686" width="1" height="3" fill="#c0c0c0"/>
<rect x="1129" y="686" width="1" height="3" fill="#c0c0c0"/>
<rect x="1133" y="686" width="1" height="2" fill="#c0c0c0"/>
<rect x="1137" y="686" width="1" height="2" fill="#c0c0c0"/>
<rect x="1141" y="686" width="1" height="1" fill="#c0c0c0"/>
<rect x="1145" y="685" width="1" height="2" fill="#c0c0c0"/>
<rect x="1149" y="682" width="1" height="5" fill="#c0c0c0"/>
<rect x="1153" y="679" width="1" height="8" fill="#c0c0c0"/>
<rect x="1157" y="676" width="1" height="11" fill="#c0c0c0"/>
<rect x="1161" y="672" width="1" height="15" fill="#c0c0c0"/>
<rect x="1165" y="671" width="1" height="16" fill="#c0c0c0"/>
<rect x="1169" y="670" width="1" height="17" fill="#c0c0c0"/>
<rect x="1173" y="670" width="1" height="17" fill="#c0c0c0"/>
<rect x="1177" y="672" width="1" height="15" fill="#c0c0c0"/>
<rect x="1181" y="675" width="1" height="12" fill="#c0c0c0"/>
<rect x="1185" y="678" width="1" height="9" fill="#c0c0c0"/>
<rect x="1189" y="680" width="1" height="7" fill="#c0c0c0"/>
<rect x="1193" y="681" width="1" height="6" fill="#c0c0c0"/>
<rect x="1197" y="683" width="1" height="4" fill="#c0c0c0"/>
<rect x="1201" y="684" width="1" height="3" fill="#c0c0c0"/>
<rect x="1205" y="682" width="1" height="5" fill="#c0c0c0"/>
<rect x="1209" y="680" width="1" height="7" fill="#c0c0c0"/>
<rect x="1213" y="680" width="1" height="7" fill="#c0c0c0"/>
<rect x="1217" y="680" width="1" height="7" fill="#c0c0c0"/>
<rect x="1221" y="679" width="1" height="8" fill="#c0c0c0"/>
<rect x="1225" y="677" width="1" height="10" fill="#c0c0c0"/>
<rect x="1229" y="673" width="1" height="14" fill="#c0c0c0"/>
<rect x="1233" y="671" width="1" height="16" fill="#c0c0c0"/>
<rect x="1237" y="670" width="1" height="17" fill="#c0c0c0"/>
<rect x="1241" y="667" width="1" height="20" fill="#c0c0c0"/>
<rect x="1245" y="663" width="1" height="24" fill="#c0c0c0"/>
<rect x="1249" y="660" width="1" height="27" fill="#c0c0c0"/>
<rect x="1253" y="658" width="1" height="29" fill="#c0c0c0"/>
</g>
<path fill="#ff0000" d="M1 680h2v1h-2zM3 681h1v1h-1zM7 683h1v1h-1zM8 684h1v1h-1zM9 685h1v1h-1zM13 689h1v1h-1zM14 690h1v1h-1zM15 691h1v1h-1zM19 695h1v2h-1zM20 697h1v1h-1zM23 701h1v1h-1zM24 702h1v1h-1zM25 703h1v1h-1zM28 707h1v2h-1zM29 709h1v1h-1zM32 713h1v2h-1zM33 715h1v1h-1zM36 719h1v2h-1zM37 721h1v1h-1zM40 725h1v1h-1zM41 726h1v1h-1zM42 727h1v1h-1zM46 729h1v1h-1zM47 730h2v1h-2zM52 732h3v1h-3zM58 730h2v1h-2zM60 729h1v1h-1zM63 725h1v1h-1zM64 724h1v1h-1zM65 723h1v1h-1zM67 719h1v1h-1zM68 717h1v2h-1zM70 713h1v1h-1zM71 711h1v2h-1zM73 707h1v1h-1zM74 705h1v2h-1zM76 701h1v1h-1zM77 700h1v1h-1zM78 699h1v1h-1zM80 694h1v2h-1zM81 693h1v1h-1zM83 689h1v1h-1zM84 687h1v2h-1zM87 682h1v2h-1zM88 681h1v1h-1zM91 677h1v1h-1zM92 676h1v1h-1zM93 675h1v1h-1zM97 672h3v1h-3zM103 672h3v1h-3zM109 674h2v1h-2zM111 675h1v1h-1zM115 677h2v1h-2zM117 678h1v1h-1zM121 679h3v1h-3zM127 680h3v1h-3zM133 679h3v1h-3zM139 678h3v1h-3zM145 677h3v1h-3zM151 678h1v1h-1zM152 679h2v1h-2zM157 680h3v1h-3zM163 682h2v1h-2zM165 683h1v1h-1zM169 684h3v1h-3zM175 685h1v1h-1zM176 686h2v1h-2zM181 686h3v1h-3zM187 686h1v1h-1zM188 685h2v1h-2zM193 684h3v1h-3zM199 683h1v1h-1zM200 682h2v1h-2zM205 680h3v1h-3zM211 680h1v1h-1zM212 679h2v1h-2zM217 680h3v1h-3zM223 681h3v1h-3zM229 682h3v1h-3zM235 683h3v1h-3zM241 684h3v1h-3zM247 685h1v1h-1zM248 684h2v1h-2zM253 684h3v1h-3zM259 683h3v1h-3zM265 683h3v1h-3zM271 683h1v1h-1zM272 682h2v1h-2zM277 683h3v1h-3zM283 683h3v1h-3zM289 683h3v1h-3zM295 683h3v1h-3zM301 684h3v1h-3zM307 685h1v1h-1zM308 686h2v1h-2zM313 687h3v1h-3zM319 688h1v1h-1zM320 689h2v1h-2zM325 691h2v1h-2zM327 692h1v1h-1zM331 693h1v1h-1zM332 694h2v1h-2zM337 696h3v1h-3zM343 698h2v1h-2zM345 699h1v1h-1zM349 700h1v1h-1zM350 701h2v1h-2zM355 704h2v1h-2zM357 705h1v1h-1zM361 707h3v1h-3zM367 709h2v1h-2zM369 710h1v1h-1zM373 711h3v1h-3zM379 712h3v1h-3zM385 712h3v1h-3zM391 711h3v1h-3zM397 710h3v1h-3zM403 710h1v1h-1zM404 709h2v1h-2zM409 708h3v1h-3zM415 708h1v1h-1zM416 707h2v1h-2zM421 707h3v1h-3zM427 706h1v1h-1zM428 705h2v1h-2zM433 705h3v1h-3zM439 704h3v1h-3zM445 704h3v1h-3zM451 705h3v1h-3zM457 705h3v1h-3zM463 706h3v1h-3zM469 706h3v1h-3zM475 705h3v1h-3zM481 705h3v1h-3zM487 704h3v1h-3zM493 704h3v1h-3zM499 704h1v1h-1zM500 705h2v1h-2zM505 707h2v1h-2zM507 708h1v1h-1zM511 710h2v1h-2zM513 711h1v1h-1zM517 714h1v1h-1zM518 715h2v1h-2zM523 718h1v1h-1zM524 719h1v1h-1zM525 720h1v1h-1zM529 723h2v1h-2zM531 724h1v1h-1zM535 725h1v1h-1zM536 726h2v1h-2zM541 727h2v1h-2zM543 728h1v1h-1zM547 729h3v1h-3zM553 729h3v1h-3zM559 728h1v1h-1zM560 727h2v1h-2zM565 726h3v1h-3zM571 725h1v1h-1zM572 724h2v1h-2zM577 722h3v1h-3zM583 721h1v1h-1zM584 720h2v1h-2zM589 719h3v1h-3zM595 718h1v1h-1zM596 717h2v1h-2zM601 716h3v1h-3zM607 715h1v1h-1zM608 714h2v1h-2zM613 712h3v1h-3zM619 710h2v1h-2zM621 709h1v1h-1zM625 708h3v1h-3zM631 708h1v1h-1zM632 707h2v1h-2zM637 706h3v1h-3zM643 706h1v1h-1zM644 705h2v1h-2zM649 703h3v1h-3zM655 701h2v1h-2zM657 700h1v1h-1zM661 698h2v1h-2zM663 697h1v1h-1zM667 695h2v1h-2zM669 694h1v1h-1zM673 693h3v1h-3zM679 692h1v1h-1zM680 691h2v1h-2zM685 691h3v1h-3zM691 691h3v1h-3zM697 691h3v1h-3zM703 691h1v1h-1zM704 690h2v1h-2zM709 689h2v1h-2zM711 688h1v1h-1zM715 686h1v1h-1zM716 685h1v1h-1zM717 684h1v1h-1zM721 682h1v1h-1zM722 681h2v1h-2zM727 678h1v1h-1zM728 677h1v1h-1zM729 676h1v1h-1zM733 674h2v1h-2zM735 673h1v1h-1zM739 672h1v1h-1zM740 671h2v1h-2zM745 670h3v1h-3zM751 670h1v1h-1zM752 671h2v1h-2zM757 672h2v1h-2zM759 673h1v1h-1zM763 675h2v1h-2zM765 676h1v1h-1zM769 678h2v1h-2zM771 679h1v1h-1zM775 681h2v1h-2zM777 682h1v1h-1zM781 684h3v1h-3zM787 686h2v1h-2zM789 687h1v1h-1zM793 688h3v1h-3zM799 689h1v1h-1zM800 690h2v1h-2zM805 691h3v1h-3zM811 692h1v1h-1zM812 693h2v1h-2zM817 694h3v1h-3zM823 695h1v1h-1zM824 696h2v1h-2zM829 697h3v1h-3zM835 698h1v1h-1zM836 697h2v1h-2zM841 696h3v1h-3zM847 694h2v1h-2zM849 693h1v1h-1zM853 692h2v1h-2zM855 691h1v1h-1zM859 690h3v1h-3zM865 690h3v1h-3zM871 690h3v1h-3zM877 690h3v1h-3zM883 690h3v1h-3zM889 690h3v1h-3zM895 690h1v1h-1zM896 689h2v1h-2zM901 688h3v1h-3zM907 687h1v1h-1zM908 686h2v1h-2zM913 686h3v1h-3zM919 686h3v1h-3zM925 686h3v1h-3zM931 686h1v1h-1zM932 687h2v1h-2zM937 688h3v1h-3zM943 688h1v1h-1zM944 689h2v1h-2zM949 691h2v1h-2zM951 692h1v1h-1zM955 694h1v1h-1zM956 695h1v1h-1zM957 696h1v1h-1zM961 698h1v1h-1zM962 699h2v1h-2zM967 702h1v1h-1zM968 703h1v1h-1zM969 704h1v1h-1zM973 707h2v1h-2zM975 708h1v1h-1zM979 710h1v1h-1zM980 711h1v1h-1zM981 712h1v1h-1zM985 713h2v1h-2zM987 714h1v1h-1zM991 715h3v1h-3zM997 716h3v1h-3zM1003 716h3v1h-3zM1009 716h3v1h-3zM1015 716h1v1h-1zM1016 715h2v1h-2zM1021 715h3v1h-3zM1027 713h2v1h-2zM1029 712h1v1h-1zM1033 711h2v1h-2zM1035 710h1v1h-1zM1039 709h1v1h-1zM1040 708h2v1h-2zM1045 707h3v1h-3zM1051 706h1v1h-1zM1052 705h2v1h-2zM1057 705h3v1h-3zM1063 705h3v1h-3zM1069 705h3v1h-3zM1075 705h1v1h-1zM1076 704h2v1h-2zM1081 703h3v1h-3zM1087 701h2v1h-2zM1089 700h1v1h-1zM1093 698h2v1h-2zM1095 697h1v1h-1zM1099 695h2v1h-2zM1101 694h1v1h-1zM1105 692h3v1h-3zM1111 691h1v1h-1zM1112 690h2v1h-2zM1117 689h3v1h-3zM1123 688h3v1h-3zM1129 688h3v1h-3zM1135 688h1v1h-1zM1136 687h2v1h-2zM1141 687h3v1h-3zM1147 687h3v1h-3zM1153 686h2v1h-2zM1155 685h1v1h-1zM1159 684h1v1h-1zM1160 683h2v1h-2zM1165 681h2v1h-2zM1167 680h1v1h-1zM1171 678h2v1h-2zM1173 677h1v1h-1zM1177 675h3v1h-3zM1183 674h3v1h-3zM1189 674h3v1h-3zM1195 674h1v1h-1zM1196 675h2v1h-2zM1201 677h3v1h-3zM1207 678h1v1h-1zM1208 679h2v1h-2zM1213 680h3v1h-3zM1219 681h3v1h-3zM1225 681h3v1h-3zM1231 680h1v1h-1zM1232 679h2v1h-2zM1237 677h2v1h-2zM1239 676h1v1h-1zM1243 674h2v1h-2zM1245 673h1v1h-1zM1249 671h2v1h-2zM1251 670h1v1h-1z"/>
<g>
</g>
<text x="5.3" y="665" font-size="9.8" fill="#000" stroke="#000" stroke-width="0.15" textLength="147.8" lengthAdjust="spacingAndGlyphs">MACD(12,26,9) 0.005429 0.003308</text>
<text x="1581.3" y="663" font-size="9.8" fill="#000" stroke="#000" stroke-width="0.15" textLength="36.5" lengthAdjust="spacingAndGlyphs">0.006237</text>
<text x="1581.3" y="690" font-size="9.8" fill="#000" stroke="#000" stroke-width="0.15" textLength="17.6" lengthAdjust="spacingAndGlyphs">0.00</text>
<text x="1581.3" y="745" font-size="9.8" fill="#000" stroke="#000" stroke-width="0.15" textLength="40.2" lengthAdjust="spacingAndGlyphs">-0.011534</text>
<rect x="1578" y="654" width="1" height="1" fill="#000"/>
<rect x="1578" y="686" width="2" height="1" fill="#000"/>
<rect x="1578" y="747" width="1" height="1" fill="#000"/>
<rect x="1" y="749" width="1" height="3" fill="#000"/>
<text x="0.3" y="761" font-size="9.8" fill="#000" stroke="#000" stroke-width="0.15" textLength="51.9" lengthAdjust="spacingAndGlyphs">29 Feb 2020</text>
<rect x="65" y="749" width="1" height="3" fill="#000"/>
<text x="64.2" y="761" font-size="9.8" fill="#000" stroke="#000" stroke-width="0.15" textLength="52.1" lengthAdjust="spacingAndGlyphs">19 Mar 2020</text>
<rect x="129" y="749" width="1" height="3" fill="#000"/>
<text x="127.8" y="761" font-size="9.8" fill="#000" stroke="#000" stroke-width="0.15" textLength="46.5" lengthAdjust="spacingAndGlyphs">7 Apr 2020</text>
<rect x="193" y="749" width="1" height="3" fill="#000"/>
<text x="192" y="761" font-size="9.8" fill="#000" stroke="#000" stroke-width="0.15" textLength="51.3" lengthAdjust="spacingAndGlyphs">25 Apr 2020</text>
<rect x="257" y="749" width="1" height="3" fill="#000"/>
<text x="256.1" y="761" font-size="9.8" fill="#000" stroke="#000" stroke-width="0.15" textLength="55" lengthAdjust="spacingAndGlyphs">14 May 2020</text>
<rect x="321" y="749" width="1" height="3" fill="#000"/>
<text x="320.2" y="761" font-size="9.8" fill="#000" stroke="#000" stroke-width="0.15" textLength="45.2" lengthAdjust="spacingAndGlyphs">2 Jun 2020</text>
<rect x="385" y="749" width="1" height="3" fill="#000"/>
<text x="384" y="761" font-size="9.8" fill="#000" stroke="#000" stroke-width="0.15" textLength="50.2" lengthAdjust="spacingAndGlyphs">20 Jun 2020</text>
<rect x="449" y="749" width="1" height="3" fill="#000"/>
<text x="447.9" y="761" font-size="9.8" fill="#000" stroke="#000" stroke-width="0.15" textLength="42.2" lengthAdjust="spacingAndGlyphs">9 Jul 2020</text>
<rect x="513" y="749" width="1" height="3" fill="#000"/>
<text x="512" y="761" font-size="9.8" fill="#000" stroke="#000" stroke-width="0.15" textLength="47.2" lengthAdjust="spacingAndGlyphs">28 Jul 2020</text>
<rect x="577" y="749" width="1" height="3" fill="#000"/>
<text x="576.1" y="761" font-size="9.8" fill="#000" stroke="#000" stroke-width="0.15" textLength="52.9" lengthAdjust="spacingAndGlyphs">15 Aug 2020</text>
<rect x="641" y="749" width="1" height="3" fill="#000"/>
<text x="640.3" y="761" font-size="9.8" fill="#000" stroke="#000" stroke-width="0.15" textLength="46.6" lengthAdjust="spacingAndGlyphs">3 Sep 2020</text>
<rect x="705" y="749" width="1" height="3" fill="#000"/>
<text x="704.4" y="761" font-size="9.8" fill="#000" stroke="#000" stroke-width="0.15" textLength="51.6" lengthAdjust="spacingAndGlyphs">22 Sep 2020</text>
<rect x="769" y="749" width="1" height="3" fill="#000"/>
<text x="768.7" y="761" font-size="9.8" fill="#000" stroke="#000" stroke-width="0.15" textLength="50.4" lengthAdjust="spacingAndGlyphs">10 Oct 2020</text>
<rect x="833" y="749" width="1" height="3" fill="#000"/>
<text x="831.9" y="761" font-size="9.8" fill="#000" stroke="#000" stroke-width="0.15" textLength="51.1" lengthAdjust="spacingAndGlyphs">29 Oct 2020</text>
<rect x="897" y="749" width="1" height="3" fill="#000"/>
<text x="896" y="761" font-size="9.8" fill="#000" stroke="#000" stroke-width="0.15" textLength="54.3" lengthAdjust="spacingAndGlyphs">17 Nov 2020</text>
<rect x="961" y="749" width="1" height="3" fill="#000"/>
<text x="959.8" y="761" font-size="9.8" fill="#000" stroke="#000" stroke-width="0.15" textLength="47.2" lengthAdjust="spacingAndGlyphs">5 Dec 2020</text>
<rect x="1025" y="749" width="1" height="3" fill="#000"/>
<text x="1023.8" y="761" font-size="9.8" fill="#000" stroke="#000" stroke-width="0.15" textLength="52.4" lengthAdjust="spacingAndGlyphs">24 Dec 2020</text>
<rect x="1089" y="749" width="1" height="3" fill="#000"/>
<text x="1088.1" y="761" font-size="9.8" fill="#000" stroke="#000" stroke-width="0.15" textLength="49.9" lengthAdjust="spacingAndGlyphs">14 Jan 2021</text>
<rect x="1153" y="749" width="1" height="3" fill="#000"/>
<text x="1152.2" y="761" font-size="9.8" fill="#000" stroke="#000" stroke-width="0.15" textLength="46.5" lengthAdjust="spacingAndGlyphs">2 Feb 2021</text>
<rect x="1217" y="749" width="1" height="3" fill="#000"/>
<text x="1216" y="761" font-size="9.8" fill="#000" stroke="#000" stroke-width="0.15" textLength="51.6" lengthAdjust="spacingAndGlyphs">20 Feb 2021</text>
<rect x="0" y="769" width="1622" height="1" fill="#e8e8e8"/>
<rect x="0" y="770" width="1622" height="1" fill="#fafafa"/>
<rect x="0" y="771" width="1622" height="1" fill="#000"/>
<rect x="0" y="772" width="1622" height="1" fill="#fafafa"/>
<rect x="0" y="773" width="1622" height="18" fill="#f0f0f0"/>
<rect x="0" y="791" width="1622" height="1" fill="#fcfcfc"/>
<rect x="0" y="792" width="1622" height="2" fill="#f0f0f0"/>
<rect x="106" y="771" width="100" height="19" fill="#000"/>
<rect x="107" y="770" width="98" height="19" fill="#fff"/>
<rect x="105" y="773" width="1" height="17" fill="#fafafa"/>
<rect x="310" y="775" width="1" height="13" fill="#808080"/>
<rect x="414" y="775" width="1" height="13" fill="#808080"/>
<rect x="518" y="775" width="1" height="13" fill="#808080"/>
<rect x="622" y="775" width="1" height="13" fill="#808080"/>
<rect x="714" y="775" width="1" height="13" fill="#808080"/>
<rect x="806" y="775" width="1" height="13" fill="#808080"/>
<rect x="879" y="775" width="1" height="13" fill="#808080"/>
<rect x="958" y="775" width="1" height="13" fill="#808080"/>
<rect x="1038" y="775" width="1" height="13" fill="#808080"/>
<rect x="1118" y="775" width="1" height="13" fill="#808080"/>
<rect x="1194" y="775" width="1" height="13" fill="#808080"/>
<rect x="1278" y="775" width="1" height="13" fill="#808080"/>
<rect x="1362" y="775" width="1" height="13" fill="#808080"/>
<rect x="1442" y="775" width="1" height="13" fill="#808080"/>
<rect x="1542" y="775" width="1" height="13" fill="#808080"/>
<text x="13.2" y="786" font-size="12.5" fill="#808080" stroke="#808080" stroke-width="0.15" textLength="81.5" lengthAdjust="spacingAndGlyphs">EURUSD,Daily</text>
<text x="116.1" y="786" font-size="12.5" fill="#000" stroke="#000" stroke-width="0.15" textLength="79.7" lengthAdjust="spacingAndGlyphs">USDCHF,Daily</text>
<text x="215.8" y="786" font-size="12.5" fill="#808080" stroke="#808080" stroke-width="0.15" textLength="84.2" lengthAdjust="spacingAndGlyphs">AUDUSD,Daily</text>
<text x="320" y="786" font-size="12.5" fill="#808080" stroke="#808080" stroke-width="0.15" textLength="83.2" lengthAdjust="spacingAndGlyphs">USDCAD,Daily</text>
<text x="423.2" y="786" font-size="12.5" fill="#808080" stroke="#808080" stroke-width="0.15" textLength="84.5" lengthAdjust="spacingAndGlyphs">USDCNH,Daily</text>
<text x="529.4" y="786" font-size="12.5" fill="#808080" stroke="#808080" stroke-width="0.15" textLength="81.5" lengthAdjust="spacingAndGlyphs">EURUSD,Daily</text>
<text x="633" y="786" font-size="12.5" fill="#808080" stroke="#808080" stroke-width="0.15" textLength="69.8" lengthAdjust="spacingAndGlyphs">GBPUSD,H4</text>
<text x="724.2" y="786" font-size="12.5" fill="#808080" stroke="#808080" stroke-width="0.15" textLength="70.8" lengthAdjust="spacingAndGlyphs">XAUUSD,H1</text>
<text x="816.4" y="786" font-size="12.5" fill="#808080" stroke="#808080" stroke-width="0.15" textLength="50.8" lengthAdjust="spacingAndGlyphs">HK50,H1</text>
<text x="888.3" y="786" font-size="12.5" fill="#808080" stroke="#808080" stroke-width="0.15" textLength="58.2" lengthAdjust="spacingAndGlyphs">UK100,H1</text>
<text x="968.2" y="786" font-size="12.5" fill="#808080" stroke="#808080" stroke-width="0.15" textLength="58.2" lengthAdjust="spacingAndGlyphs">UK100,H1</text>
<text x="1048.1" y="786" font-size="12.5" fill="#808080" stroke="#808080" stroke-width="0.15" textLength="58.2" lengthAdjust="spacingAndGlyphs">GER30,H1</text>
<text x="1127.6" y="786" font-size="12.5" fill="#808080" stroke="#808080" stroke-width="0.15" textLength="55.9" lengthAdjust="spacingAndGlyphs">FRA40,H1</text>
<text x="1203.2" y="786" font-size="12.5" fill="#808080" stroke="#808080" stroke-width="0.15" textLength="64.8" lengthAdjust="spacingAndGlyphs">USOil,Daily</text>
<text x="1287.4" y="786" font-size="12.5" fill="#808080" stroke="#808080" stroke-width="0.15" textLength="64.2" lengthAdjust="spacingAndGlyphs">USDJPY,H1</text>
<text x="1371.3" y="786" font-size="12.5" fill="#808080" stroke="#808080" stroke-width="0.15" textLength="60.2" lengthAdjust="spacingAndGlyphs">DJ30,Daily</text>
<text x="1451.2" y="786" font-size="12.5" fill="#808080" stroke="#808080" stroke-width="0.15" textLength="80.3" lengthAdjust="spacingAndGlyphs">CHINA300,H1</text>
<text x="1551.2" y="786" font-size="12.5" fill="#808080" stroke="#808080" stroke-width="0.15" textLength="35.6" lengthAdjust="spacingAndGlyphs">USOil,</text>
<path fill="#808080" d="M1596 777h1v7h-1zM1595 778h1v5h-1zM1594 779h1v3h-1zM1593 780h1v1h-1z"/>
<path fill="#000" d="M1612 777h1v7h-1zM1613 778h1v5h-1zM1614 779h1v3h-1zM1615 780h1v1h-1z"/>
</svg>
</body></html>
